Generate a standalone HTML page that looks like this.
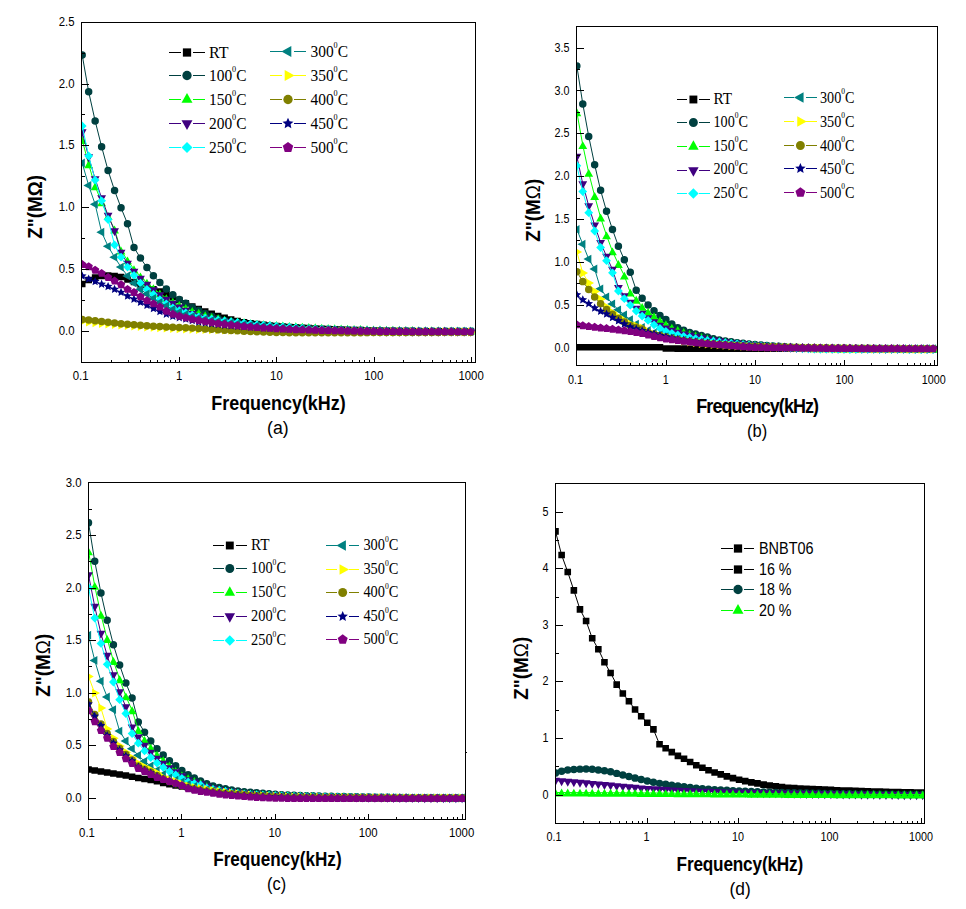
<!DOCTYPE html><html><head><meta charset="utf-8"><style>html,body{margin:0;padding:0;background:#fff;overflow:hidden}svg{display:block}.tk{font-family:"Liberation Sans", sans-serif;font-size:12px;fill:#000}.ti{font-family:"Liberation Sans", sans-serif;font-size:20px;font-weight:bold;fill:#000}.ty{font-family:"Liberation Sans", sans-serif;font-size:20px;font-weight:bold;fill:#000}.sl{font-family:"Liberation Sans", sans-serif;font-size:18px;fill:#000}.lg{font-family:"Liberation Serif", serif;font-size:16px;fill:#000}.lgs{font-family:"Liberation Sans", sans-serif;font-size:16px;fill:#000}</style></head><body>
<svg width="966" height="909" viewBox="0 0 966 909">
<rect width="966" height="909" fill="#fff"/>
<clipPath id="cpa"><rect x="82" y="23" width="393" height="339"/></clipPath>
<g clip-path="url(#cpa)">
<path d="M82.2 284L88.67 280L95.15 277.5L101.62 276L108.09 275.5L114.57 276L121.04 277L127.51 279.5L133.99 282.02L140.46 284.5L146.93 286.89L153.41 289.2L159.88 291.44L166.35 293.97L172.83 296.9L179.3 300L185.77 303.32L192.25 306.5L198.72 309.11L205.19 311.5L211.67 313.86L218.14 316L224.61 317.86L231.09 319.55L237.56 321.02L244.03 322.23L250.51 323.27L256.98 324.15L263.45 324.87L269.93 325.49L276.4 326.03L282.87 326.5L289.35 326.94L295.82 327.35L302.29 327.74L308.77 328.1L315.24 328.44L321.71 328.74L328.19 329L334.66 329.24L341.13 329.48L347.61 329.71L354.08 329.93L360.55 330.14L367.03 330.33L373.5 330.51L379.97 330.67L386.45 330.8L392.92 330.91L399.39 331L405.87 331.07L412.34 331.14L418.81 331.21L425.29 331.27L431.76 331.32L438.23 331.37L444.71 331.42L451.18 331.45L457.65 331.48L464.13 331.49L470.6 331.5" fill="none" stroke="#000000" stroke-width="1"/>
<path d="M78.9 280.7h6.6v6.6h-6.6zM85.37 276.7h6.6v6.6h-6.6zM91.85 274.2h6.6v6.6h-6.6zM98.32 272.7h6.6v6.6h-6.6zM104.79 272.2h6.6v6.6h-6.6zM111.27 272.7h6.6v6.6h-6.6zM117.74 273.7h6.6v6.6h-6.6zM124.21 276.2h6.6v6.6h-6.6zM130.69 278.72h6.6v6.6h-6.6zM137.16 281.2h6.6v6.6h-6.6zM143.63 283.59h6.6v6.6h-6.6zM150.11 285.9h6.6v6.6h-6.6zM156.58 288.14h6.6v6.6h-6.6zM163.05 290.67h6.6v6.6h-6.6zM169.53 293.6h6.6v6.6h-6.6zM176 296.7h6.6v6.6h-6.6zM182.47 300.02h6.6v6.6h-6.6zM188.95 303.2h6.6v6.6h-6.6zM195.42 305.81h6.6v6.6h-6.6zM201.89 308.2h6.6v6.6h-6.6zM208.37 310.56h6.6v6.6h-6.6zM214.84 312.7h6.6v6.6h-6.6zM221.31 314.56h6.6v6.6h-6.6zM227.79 316.25h6.6v6.6h-6.6zM234.26 317.72h6.6v6.6h-6.6zM240.73 318.93h6.6v6.6h-6.6zM247.21 319.97h6.6v6.6h-6.6zM253.68 320.85h6.6v6.6h-6.6zM260.15 321.57h6.6v6.6h-6.6zM266.63 322.19h6.6v6.6h-6.6zM273.1 322.73h6.6v6.6h-6.6zM279.57 323.2h6.6v6.6h-6.6zM286.05 323.64h6.6v6.6h-6.6zM292.52 324.05h6.6v6.6h-6.6zM298.99 324.44h6.6v6.6h-6.6zM305.47 324.8h6.6v6.6h-6.6zM311.94 325.14h6.6v6.6h-6.6zM318.41 325.44h6.6v6.6h-6.6zM324.89 325.7h6.6v6.6h-6.6zM331.36 325.94h6.6v6.6h-6.6zM337.83 326.18h6.6v6.6h-6.6zM344.31 326.41h6.6v6.6h-6.6zM350.78 326.63h6.6v6.6h-6.6zM357.25 326.84h6.6v6.6h-6.6zM363.73 327.03h6.6v6.6h-6.6zM370.2 327.21h6.6v6.6h-6.6zM376.67 327.37h6.6v6.6h-6.6zM383.15 327.5h6.6v6.6h-6.6zM389.62 327.61h6.6v6.6h-6.6zM396.09 327.7h6.6v6.6h-6.6zM402.57 327.77h6.6v6.6h-6.6zM409.04 327.84h6.6v6.6h-6.6zM415.51 327.91h6.6v6.6h-6.6zM421.99 327.97h6.6v6.6h-6.6zM428.46 328.02h6.6v6.6h-6.6zM434.93 328.07h6.6v6.6h-6.6zM441.41 328.12h6.6v6.6h-6.6zM447.88 328.15h6.6v6.6h-6.6zM454.35 328.18h6.6v6.6h-6.6zM460.83 328.19h6.6v6.6h-6.6zM467.3 328.2h6.6v6.6h-6.6z" fill="#000000"/>
<path d="M82.2 55L88.67 91.8L95.15 120.9L101.62 146.7L108.09 170.5L114.57 190.5L121.04 207.8L127.51 223.7L133.99 247.5L140.46 258.1L146.93 267.4L153.41 275.8L159.88 282.5L166.35 289L172.83 294.7L179.3 299.5L185.77 303.3L192.25 307.2L198.72 310.5L205.19 313.5L211.67 316.3L218.14 318.6L224.61 320.5L231.09 322L237.56 323.08L244.03 324.41L250.51 325.45L256.98 326.01L263.45 326.66L269.93 327.45L276.4 327.91L282.87 328.27L289.35 328.57L295.82 328.83L302.29 329.09L308.77 329.35L315.24 329.58L321.71 329.8L328.19 330L334.66 330.17L341.13 330.3L347.61 330.41L354.08 330.51L360.55 330.61L367.03 330.69L373.5 330.77L379.97 330.84L386.45 330.9L392.92 330.95L399.39 331L405.87 331.04L412.34 331.08L418.81 331.12L425.29 331.16L431.76 331.19L438.23 331.22L444.71 331.25L451.18 331.27L457.65 331.29L464.13 331.3L470.6 331.3" fill="none" stroke="#004040" stroke-width="1"/>
<path d="M78.46 55a3.74 3.74 0 1 0 7.48 0a3.74 3.74 0 1 0 -7.48 0zM84.93 91.8a3.74 3.74 0 1 0 7.48 0a3.74 3.74 0 1 0 -7.48 0zM91.41 120.9a3.74 3.74 0 1 0 7.48 0a3.74 3.74 0 1 0 -7.48 0zM97.88 146.7a3.74 3.74 0 1 0 7.48 0a3.74 3.74 0 1 0 -7.48 0zM104.35 170.5a3.74 3.74 0 1 0 7.48 0a3.74 3.74 0 1 0 -7.48 0zM110.83 190.5a3.74 3.74 0 1 0 7.48 0a3.74 3.74 0 1 0 -7.48 0zM117.3 207.8a3.74 3.74 0 1 0 7.48 0a3.74 3.74 0 1 0 -7.48 0zM123.77 223.7a3.74 3.74 0 1 0 7.48 0a3.74 3.74 0 1 0 -7.48 0zM130.25 247.5a3.74 3.74 0 1 0 7.48 0a3.74 3.74 0 1 0 -7.48 0zM136.72 258.1a3.74 3.74 0 1 0 7.48 0a3.74 3.74 0 1 0 -7.48 0zM143.19 267.4a3.74 3.74 0 1 0 7.48 0a3.74 3.74 0 1 0 -7.48 0zM149.67 275.8a3.74 3.74 0 1 0 7.48 0a3.74 3.74 0 1 0 -7.48 0zM156.14 282.5a3.74 3.74 0 1 0 7.48 0a3.74 3.74 0 1 0 -7.48 0zM162.61 289a3.74 3.74 0 1 0 7.48 0a3.74 3.74 0 1 0 -7.48 0zM169.09 294.7a3.74 3.74 0 1 0 7.48 0a3.74 3.74 0 1 0 -7.48 0zM175.56 299.5a3.74 3.74 0 1 0 7.48 0a3.74 3.74 0 1 0 -7.48 0zM182.03 303.3a3.74 3.74 0 1 0 7.48 0a3.74 3.74 0 1 0 -7.48 0zM188.51 307.2a3.74 3.74 0 1 0 7.48 0a3.74 3.74 0 1 0 -7.48 0zM194.98 310.5a3.74 3.74 0 1 0 7.48 0a3.74 3.74 0 1 0 -7.48 0zM201.45 313.5a3.74 3.74 0 1 0 7.48 0a3.74 3.74 0 1 0 -7.48 0zM207.93 316.3a3.74 3.74 0 1 0 7.48 0a3.74 3.74 0 1 0 -7.48 0zM214.4 318.6a3.74 3.74 0 1 0 7.48 0a3.74 3.74 0 1 0 -7.48 0zM220.87 320.5a3.74 3.74 0 1 0 7.48 0a3.74 3.74 0 1 0 -7.48 0zM227.35 322a3.74 3.74 0 1 0 7.48 0a3.74 3.74 0 1 0 -7.48 0zM233.82 323.08a3.74 3.74 0 1 0 7.48 0a3.74 3.74 0 1 0 -7.48 0zM240.29 324.41a3.74 3.74 0 1 0 7.48 0a3.74 3.74 0 1 0 -7.48 0zM246.77 325.45a3.74 3.74 0 1 0 7.48 0a3.74 3.74 0 1 0 -7.48 0zM253.24 326.01a3.74 3.74 0 1 0 7.48 0a3.74 3.74 0 1 0 -7.48 0zM259.71 326.66a3.74 3.74 0 1 0 7.48 0a3.74 3.74 0 1 0 -7.48 0zM266.19 327.45a3.74 3.74 0 1 0 7.48 0a3.74 3.74 0 1 0 -7.48 0zM272.66 327.91a3.74 3.74 0 1 0 7.48 0a3.74 3.74 0 1 0 -7.48 0zM279.13 328.27a3.74 3.74 0 1 0 7.48 0a3.74 3.74 0 1 0 -7.48 0zM285.61 328.57a3.74 3.74 0 1 0 7.48 0a3.74 3.74 0 1 0 -7.48 0zM292.08 328.83a3.74 3.74 0 1 0 7.48 0a3.74 3.74 0 1 0 -7.48 0zM298.55 329.09a3.74 3.74 0 1 0 7.48 0a3.74 3.74 0 1 0 -7.48 0zM305.03 329.35a3.74 3.74 0 1 0 7.48 0a3.74 3.74 0 1 0 -7.48 0zM311.5 329.58a3.74 3.74 0 1 0 7.48 0a3.74 3.74 0 1 0 -7.48 0zM317.97 329.8a3.74 3.74 0 1 0 7.48 0a3.74 3.74 0 1 0 -7.48 0zM324.45 330a3.74 3.74 0 1 0 7.48 0a3.74 3.74 0 1 0 -7.48 0zM330.92 330.17a3.74 3.74 0 1 0 7.48 0a3.74 3.74 0 1 0 -7.48 0zM337.39 330.3a3.74 3.74 0 1 0 7.48 0a3.74 3.74 0 1 0 -7.48 0zM343.87 330.41a3.74 3.74 0 1 0 7.48 0a3.74 3.74 0 1 0 -7.48 0zM350.34 330.51a3.74 3.74 0 1 0 7.48 0a3.74 3.74 0 1 0 -7.48 0zM356.81 330.61a3.74 3.74 0 1 0 7.48 0a3.74 3.74 0 1 0 -7.48 0zM363.29 330.69a3.74 3.74 0 1 0 7.48 0a3.74 3.74 0 1 0 -7.48 0zM369.76 330.77a3.74 3.74 0 1 0 7.48 0a3.74 3.74 0 1 0 -7.48 0zM376.23 330.84a3.74 3.74 0 1 0 7.48 0a3.74 3.74 0 1 0 -7.48 0zM382.71 330.9a3.74 3.74 0 1 0 7.48 0a3.74 3.74 0 1 0 -7.48 0zM389.18 330.95a3.74 3.74 0 1 0 7.48 0a3.74 3.74 0 1 0 -7.48 0zM395.65 331a3.74 3.74 0 1 0 7.48 0a3.74 3.74 0 1 0 -7.48 0zM402.13 331.04a3.74 3.74 0 1 0 7.48 0a3.74 3.74 0 1 0 -7.48 0zM408.6 331.08a3.74 3.74 0 1 0 7.48 0a3.74 3.74 0 1 0 -7.48 0zM415.07 331.12a3.74 3.74 0 1 0 7.48 0a3.74 3.74 0 1 0 -7.48 0zM421.55 331.16a3.74 3.74 0 1 0 7.48 0a3.74 3.74 0 1 0 -7.48 0zM428.02 331.19a3.74 3.74 0 1 0 7.48 0a3.74 3.74 0 1 0 -7.48 0zM434.49 331.22a3.74 3.74 0 1 0 7.48 0a3.74 3.74 0 1 0 -7.48 0zM440.97 331.25a3.74 3.74 0 1 0 7.48 0a3.74 3.74 0 1 0 -7.48 0zM447.44 331.27a3.74 3.74 0 1 0 7.48 0a3.74 3.74 0 1 0 -7.48 0zM453.91 331.29a3.74 3.74 0 1 0 7.48 0a3.74 3.74 0 1 0 -7.48 0zM460.39 331.3a3.74 3.74 0 1 0 7.48 0a3.74 3.74 0 1 0 -7.48 0zM466.86 331.3a3.74 3.74 0 1 0 7.48 0a3.74 3.74 0 1 0 -7.48 0z" fill="#004040"/>
<path d="M82.2 140L88.67 164.3L95.15 186.3L101.62 202.3L108.09 216L114.57 229.5L121.04 250.5L127.51 260.4L133.99 269.2L140.46 276.4L146.93 282.6L153.41 288.3L159.88 293.5L166.35 298.1L172.83 301.8L179.3 304.99L185.77 308L192.25 311L198.72 312.8L205.19 315.3L211.67 317L218.14 318.2L224.61 319.8L231.09 320.7L237.56 321.5L244.03 322.3L250.51 323.2L256.98 323.75L263.45 324.2L269.93 324.65L276.4 325.08L282.87 325.49L289.35 325.89L295.82 326.27L302.29 326.63L308.77 326.98L315.24 327.33L321.71 327.67L328.19 327.98L334.66 328.26L341.13 328.5L347.61 328.71L354.08 328.91L360.55 329.08L367.03 329.24L373.5 329.38L379.97 329.5L386.45 329.61L392.92 329.71L399.39 329.81L405.87 329.91L412.34 330L418.81 330.09L425.29 330.18L431.76 330.25L438.23 330.32L444.71 330.38L451.18 330.43L457.65 330.46L464.13 330.49L470.6 330.5" fill="none" stroke="#00ff00" stroke-width="1"/>
<path d="M82.2 136.04L86.6 143.96L77.8 143.96zM88.67 160.34L93.07 168.26L84.27 168.26zM95.15 182.34L99.55 190.26L90.75 190.26zM101.62 198.34L106.02 206.26L97.22 206.26zM108.09 212.04L112.49 219.96L103.69 219.96zM114.57 225.54L118.97 233.46L110.17 233.46zM121.04 246.54L125.44 254.46L116.64 254.46zM127.51 256.44L131.91 264.36L123.11 264.36zM133.99 265.24L138.39 273.16L129.59 273.16zM140.46 272.44L144.86 280.36L136.06 280.36zM146.93 278.64L151.33 286.56L142.53 286.56zM153.41 284.34L157.81 292.26L149.01 292.26zM159.88 289.54L164.28 297.46L155.48 297.46zM166.35 294.14L170.75 302.06L161.95 302.06zM172.83 297.84L177.23 305.76L168.43 305.76zM179.3 301.03L183.7 308.95L174.9 308.95zM185.77 304.04L190.17 311.96L181.37 311.96zM192.25 307.04L196.65 314.96L187.85 314.96zM198.72 308.84L203.12 316.76L194.32 316.76zM205.19 311.34L209.59 319.26L200.79 319.26zM211.67 313.04L216.07 320.96L207.27 320.96zM218.14 314.24L222.54 322.16L213.74 322.16zM224.61 315.84L229.01 323.76L220.21 323.76zM231.09 316.74L235.49 324.66L226.69 324.66zM237.56 317.54L241.96 325.46L233.16 325.46zM244.03 318.34L248.43 326.26L239.63 326.26zM250.51 319.24L254.91 327.16L246.11 327.16zM256.98 319.79L261.38 327.71L252.58 327.71zM263.45 320.24L267.85 328.16L259.05 328.16zM269.93 320.69L274.33 328.61L265.53 328.61zM276.4 321.12L280.8 329.04L272 329.04zM282.87 321.53L287.27 329.45L278.47 329.45zM289.35 321.93L293.75 329.85L284.95 329.85zM295.82 322.31L300.22 330.23L291.42 330.23zM302.29 322.67L306.69 330.59L297.89 330.59zM308.77 323.02L313.17 330.94L304.37 330.94zM315.24 323.37L319.64 331.29L310.84 331.29zM321.71 323.71L326.11 331.63L317.31 331.63zM328.19 324.02L332.59 331.94L323.79 331.94zM334.66 324.3L339.06 332.22L330.26 332.22zM341.13 324.54L345.53 332.46L336.73 332.46zM347.61 324.75L352.01 332.67L343.21 332.67zM354.08 324.95L358.48 332.87L349.68 332.87zM360.55 325.12L364.95 333.04L356.15 333.04zM367.03 325.28L371.43 333.2L362.63 333.2zM373.5 325.42L377.9 333.34L369.1 333.34zM379.97 325.54L384.37 333.46L375.57 333.46zM386.45 325.65L390.85 333.57L382.05 333.57zM392.92 325.75L397.32 333.67L388.52 333.67zM399.39 325.85L403.79 333.77L394.99 333.77zM405.87 325.95L410.27 333.87L401.47 333.87zM412.34 326.04L416.74 333.96L407.94 333.96zM418.81 326.13L423.21 334.05L414.41 334.05zM425.29 326.22L429.69 334.14L420.89 334.14zM431.76 326.29L436.16 334.21L427.36 334.21zM438.23 326.36L442.63 334.28L433.83 334.28zM444.71 326.42L449.11 334.34L440.31 334.34zM451.18 326.47L455.58 334.39L446.78 334.39zM457.65 326.5L462.05 334.42L453.25 334.42zM464.13 326.53L468.53 334.45L459.73 334.45zM470.6 326.54L475 334.46L466.2 334.46z" fill="#00ff00"/>
<path d="M82.2 132L88.67 157L95.15 179L101.62 198L108.09 215.5L114.57 230.8L121.04 252.4L127.51 263.5L133.99 271.5L140.46 278.5L146.93 284.5L153.41 290L159.88 295L166.35 299.5L172.83 303.5L179.3 307.17L185.77 310.5L192.25 313.55L198.72 316L205.19 317.71L211.67 319.17L218.14 320.41L224.61 321.51L231.09 322.5L237.56 323.43L244.03 324.29L250.51 325.09L256.98 325.81L263.45 326.45L269.93 327L276.4 327.5L282.87 327.97L289.35 328.41L295.82 328.81L302.29 329.18L308.77 329.5L315.24 329.78L321.71 330L328.19 330.19L334.66 330.38L341.13 330.56L347.61 330.73L354.08 330.89L360.55 331.04L367.03 331.17L373.5 331.28L379.97 331.37L386.45 331.44L392.92 331.49L399.39 331.5L405.87 331.5L412.34 331.5L418.81 331.5L425.29 331.5L431.76 331.5L438.23 331.5L444.71 331.5L451.18 331.5L457.65 331.5L464.13 331.5L470.6 331.5" fill="none" stroke="#400080" stroke-width="1"/>
<path d="M82.2 137.28L86.6 129.36L77.8 129.36zM88.67 162.28L93.07 154.36L84.27 154.36zM95.15 184.28L99.55 176.36L90.75 176.36zM101.62 203.28L106.02 195.36L97.22 195.36zM108.09 220.78L112.49 212.86L103.69 212.86zM114.57 236.08L118.97 228.16L110.17 228.16zM121.04 257.68L125.44 249.76L116.64 249.76zM127.51 268.78L131.91 260.86L123.11 260.86zM133.99 276.78L138.39 268.86L129.59 268.86zM140.46 283.78L144.86 275.86L136.06 275.86zM146.93 289.78L151.33 281.86L142.53 281.86zM153.41 295.28L157.81 287.36L149.01 287.36zM159.88 300.28L164.28 292.36L155.48 292.36zM166.35 304.78L170.75 296.86L161.95 296.86zM172.83 308.78L177.23 300.86L168.43 300.86zM179.3 312.45L183.7 304.53L174.9 304.53zM185.77 315.78L190.17 307.86L181.37 307.86zM192.25 318.83L196.65 310.91L187.85 310.91zM198.72 321.28L203.12 313.36L194.32 313.36zM205.19 322.99L209.59 315.07L200.79 315.07zM211.67 324.45L216.07 316.53L207.27 316.53zM218.14 325.69L222.54 317.77L213.74 317.77zM224.61 326.79L229.01 318.87L220.21 318.87zM231.09 327.78L235.49 319.86L226.69 319.86zM237.56 328.71L241.96 320.79L233.16 320.79zM244.03 329.57L248.43 321.65L239.63 321.65zM250.51 330.37L254.91 322.45L246.11 322.45zM256.98 331.09L261.38 323.17L252.58 323.17zM263.45 331.73L267.85 323.81L259.05 323.81zM269.93 332.28L274.33 324.36L265.53 324.36zM276.4 332.78L280.8 324.86L272 324.86zM282.87 333.25L287.27 325.33L278.47 325.33zM289.35 333.69L293.75 325.77L284.95 325.77zM295.82 334.09L300.22 326.17L291.42 326.17zM302.29 334.46L306.69 326.54L297.89 326.54zM308.77 334.78L313.17 326.86L304.37 326.86zM315.24 335.06L319.64 327.14L310.84 327.14zM321.71 335.28L326.11 327.36L317.31 327.36zM328.19 335.47L332.59 327.55L323.79 327.55zM334.66 335.66L339.06 327.74L330.26 327.74zM341.13 335.84L345.53 327.92L336.73 327.92zM347.61 336.01L352.01 328.09L343.21 328.09zM354.08 336.17L358.48 328.25L349.68 328.25zM360.55 336.32L364.95 328.4L356.15 328.4zM367.03 336.45L371.43 328.53L362.63 328.53zM373.5 336.56L377.9 328.64L369.1 328.64zM379.97 336.65L384.37 328.73L375.57 328.73zM386.45 336.72L390.85 328.8L382.05 328.8zM392.92 336.77L397.32 328.85L388.52 328.85zM399.39 336.78L403.79 328.86L394.99 328.86zM405.87 336.78L410.27 328.86L401.47 328.86zM412.34 336.78L416.74 328.86L407.94 328.86zM418.81 336.78L423.21 328.86L414.41 328.86zM425.29 336.78L429.69 328.86L420.89 328.86zM431.76 336.78L436.16 328.86L427.36 328.86zM438.23 336.78L442.63 328.86L433.83 328.86zM444.71 336.78L449.11 328.86L440.31 328.86zM451.18 336.78L455.58 328.86L446.78 328.86zM457.65 336.78L462.05 328.86L453.25 328.86zM464.13 336.78L468.53 328.86L459.73 328.86zM470.6 336.78L475 328.86L466.2 328.86z" fill="#400080"/>
<path d="M82.2 126L88.67 155.9L95.15 180.1L101.62 200.8L108.09 219.5L114.57 244.9L121.04 257.2L127.51 267.1L133.99 275.4L140.46 283.1L146.93 289.3L153.41 294.5L159.88 299.7L166.35 303.8L172.83 308L179.3 310.77L185.77 313L192.25 315.11L198.72 316.8L205.19 318.05L211.67 319.15L218.14 320.11L224.61 320.98L231.09 321.77L237.56 322.52L244.03 323.25L250.51 323.92L256.98 324.56L263.45 325.15L269.93 325.71L276.4 326.23L282.87 326.72L289.35 327.2L295.82 327.68L302.29 328.13L308.77 328.56L315.24 328.93L321.71 329.25L328.19 329.5L334.66 329.7L341.13 329.89L347.61 330.07L354.08 330.23L360.55 330.38L367.03 330.51L373.5 330.63L379.97 330.74L386.45 330.84L392.92 330.93L399.39 331L405.87 331.07L412.34 331.13L418.81 331.2L425.29 331.26L431.76 331.32L438.23 331.37L444.71 331.41L451.18 331.45L457.65 331.48L464.13 331.49L470.6 331.5" fill="none" stroke="#00ffff" stroke-width="1"/>
<path d="M82.2 121.6L86.6 126L82.2 130.4L77.8 126zM88.67 151.5L93.07 155.9L88.67 160.3L84.27 155.9zM95.15 175.7L99.55 180.1L95.15 184.5L90.75 180.1zM101.62 196.4L106.02 200.8L101.62 205.2L97.22 200.8zM108.09 215.1L112.49 219.5L108.09 223.9L103.69 219.5zM114.57 240.5L118.97 244.9L114.57 249.3L110.17 244.9zM121.04 252.8L125.44 257.2L121.04 261.6L116.64 257.2zM127.51 262.7L131.91 267.1L127.51 271.5L123.11 267.1zM133.99 271L138.39 275.4L133.99 279.8L129.59 275.4zM140.46 278.7L144.86 283.1L140.46 287.5L136.06 283.1zM146.93 284.9L151.33 289.3L146.93 293.7L142.53 289.3zM153.41 290.1L157.81 294.5L153.41 298.9L149.01 294.5zM159.88 295.3L164.28 299.7L159.88 304.1L155.48 299.7zM166.35 299.4L170.75 303.8L166.35 308.2L161.95 303.8zM172.83 303.6L177.23 308L172.83 312.4L168.43 308zM179.3 306.37L183.7 310.77L179.3 315.17L174.9 310.77zM185.77 308.6L190.17 313L185.77 317.4L181.37 313zM192.25 310.71L196.65 315.11L192.25 319.51L187.85 315.11zM198.72 312.4L203.12 316.8L198.72 321.2L194.32 316.8zM205.19 313.65L209.59 318.05L205.19 322.45L200.79 318.05zM211.67 314.75L216.07 319.15L211.67 323.55L207.27 319.15zM218.14 315.71L222.54 320.11L218.14 324.51L213.74 320.11zM224.61 316.58L229.01 320.98L224.61 325.38L220.21 320.98zM231.09 317.37L235.49 321.77L231.09 326.17L226.69 321.77zM237.56 318.12L241.96 322.52L237.56 326.92L233.16 322.52zM244.03 318.85L248.43 323.25L244.03 327.65L239.63 323.25zM250.51 319.52L254.91 323.92L250.51 328.32L246.11 323.92zM256.98 320.16L261.38 324.56L256.98 328.96L252.58 324.56zM263.45 320.75L267.85 325.15L263.45 329.55L259.05 325.15zM269.93 321.31L274.33 325.71L269.93 330.11L265.53 325.71zM276.4 321.83L280.8 326.23L276.4 330.63L272 326.23zM282.87 322.32L287.27 326.72L282.87 331.12L278.47 326.72zM289.35 322.8L293.75 327.2L289.35 331.6L284.95 327.2zM295.82 323.28L300.22 327.68L295.82 332.08L291.42 327.68zM302.29 323.73L306.69 328.13L302.29 332.53L297.89 328.13zM308.77 324.16L313.17 328.56L308.77 332.96L304.37 328.56zM315.24 324.53L319.64 328.93L315.24 333.33L310.84 328.93zM321.71 324.85L326.11 329.25L321.71 333.65L317.31 329.25zM328.19 325.1L332.59 329.5L328.19 333.9L323.79 329.5zM334.66 325.3L339.06 329.7L334.66 334.1L330.26 329.7zM341.13 325.49L345.53 329.89L341.13 334.29L336.73 329.89zM347.61 325.67L352.01 330.07L347.61 334.47L343.21 330.07zM354.08 325.83L358.48 330.23L354.08 334.63L349.68 330.23zM360.55 325.98L364.95 330.38L360.55 334.78L356.15 330.38zM367.03 326.11L371.43 330.51L367.03 334.91L362.63 330.51zM373.5 326.23L377.9 330.63L373.5 335.03L369.1 330.63zM379.97 326.34L384.37 330.74L379.97 335.14L375.57 330.74zM386.45 326.44L390.85 330.84L386.45 335.24L382.05 330.84zM392.92 326.53L397.32 330.93L392.92 335.33L388.52 330.93zM399.39 326.6L403.79 331L399.39 335.4L394.99 331zM405.87 326.67L410.27 331.07L405.87 335.47L401.47 331.07zM412.34 326.73L416.74 331.13L412.34 335.53L407.94 331.13zM418.81 326.8L423.21 331.2L418.81 335.6L414.41 331.2zM425.29 326.86L429.69 331.26L425.29 335.66L420.89 331.26zM431.76 326.92L436.16 331.32L431.76 335.72L427.36 331.32zM438.23 326.97L442.63 331.37L438.23 335.77L433.83 331.37zM444.71 327.01L449.11 331.41L444.71 335.81L440.31 331.41zM451.18 327.05L455.58 331.45L451.18 335.85L446.78 331.45zM457.65 327.08L462.05 331.48L457.65 335.88L453.25 331.48zM464.13 327.09L468.53 331.49L464.13 335.89L459.73 331.49zM470.6 327.1L475 331.5L470.6 335.9L466.2 331.5z" fill="#00ffff"/>
<path d="M82.2 163L88.67 185.4L95.15 204.3L101.62 232.2L108.09 246.3L114.57 257.2L121.04 267.1L127.51 275.9L133.99 283.1L140.46 289.3L146.93 294L153.41 298.5L159.88 302.5L166.35 306L172.83 309.5L179.3 312.23L185.77 314.5L192.25 316.44L198.72 318L205.19 319.22L211.67 320.31L218.14 321.29L224.61 322.18L231.09 322.98L237.56 323.73L244.03 324.43L250.51 325.09L256.98 325.7L263.45 326.26L269.93 326.78L276.4 327.26L282.87 327.69L289.35 328.1L295.82 328.49L302.29 328.86L308.77 329.2L315.24 329.51L321.71 329.78L328.19 330L334.66 330.2L341.13 330.4L347.61 330.59L354.08 330.77L360.55 330.94L367.03 331.1L373.5 331.23L379.97 331.34L386.45 331.43L392.92 331.48L399.39 331.5L405.87 331.5L412.34 331.5L418.81 331.5L425.29 331.5L431.76 331.5L438.23 331.5L444.71 331.5L451.18 331.5L457.65 331.5L464.13 331.5L470.6 331.5" fill="none" stroke="#008080" stroke-width="1"/>
<path d="M76.92 163L84.84 167.4L84.84 158.6zM83.39 185.4L91.31 189.8L91.31 181zM89.87 204.3L97.79 208.7L97.79 199.9zM96.34 232.2L104.26 236.6L104.26 227.8zM102.81 246.3L110.73 250.7L110.73 241.9zM109.29 257.2L117.21 261.6L117.21 252.8zM115.76 267.1L123.68 271.5L123.68 262.7zM122.23 275.9L130.15 280.3L130.15 271.5zM128.71 283.1L136.63 287.5L136.63 278.7zM135.18 289.3L143.1 293.7L143.1 284.9zM141.65 294L149.57 298.4L149.57 289.6zM148.13 298.5L156.05 302.9L156.05 294.1zM154.6 302.5L162.52 306.9L162.52 298.1zM161.07 306L168.99 310.4L168.99 301.6zM167.55 309.5L175.47 313.9L175.47 305.1zM174.02 312.23L181.94 316.63L181.94 307.83zM180.49 314.5L188.41 318.9L188.41 310.1zM186.97 316.44L194.89 320.84L194.89 312.04zM193.44 318L201.36 322.4L201.36 313.6zM199.91 319.22L207.83 323.62L207.83 314.82zM206.39 320.31L214.31 324.71L214.31 315.91zM212.86 321.29L220.78 325.69L220.78 316.89zM219.33 322.18L227.25 326.58L227.25 317.78zM225.81 322.98L233.73 327.38L233.73 318.58zM232.28 323.73L240.2 328.13L240.2 319.33zM238.75 324.43L246.67 328.83L246.67 320.03zM245.23 325.09L253.15 329.49L253.15 320.69zM251.7 325.7L259.62 330.1L259.62 321.3zM258.17 326.26L266.09 330.66L266.09 321.86zM264.65 326.78L272.57 331.18L272.57 322.38zM271.12 327.26L279.04 331.66L279.04 322.86zM277.59 327.69L285.51 332.09L285.51 323.29zM284.07 328.1L291.99 332.5L291.99 323.7zM290.54 328.49L298.46 332.89L298.46 324.09zM297.01 328.86L304.93 333.26L304.93 324.46zM303.49 329.2L311.41 333.6L311.41 324.8zM309.96 329.51L317.88 333.91L317.88 325.11zM316.43 329.78L324.35 334.18L324.35 325.38zM322.91 330L330.83 334.4L330.83 325.6zM329.38 330.2L337.3 334.6L337.3 325.8zM335.85 330.4L343.77 334.8L343.77 326zM342.33 330.59L350.25 334.99L350.25 326.19zM348.8 330.77L356.72 335.17L356.72 326.37zM355.27 330.94L363.19 335.34L363.19 326.54zM361.75 331.1L369.67 335.5L369.67 326.7zM368.22 331.23L376.14 335.63L376.14 326.83zM374.69 331.34L382.61 335.74L382.61 326.94zM381.17 331.43L389.09 335.83L389.09 327.03zM387.64 331.48L395.56 335.88L395.56 327.08zM394.11 331.5L402.03 335.9L402.03 327.1zM400.59 331.5L408.51 335.9L408.51 327.1zM407.06 331.5L414.98 335.9L414.98 327.1zM413.53 331.5L421.45 335.9L421.45 327.1zM420.01 331.5L427.93 335.9L427.93 327.1zM426.48 331.5L434.4 335.9L434.4 327.1zM432.95 331.5L440.87 335.9L440.87 327.1zM439.43 331.5L447.35 335.9L447.35 327.1zM445.9 331.5L453.82 335.9L453.82 327.1zM452.37 331.5L460.29 335.9L460.29 327.1zM458.85 331.5L466.77 335.9L466.77 327.1zM465.32 331.5L473.24 335.9L473.24 327.1z" fill="#008080"/>
<path d="M82.2 321.5L88.67 322.21L95.15 322.88L101.62 323.5L108.09 324.07L114.57 324.61L121.04 325.13L127.51 325.62L133.99 326.09L140.46 326.55L146.93 326.99L153.41 327.41L159.88 327.8L166.35 328.17L172.83 328.54L179.3 328.88L185.77 329.16L192.25 329.36L198.72 329.54L205.19 329.71L211.67 329.86L218.14 330L224.61 330.12L231.09 330.24L237.56 330.35L244.03 330.45L250.51 330.55L256.98 330.64L263.45 330.72L269.93 330.8L276.4 330.88L282.87 330.95L289.35 331.02L295.82 331.08L302.29 331.14L308.77 331.2L315.24 331.26L321.71 331.31L328.19 331.36L334.66 331.4L341.13 331.45L347.61 331.49L354.08 331.52L360.55 331.56L367.03 331.6L373.5 331.63L379.97 331.67L386.45 331.7L392.92 331.73L399.39 331.77L405.87 331.8L412.34 331.82L418.81 331.85L425.29 331.88L431.76 331.9L438.23 331.92L444.71 331.94L451.18 331.96L457.65 331.98L464.13 331.99L470.6 332" fill="none" stroke="#ffff00" stroke-width="1"/>
<path d="M87.48 321.5L79.56 325.9L79.56 317.1zM93.95 322.21L86.03 326.61L86.03 317.81zM100.43 322.88L92.51 327.28L92.51 318.48zM106.9 323.5L98.98 327.9L98.98 319.1zM113.37 324.07L105.45 328.47L105.45 319.67zM119.85 324.61L111.93 329.01L111.93 320.21zM126.32 325.13L118.4 329.53L118.4 320.73zM132.79 325.62L124.87 330.02L124.87 321.22zM139.27 326.09L131.35 330.49L131.35 321.69zM145.74 326.55L137.82 330.95L137.82 322.15zM152.21 326.99L144.29 331.39L144.29 322.59zM158.69 327.41L150.77 331.81L150.77 323.01zM165.16 327.8L157.24 332.2L157.24 323.4zM171.63 328.17L163.71 332.57L163.71 323.77zM178.11 328.54L170.19 332.94L170.19 324.14zM184.58 328.88L176.66 333.28L176.66 324.48zM191.05 329.16L183.13 333.56L183.13 324.76zM197.53 329.36L189.61 333.76L189.61 324.96zM204 329.54L196.08 333.94L196.08 325.14zM210.47 329.71L202.55 334.11L202.55 325.31zM216.95 329.86L209.03 334.26L209.03 325.46zM223.42 330L215.5 334.4L215.5 325.6zM229.89 330.12L221.97 334.52L221.97 325.72zM236.37 330.24L228.45 334.64L228.45 325.84zM242.84 330.35L234.92 334.75L234.92 325.95zM249.31 330.45L241.39 334.85L241.39 326.05zM255.79 330.55L247.87 334.95L247.87 326.15zM262.26 330.64L254.34 335.04L254.34 326.24zM268.73 330.72L260.81 335.12L260.81 326.32zM275.21 330.8L267.29 335.2L267.29 326.4zM281.68 330.88L273.76 335.28L273.76 326.48zM288.15 330.95L280.23 335.35L280.23 326.55zM294.63 331.02L286.71 335.42L286.71 326.62zM301.1 331.08L293.18 335.48L293.18 326.68zM307.57 331.14L299.65 335.54L299.65 326.74zM314.05 331.2L306.13 335.6L306.13 326.8zM320.52 331.26L312.6 335.66L312.6 326.86zM326.99 331.31L319.07 335.71L319.07 326.91zM333.47 331.36L325.55 335.76L325.55 326.96zM339.94 331.4L332.02 335.8L332.02 327zM346.41 331.45L338.49 335.85L338.49 327.05zM352.89 331.49L344.97 335.89L344.97 327.09zM359.36 331.52L351.44 335.92L351.44 327.12zM365.83 331.56L357.91 335.96L357.91 327.16zM372.31 331.6L364.39 336L364.39 327.2zM378.78 331.63L370.86 336.03L370.86 327.23zM385.25 331.67L377.33 336.07L377.33 327.27zM391.73 331.7L383.81 336.1L383.81 327.3zM398.2 331.73L390.28 336.13L390.28 327.33zM404.67 331.77L396.75 336.17L396.75 327.37zM411.15 331.8L403.23 336.2L403.23 327.4zM417.62 331.82L409.7 336.22L409.7 327.42zM424.09 331.85L416.17 336.25L416.17 327.45zM430.57 331.88L422.65 336.28L422.65 327.48zM437.04 331.9L429.12 336.3L429.12 327.5zM443.51 331.92L435.59 336.32L435.59 327.52zM449.99 331.94L442.07 336.34L442.07 327.54zM456.46 331.96L448.54 336.36L448.54 327.56zM462.93 331.98L455.01 336.38L455.01 327.58zM469.41 331.99L461.49 336.39L461.49 327.59zM475.88 332L467.96 336.4L467.96 327.6z" fill="#ffff00"/>
<path d="M82.2 319.4L88.67 320.1L95.15 320.8L101.62 321.5L108.09 322.22L114.57 322.95L121.04 323.65L127.51 324.29L133.99 324.85L140.46 325.35L146.93 325.8L153.41 326.21L159.88 326.57L166.35 326.91L172.83 327.23L179.3 327.54L185.77 327.81L192.25 328.12L198.72 328.48L205.19 328.89L211.67 329.31L218.14 329.73L224.61 330.13L231.09 330.5L237.56 330.85L244.03 331.21L250.51 331.56L256.98 331.87L263.45 332.12L269.93 332.3L276.4 332.43L282.87 332.55L289.35 332.65L295.82 332.73L302.29 332.78L308.77 332.8L315.24 332.8L321.71 332.79L328.19 332.77L334.66 332.76L341.13 332.74L347.61 332.71L354.08 332.68L360.55 332.66L367.03 332.63L373.5 332.6L379.97 332.57L386.45 332.55L392.92 332.52L399.39 332.5L405.87 332.48L412.34 332.46L418.81 332.44L425.29 332.42L431.76 332.41L438.23 332.39L444.71 332.37L451.18 332.35L457.65 332.33L464.13 332.32L470.6 332.3" fill="none" stroke="#808000" stroke-width="1"/>
<path d="M78.46 319.4a3.74 3.74 0 1 0 7.48 0a3.74 3.74 0 1 0 -7.48 0zM84.93 320.1a3.74 3.74 0 1 0 7.48 0a3.74 3.74 0 1 0 -7.48 0zM91.41 320.8a3.74 3.74 0 1 0 7.48 0a3.74 3.74 0 1 0 -7.48 0zM97.88 321.5a3.74 3.74 0 1 0 7.48 0a3.74 3.74 0 1 0 -7.48 0zM104.35 322.22a3.74 3.74 0 1 0 7.48 0a3.74 3.74 0 1 0 -7.48 0zM110.83 322.95a3.74 3.74 0 1 0 7.48 0a3.74 3.74 0 1 0 -7.48 0zM117.3 323.65a3.74 3.74 0 1 0 7.48 0a3.74 3.74 0 1 0 -7.48 0zM123.77 324.29a3.74 3.74 0 1 0 7.48 0a3.74 3.74 0 1 0 -7.48 0zM130.25 324.85a3.74 3.74 0 1 0 7.48 0a3.74 3.74 0 1 0 -7.48 0zM136.72 325.35a3.74 3.74 0 1 0 7.48 0a3.74 3.74 0 1 0 -7.48 0zM143.19 325.8a3.74 3.74 0 1 0 7.48 0a3.74 3.74 0 1 0 -7.48 0zM149.67 326.21a3.74 3.74 0 1 0 7.48 0a3.74 3.74 0 1 0 -7.48 0zM156.14 326.57a3.74 3.74 0 1 0 7.48 0a3.74 3.74 0 1 0 -7.48 0zM162.61 326.91a3.74 3.74 0 1 0 7.48 0a3.74 3.74 0 1 0 -7.48 0zM169.09 327.23a3.74 3.74 0 1 0 7.48 0a3.74 3.74 0 1 0 -7.48 0zM175.56 327.54a3.74 3.74 0 1 0 7.48 0a3.74 3.74 0 1 0 -7.48 0zM182.03 327.81a3.74 3.74 0 1 0 7.48 0a3.74 3.74 0 1 0 -7.48 0zM188.51 328.12a3.74 3.74 0 1 0 7.48 0a3.74 3.74 0 1 0 -7.48 0zM194.98 328.48a3.74 3.74 0 1 0 7.48 0a3.74 3.74 0 1 0 -7.48 0zM201.45 328.89a3.74 3.74 0 1 0 7.48 0a3.74 3.74 0 1 0 -7.48 0zM207.93 329.31a3.74 3.74 0 1 0 7.48 0a3.74 3.74 0 1 0 -7.48 0zM214.4 329.73a3.74 3.74 0 1 0 7.48 0a3.74 3.74 0 1 0 -7.48 0zM220.87 330.13a3.74 3.74 0 1 0 7.48 0a3.74 3.74 0 1 0 -7.48 0zM227.35 330.5a3.74 3.74 0 1 0 7.48 0a3.74 3.74 0 1 0 -7.48 0zM233.82 330.85a3.74 3.74 0 1 0 7.48 0a3.74 3.74 0 1 0 -7.48 0zM240.29 331.21a3.74 3.74 0 1 0 7.48 0a3.74 3.74 0 1 0 -7.48 0zM246.77 331.56a3.74 3.74 0 1 0 7.48 0a3.74 3.74 0 1 0 -7.48 0zM253.24 331.87a3.74 3.74 0 1 0 7.48 0a3.74 3.74 0 1 0 -7.48 0zM259.71 332.12a3.74 3.74 0 1 0 7.48 0a3.74 3.74 0 1 0 -7.48 0zM266.19 332.3a3.74 3.74 0 1 0 7.48 0a3.74 3.74 0 1 0 -7.48 0zM272.66 332.43a3.74 3.74 0 1 0 7.48 0a3.74 3.74 0 1 0 -7.48 0zM279.13 332.55a3.74 3.74 0 1 0 7.48 0a3.74 3.74 0 1 0 -7.48 0zM285.61 332.65a3.74 3.74 0 1 0 7.48 0a3.74 3.74 0 1 0 -7.48 0zM292.08 332.73a3.74 3.74 0 1 0 7.48 0a3.74 3.74 0 1 0 -7.48 0zM298.55 332.78a3.74 3.74 0 1 0 7.48 0a3.74 3.74 0 1 0 -7.48 0zM305.03 332.8a3.74 3.74 0 1 0 7.48 0a3.74 3.74 0 1 0 -7.48 0zM311.5 332.8a3.74 3.74 0 1 0 7.48 0a3.74 3.74 0 1 0 -7.48 0zM317.97 332.79a3.74 3.74 0 1 0 7.48 0a3.74 3.74 0 1 0 -7.48 0zM324.45 332.77a3.74 3.74 0 1 0 7.48 0a3.74 3.74 0 1 0 -7.48 0zM330.92 332.76a3.74 3.74 0 1 0 7.48 0a3.74 3.74 0 1 0 -7.48 0zM337.39 332.74a3.74 3.74 0 1 0 7.48 0a3.74 3.74 0 1 0 -7.48 0zM343.87 332.71a3.74 3.74 0 1 0 7.48 0a3.74 3.74 0 1 0 -7.48 0zM350.34 332.68a3.74 3.74 0 1 0 7.48 0a3.74 3.74 0 1 0 -7.48 0zM356.81 332.66a3.74 3.74 0 1 0 7.48 0a3.74 3.74 0 1 0 -7.48 0zM363.29 332.63a3.74 3.74 0 1 0 7.48 0a3.74 3.74 0 1 0 -7.48 0zM369.76 332.6a3.74 3.74 0 1 0 7.48 0a3.74 3.74 0 1 0 -7.48 0zM376.23 332.57a3.74 3.74 0 1 0 7.48 0a3.74 3.74 0 1 0 -7.48 0zM382.71 332.55a3.74 3.74 0 1 0 7.48 0a3.74 3.74 0 1 0 -7.48 0zM389.18 332.52a3.74 3.74 0 1 0 7.48 0a3.74 3.74 0 1 0 -7.48 0zM395.65 332.5a3.74 3.74 0 1 0 7.48 0a3.74 3.74 0 1 0 -7.48 0zM402.13 332.48a3.74 3.74 0 1 0 7.48 0a3.74 3.74 0 1 0 -7.48 0zM408.6 332.46a3.74 3.74 0 1 0 7.48 0a3.74 3.74 0 1 0 -7.48 0zM415.07 332.44a3.74 3.74 0 1 0 7.48 0a3.74 3.74 0 1 0 -7.48 0zM421.55 332.42a3.74 3.74 0 1 0 7.48 0a3.74 3.74 0 1 0 -7.48 0zM428.02 332.41a3.74 3.74 0 1 0 7.48 0a3.74 3.74 0 1 0 -7.48 0zM434.49 332.39a3.74 3.74 0 1 0 7.48 0a3.74 3.74 0 1 0 -7.48 0zM440.97 332.37a3.74 3.74 0 1 0 7.48 0a3.74 3.74 0 1 0 -7.48 0zM447.44 332.35a3.74 3.74 0 1 0 7.48 0a3.74 3.74 0 1 0 -7.48 0zM453.91 332.33a3.74 3.74 0 1 0 7.48 0a3.74 3.74 0 1 0 -7.48 0zM460.39 332.32a3.74 3.74 0 1 0 7.48 0a3.74 3.74 0 1 0 -7.48 0zM466.86 332.3a3.74 3.74 0 1 0 7.48 0a3.74 3.74 0 1 0 -7.48 0z" fill="#808000"/>
<path d="M82.2 276L88.67 279L95.15 281.5L101.62 284.2L108.09 286.5L114.57 289.3L121.04 292.4L127.51 296L133.99 299.2L140.46 302.3L146.93 305.4L153.41 308.5L159.88 311.6L166.35 314.2L172.83 316.3L179.3 317.72L185.77 319L192.25 320.6L198.72 322L205.19 322.97L211.67 323.82L218.14 324.57L224.61 325.23L231.09 325.82L237.56 326.32L244.03 326.78L250.51 327.21L256.98 327.62L263.45 328.01L269.93 328.36L276.4 328.68L282.87 328.97L289.35 329.21L295.82 329.4L302.29 329.55L308.77 329.68L315.24 329.81L321.71 329.94L328.19 330.06L334.66 330.18L341.13 330.29L347.61 330.4L354.08 330.51L360.55 330.61L367.03 330.7L373.5 330.8L379.97 330.88L386.45 330.96L392.92 331.04L399.39 331.11L405.87 331.18L412.34 331.24L418.81 331.29L425.29 331.34L431.76 331.38L438.23 331.42L444.71 331.45L451.18 331.47L457.65 331.49L464.13 331.5L470.6 331.5" fill="none" stroke="#000080" stroke-width="1"/>
<path d="M82.2 271.42L83.46 274.26L86.55 274.59L84.25 276.66L84.89 279.7L82.2 278.15L79.51 279.7L80.15 276.66L77.85 274.59L80.94 274.26zM88.67 274.42L89.94 277.26L93.03 277.59L90.72 279.66L91.36 282.7L88.67 281.15L85.98 282.7L86.63 279.66L84.32 277.59L87.41 277.26zM95.15 276.92L96.41 279.76L99.5 280.09L97.19 282.16L97.84 285.2L95.15 283.65L92.46 285.2L93.1 282.16L90.79 280.09L93.88 279.76zM101.62 279.62L102.88 282.46L105.97 282.79L103.67 284.86L104.31 287.9L101.62 286.35L98.93 287.9L99.57 284.86L97.27 282.79L100.36 282.46zM108.09 281.92L109.36 284.76L112.45 285.09L110.14 287.16L110.78 290.2L108.09 288.65L105.4 290.2L106.05 287.16L103.74 285.09L106.83 284.76zM114.57 284.72L115.83 287.56L118.92 287.89L116.61 289.96L117.26 293L114.57 291.45L111.88 293L112.52 289.96L110.21 287.89L113.3 287.56zM121.04 287.82L122.3 290.66L125.39 290.99L123.09 293.06L123.73 296.1L121.04 294.55L118.35 296.1L118.99 293.06L116.69 290.99L119.78 290.66zM127.51 291.42L128.78 294.26L131.87 294.59L129.56 296.66L130.2 299.7L127.51 298.15L124.82 299.7L125.47 296.66L123.16 294.59L126.25 294.26zM133.99 294.62L135.25 297.46L138.34 297.79L136.03 299.86L136.68 302.9L133.99 301.35L131.3 302.9L131.94 299.86L129.63 297.79L132.72 297.46zM140.46 297.72L141.72 300.56L144.81 300.89L142.51 302.96L143.15 306L140.46 304.45L137.77 306L138.41 302.96L136.11 300.89L139.2 300.56zM146.93 300.82L148.2 303.66L151.29 303.99L148.98 306.06L149.62 309.1L146.93 307.55L144.24 309.1L144.89 306.06L142.58 303.99L145.67 303.66zM153.41 303.92L154.67 306.76L157.76 307.09L155.45 309.16L156.1 312.2L153.41 310.65L150.72 312.2L151.36 309.16L149.05 307.09L152.14 306.76zM159.88 307.02L161.14 309.86L164.23 310.19L161.93 312.26L162.57 315.3L159.88 313.75L157.19 315.3L157.83 312.26L155.53 310.19L158.62 309.86zM166.35 309.62L167.62 312.46L170.71 312.79L168.4 314.86L169.04 317.9L166.35 316.35L163.66 317.9L164.31 314.86L162 312.79L165.09 312.46zM172.83 311.72L174.09 314.56L177.18 314.89L174.87 316.96L175.52 320L172.83 318.45L170.14 320L170.78 316.96L168.47 314.89L171.56 314.56zM179.3 313.14L180.56 315.98L183.65 316.3L181.35 318.38L181.99 321.42L179.3 319.87L176.61 321.42L177.25 318.38L174.95 316.3L178.04 315.98zM185.77 314.42L187.04 317.26L190.13 317.59L187.82 319.66L188.46 322.7L185.77 321.15L183.08 322.7L183.73 319.66L181.42 317.59L184.51 317.26zM192.25 316.02L193.51 318.86L196.6 319.19L194.29 321.26L194.94 324.3L192.25 322.75L189.56 324.3L190.2 321.26L187.89 319.19L190.98 318.86zM198.72 317.42L199.98 320.26L203.07 320.59L200.77 322.66L201.41 325.7L198.72 324.15L196.03 325.7L196.67 322.66L194.37 320.59L197.46 320.26zM205.19 318.39L206.46 321.23L209.55 321.55L207.24 323.63L207.88 326.67L205.19 325.12L202.5 326.67L203.15 323.63L200.84 321.55L203.93 321.23zM211.67 319.24L212.93 322.08L216.02 322.41L213.71 324.48L214.36 327.52L211.67 325.97L208.98 327.52L209.62 324.48L207.31 322.41L210.4 322.08zM218.14 320L219.4 322.83L222.49 323.16L220.19 325.24L220.83 328.27L218.14 326.72L215.45 328.27L216.09 325.24L213.79 323.16L216.88 322.83zM224.61 320.66L225.88 323.49L228.97 323.82L226.66 325.9L227.3 328.94L224.61 327.39L221.92 328.94L222.57 325.9L220.26 323.82L223.35 323.49zM231.09 321.24L232.35 324.08L235.44 324.4L233.13 326.48L233.78 329.52L231.09 327.97L228.4 329.52L229.04 326.48L226.73 324.4L229.82 324.08zM237.56 321.75L238.82 324.58L241.91 324.91L239.61 326.99L240.25 330.03L237.56 328.48L234.87 330.03L235.51 326.99L233.21 324.91L236.3 324.58zM244.03 322.2L245.3 325.04L248.39 325.37L246.08 327.44L246.72 330.48L244.03 328.93L241.34 330.48L241.99 327.44L239.68 325.37L242.77 325.04zM250.51 322.64L251.77 325.47L254.86 325.8L252.55 327.88L253.2 330.92L250.51 329.36L247.82 330.92L248.46 327.88L246.15 325.8L249.24 325.47zM256.98 323.05L258.24 325.88L261.33 326.21L259.03 328.29L259.67 331.33L256.98 329.78L254.29 331.33L254.93 328.29L252.63 326.21L255.72 325.88zM263.45 323.43L264.72 326.27L267.81 326.6L265.5 328.67L266.14 331.71L263.45 330.16L260.76 331.71L261.41 328.67L259.1 326.6L262.19 326.27zM269.93 323.79L271.19 326.62L274.28 326.95L271.97 329.03L272.62 332.07L269.93 330.51L267.24 332.07L267.88 329.03L265.57 326.95L268.66 326.62zM276.4 324.11L277.66 326.94L280.75 327.27L278.45 329.35L279.09 332.39L276.4 330.84L273.71 332.39L274.35 329.35L272.05 327.27L275.14 326.94zM282.87 324.39L284.14 327.23L287.23 327.55L284.92 329.63L285.56 332.67L282.87 331.12L280.18 332.67L280.83 329.63L278.52 327.55L281.61 327.23zM289.35 324.63L290.61 327.47L293.7 327.79L291.39 329.87L292.04 332.91L289.35 331.36L286.66 332.91L287.3 329.87L284.99 327.79L288.08 327.47zM295.82 324.83L297.08 327.66L300.17 327.99L297.87 330.07L298.51 333.1L295.82 331.55L293.13 333.1L293.77 330.07L291.47 327.99L294.56 327.66zM302.29 324.97L303.56 327.81L306.65 328.13L304.34 330.21L304.98 333.25L302.29 331.7L299.6 333.25L300.25 330.21L297.94 328.13L301.03 327.81zM308.77 325.11L310.03 327.94L313.12 328.27L310.81 330.35L311.46 333.38L308.77 331.83L306.08 333.38L306.72 330.35L304.41 328.27L307.5 327.94zM315.24 325.24L316.5 328.07L319.59 328.4L317.29 330.48L317.93 333.51L315.24 331.96L312.55 333.51L313.19 330.48L310.89 328.4L313.98 328.07zM321.71 325.36L322.98 328.2L326.07 328.52L323.76 330.6L324.4 333.64L321.71 332.09L319.02 333.64L319.67 330.6L317.36 328.52L320.45 328.2zM328.19 325.48L329.45 328.32L332.54 328.65L330.23 330.72L330.88 333.76L328.19 332.21L325.5 333.76L326.14 330.72L323.83 328.65L326.92 328.32zM334.66 325.6L335.92 328.44L339.01 328.76L336.71 330.84L337.35 333.88L334.66 332.33L331.97 333.88L332.61 330.84L330.31 328.76L333.4 328.44zM341.13 325.72L342.4 328.55L345.49 328.88L343.18 330.96L343.82 333.99L341.13 332.44L338.44 333.99L339.09 330.96L336.78 328.88L339.87 328.55zM347.61 325.83L348.87 328.66L351.96 328.99L349.65 331.07L350.3 334.1L347.61 332.55L344.92 334.1L345.56 331.07L343.25 328.99L346.34 328.66zM354.08 325.93L355.34 328.77L358.43 329.09L356.13 331.17L356.77 334.21L354.08 332.66L351.39 334.21L352.03 331.17L349.73 329.09L352.82 328.77zM360.55 326.03L361.82 328.87L364.91 329.19L362.6 331.27L363.24 334.31L360.55 332.76L357.86 334.31L358.51 331.27L356.2 329.19L359.29 328.87zM367.03 326.13L368.29 328.96L371.38 329.29L369.07 331.37L369.72 334.41L367.03 332.86L364.34 334.41L364.98 331.37L362.67 329.29L365.76 328.96zM373.5 326.22L374.76 329.06L377.85 329.38L375.55 331.46L376.19 334.5L373.5 332.95L370.81 334.5L371.45 331.46L369.15 329.38L372.24 329.06zM379.97 326.31L381.24 329.14L384.33 329.47L382.02 331.55L382.66 334.58L379.97 333.03L377.28 334.58L377.93 331.55L375.62 329.47L378.71 329.14zM386.45 326.39L387.71 329.22L390.8 329.55L388.49 331.63L389.14 334.67L386.45 333.11L383.76 334.67L384.4 331.63L382.09 329.55L385.18 329.22zM392.92 326.46L394.18 329.3L397.27 329.63L394.97 331.7L395.61 334.74L392.92 333.19L390.23 334.74L390.87 331.7L388.57 329.63L391.66 329.3zM399.39 326.53L400.66 329.37L403.75 329.7L401.44 331.78L402.08 334.81L399.39 333.26L396.7 334.81L397.35 331.78L395.04 329.7L398.13 329.37zM405.87 326.6L407.13 329.44L410.22 329.76L407.91 331.84L408.56 334.88L405.87 333.33L403.18 334.88L403.82 331.84L401.51 329.76L404.6 329.44zM412.34 326.66L413.6 329.5L416.69 329.82L414.39 331.9L415.03 334.94L412.34 333.39L409.65 334.94L410.29 331.9L407.99 329.82L411.08 329.5zM418.81 326.71L420.08 329.55L423.17 329.88L420.86 331.95L421.5 334.99L418.81 333.44L416.12 334.99L416.77 331.95L414.46 329.88L417.55 329.55zM425.29 326.76L426.55 329.6L429.64 329.92L427.33 332L427.98 335.04L425.29 333.49L422.6 335.04L423.24 332L420.93 329.92L424.02 329.6zM431.76 326.8L433.02 329.64L436.11 329.97L433.81 332.04L434.45 335.08L431.76 333.53L429.07 335.08L429.71 332.04L427.41 329.97L430.5 329.64zM438.23 326.84L439.5 329.68L442.59 330L440.28 332.08L440.92 335.12L438.23 333.57L435.54 335.12L436.19 332.08L433.88 330L436.97 329.68zM444.71 326.87L445.97 329.71L449.06 330.03L446.75 332.11L447.4 335.15L444.71 333.6L442.02 335.15L442.66 332.11L440.35 330.03L443.44 329.71zM451.18 326.89L452.44 329.73L455.53 330.06L453.23 332.13L453.87 335.17L451.18 333.62L448.49 335.17L449.13 332.13L446.83 330.06L449.92 329.73zM457.65 326.91L458.92 329.75L462.01 330.07L459.7 332.15L460.34 335.19L457.65 333.64L454.96 335.19L455.61 332.15L453.3 330.07L456.39 329.75zM464.13 326.92L465.39 329.76L468.48 330.08L466.17 332.16L466.82 335.2L464.13 333.65L461.44 335.2L462.08 332.16L459.77 330.08L462.86 329.76zM470.6 326.92L471.86 329.76L474.95 330.09L472.65 332.16L473.29 335.2L470.6 333.65L467.91 335.2L468.55 332.16L466.25 330.09L469.34 329.76z" fill="#000080"/>
<path d="M82.2 264.5L88.67 266.6L95.15 270.2L101.62 273.3L108.09 277.4L114.57 281L121.04 284.7L127.51 289.3L133.99 292.4L140.46 296.6L146.93 300.7L153.41 303.8L159.88 306.9L166.35 311.1L172.83 314.2L179.3 316.16L185.77 317.69L192.25 319.07L198.72 320.34L205.19 321.48L211.67 322.5L218.14 323.41L224.61 324.24L231.09 325L237.56 325.73L244.03 326.41L250.51 327L256.98 327.49L263.45 327.92L269.93 328.3L276.4 328.65L282.87 328.98L289.35 329.29L295.82 329.57L302.29 329.81L308.77 330L315.24 330.16L321.71 330.32L328.19 330.46L334.66 330.6L341.13 330.73L347.61 330.85L354.08 330.97L360.55 331.07L367.03 331.16L373.5 331.25L379.97 331.33L386.45 331.4L392.92 331.45L399.39 331.5L405.87 331.54L412.34 331.58L418.81 331.62L425.29 331.66L431.76 331.69L438.23 331.72L444.71 331.75L451.18 331.77L457.65 331.79L464.13 331.8L470.6 331.8" fill="none" stroke="#800080" stroke-width="1"/>
<path d="M82.2 260.1L86.38 263.14L84.79 268.06L79.61 268.06L78.02 263.14zM88.67 262.2L92.86 265.24L91.26 270.16L86.09 270.16L84.49 265.24zM95.15 265.8L99.33 268.84L97.73 273.76L92.56 273.76L90.96 268.84zM101.62 268.9L105.8 271.94L104.21 276.86L99.03 276.86L97.44 271.94zM108.09 273L112.28 276.04L110.68 280.96L105.51 280.96L103.91 276.04zM114.57 276.6L118.75 279.64L117.15 284.56L111.98 284.56L110.38 279.64zM121.04 280.3L125.22 283.34L123.63 288.26L118.45 288.26L116.86 283.34zM127.51 284.9L131.7 287.94L130.1 292.86L124.93 292.86L123.33 287.94zM133.99 288L138.17 291.04L136.57 295.96L131.4 295.96L129.8 291.04zM140.46 292.2L144.64 295.24L143.05 300.16L137.87 300.16L136.28 295.24zM146.93 296.3L151.12 299.34L149.52 304.26L144.35 304.26L142.75 299.34zM153.41 299.4L157.59 302.44L155.99 307.36L150.82 307.36L149.22 302.44zM159.88 302.5L164.06 305.54L162.47 310.46L157.29 310.46L155.7 305.54zM166.35 306.7L170.54 309.74L168.94 314.66L163.77 314.66L162.17 309.74zM172.83 309.8L177.01 312.84L175.41 317.76L170.24 317.76L168.64 312.84zM179.3 311.76L183.48 314.8L181.89 319.72L176.71 319.72L175.12 314.8zM185.77 313.29L189.96 316.33L188.36 321.25L183.19 321.25L181.59 316.33zM192.25 314.67L196.43 317.71L194.83 322.63L189.66 322.63L188.06 317.71zM198.72 315.94L202.9 318.98L201.31 323.9L196.13 323.9L194.54 318.98zM205.19 317.08L209.38 320.12L207.78 325.04L202.61 325.04L201.01 320.12zM211.67 318.1L215.85 321.14L214.25 326.06L209.08 326.06L207.48 321.14zM218.14 319.01L222.32 322.05L220.73 326.97L215.55 326.97L213.96 322.05zM224.61 319.84L228.8 322.88L227.2 327.8L222.03 327.8L220.43 322.88zM231.09 320.6L235.27 323.64L233.67 328.56L228.5 328.56L226.9 323.64zM237.56 321.33L241.74 324.37L240.15 329.29L234.97 329.29L233.38 324.37zM244.03 322.01L248.22 325.05L246.62 329.97L241.45 329.97L239.85 325.05zM250.51 322.6L254.69 325.64L253.09 330.56L247.92 330.56L246.32 325.64zM256.98 323.09L261.16 326.13L259.57 331.05L254.39 331.05L252.8 326.13zM263.45 323.52L267.64 326.56L266.04 331.48L260.87 331.48L259.27 326.56zM269.93 323.9L274.11 326.94L272.51 331.86L267.34 331.86L265.74 326.94zM276.4 324.25L280.58 327.29L278.99 332.21L273.81 332.21L272.22 327.29zM282.87 324.58L287.06 327.62L285.46 332.54L280.29 332.54L278.69 327.62zM289.35 324.89L293.53 327.93L291.93 332.85L286.76 332.85L285.16 327.93zM295.82 325.17L300 328.21L298.41 333.13L293.23 333.13L291.64 328.21zM302.29 325.41L306.48 328.45L304.88 333.37L299.71 333.37L298.11 328.45zM308.77 325.6L312.95 328.64L311.35 333.56L306.18 333.56L304.58 328.64zM315.24 325.76L319.42 328.8L317.83 333.72L312.65 333.72L311.06 328.8zM321.71 325.92L325.9 328.96L324.3 333.88L319.13 333.88L317.53 328.96zM328.19 326.06L332.37 329.1L330.77 334.02L325.6 334.02L324 329.1zM334.66 326.2L338.84 329.24L337.25 334.16L332.07 334.16L330.48 329.24zM341.13 326.33L345.32 329.37L343.72 334.29L338.55 334.29L336.95 329.37zM347.61 326.45L351.79 329.49L350.19 334.41L345.02 334.41L343.42 329.49zM354.08 326.57L358.26 329.61L356.67 334.52L351.49 334.52L349.9 329.61zM360.55 326.67L364.74 329.71L363.14 334.63L357.97 334.63L356.37 329.71zM367.03 326.76L371.21 329.81L369.61 334.72L364.44 334.72L362.84 329.81zM373.5 326.85L377.68 329.89L376.09 334.81L370.91 334.81L369.32 329.89zM379.97 326.93L384.16 329.97L382.56 334.89L377.39 334.89L375.79 329.97zM386.45 327L390.63 330.04L389.03 334.95L383.86 334.95L382.26 330.04zM392.92 327.05L397.1 330.09L395.51 335.01L390.33 335.01L388.74 330.09zM399.39 327.1L403.58 330.14L401.98 335.06L396.81 335.06L395.21 330.14zM405.87 327.14L410.05 330.18L408.45 335.1L403.28 335.1L401.68 330.18zM412.34 327.18L416.52 330.22L414.93 335.14L409.75 335.14L408.16 330.22zM418.81 327.22L423 330.26L421.4 335.18L416.23 335.18L414.63 330.26zM425.29 327.26L429.47 330.3L427.87 335.22L422.7 335.22L421.1 330.3zM431.76 327.29L435.94 330.33L434.35 335.25L429.17 335.25L427.58 330.33zM438.23 327.32L442.42 330.36L440.82 335.28L435.65 335.28L434.05 330.36zM444.71 327.35L448.89 330.39L447.29 335.31L442.12 335.31L440.52 330.39zM451.18 327.37L455.36 330.41L453.77 335.33L448.59 335.33L447 330.41zM457.65 327.39L461.84 330.43L460.24 335.35L455.07 335.35L453.47 330.43zM464.13 327.4L468.31 330.44L466.71 335.36L461.54 335.36L459.94 330.44zM470.6 327.4L474.78 330.44L473.19 335.36L468.01 335.36L466.42 330.44z" fill="#800080"/>
</g>
<clipPath id="cpb"><rect x="577" y="27" width="360" height="338"/></clipPath>
<g clip-path="url(#cpb)">
<path d="M576.85 347.2L582.79 347.2L588.72 347.2L594.66 347.2L600.6 347.2L606.53 347.2L612.47 347.2L618.41 347.2L624.34 347.2L630.28 347.2L636.22 347.2L642.15 347.2L648.09 347.2L654.03 347.2L659.96 347.3L665.9 348.5L671.84 348.57L677.77 348.62L683.71 348.66L689.65 348.68L695.58 348.69L701.52 348.7L707.46 348.71L713.39 348.71L719.33 348.72L725.27 348.72L731.2 348.73L737.14 348.73L743.08 348.74L749.01 348.74L754.95 348.75L760.89 348.75L766.82 348.75L772.76 348.76L778.7 348.76L784.63 348.76L790.57 348.77L796.51 348.77L802.44 348.77L808.38 348.78L814.32 348.78L820.25 348.78L826.19 348.78L832.13 348.78L838.06 348.79L844 348.79L849.94 348.79L855.87 348.79L861.81 348.79L867.75 348.79L873.68 348.8L879.62 348.8L885.56 348.8L891.49 348.8L897.43 348.8L903.37 348.8L909.3 348.8L915.24 348.8L921.18 348.8L927.11 348.8L933.05 348.8" fill="none" stroke="#000000" stroke-width="1"/>
<path d="M573.55 343.9h6.6v6.6h-6.6zM579.49 343.9h6.6v6.6h-6.6zM585.42 343.9h6.6v6.6h-6.6zM591.36 343.9h6.6v6.6h-6.6zM597.3 343.9h6.6v6.6h-6.6zM603.23 343.9h6.6v6.6h-6.6zM609.17 343.9h6.6v6.6h-6.6zM615.11 343.9h6.6v6.6h-6.6zM621.04 343.9h6.6v6.6h-6.6zM626.98 343.9h6.6v6.6h-6.6zM632.92 343.9h6.6v6.6h-6.6zM638.85 343.9h6.6v6.6h-6.6zM644.79 343.9h6.6v6.6h-6.6zM650.73 343.9h6.6v6.6h-6.6zM656.66 344h6.6v6.6h-6.6zM662.6 345.2h6.6v6.6h-6.6zM668.54 345.27h6.6v6.6h-6.6zM674.47 345.32h6.6v6.6h-6.6zM680.41 345.36h6.6v6.6h-6.6zM686.35 345.38h6.6v6.6h-6.6zM692.28 345.39h6.6v6.6h-6.6zM698.22 345.4h6.6v6.6h-6.6zM704.16 345.41h6.6v6.6h-6.6zM710.09 345.41h6.6v6.6h-6.6zM716.03 345.42h6.6v6.6h-6.6zM721.97 345.42h6.6v6.6h-6.6zM727.9 345.43h6.6v6.6h-6.6zM733.84 345.43h6.6v6.6h-6.6zM739.78 345.44h6.6v6.6h-6.6zM745.71 345.44h6.6v6.6h-6.6zM751.65 345.45h6.6v6.6h-6.6zM757.59 345.45h6.6v6.6h-6.6zM763.52 345.45h6.6v6.6h-6.6zM769.46 345.46h6.6v6.6h-6.6zM775.4 345.46h6.6v6.6h-6.6zM781.33 345.46h6.6v6.6h-6.6zM787.27 345.47h6.6v6.6h-6.6zM793.21 345.47h6.6v6.6h-6.6zM799.14 345.47h6.6v6.6h-6.6zM805.08 345.48h6.6v6.6h-6.6zM811.02 345.48h6.6v6.6h-6.6zM816.95 345.48h6.6v6.6h-6.6zM822.89 345.48h6.6v6.6h-6.6zM828.83 345.48h6.6v6.6h-6.6zM834.76 345.49h6.6v6.6h-6.6zM840.7 345.49h6.6v6.6h-6.6zM846.64 345.49h6.6v6.6h-6.6zM852.57 345.49h6.6v6.6h-6.6zM858.51 345.49h6.6v6.6h-6.6zM864.45 345.49h6.6v6.6h-6.6zM870.38 345.5h6.6v6.6h-6.6zM876.32 345.5h6.6v6.6h-6.6zM882.26 345.5h6.6v6.6h-6.6zM888.19 345.5h6.6v6.6h-6.6zM894.13 345.5h6.6v6.6h-6.6zM900.07 345.5h6.6v6.6h-6.6zM906 345.5h6.6v6.6h-6.6zM911.94 345.5h6.6v6.6h-6.6zM917.88 345.5h6.6v6.6h-6.6zM923.81 345.5h6.6v6.6h-6.6zM929.75 345.5h6.6v6.6h-6.6z" fill="#000000"/>
<path d="M576.85 66L582.79 103.9L588.72 136.4L594.66 164.7L600.6 190.3L606.53 211.2L612.47 229.5L618.41 246.2L624.34 259.8L630.28 272.3L636.22 290.2L642.15 298.3L648.09 304.9L654.03 310.8L659.96 315.5L665.9 319.5L671.84 324.1L677.77 327.7L683.71 330.37L689.65 332.5L695.58 334.09L701.52 335.5L707.46 337.11L713.39 338.72L719.33 340L725.27 340.97L731.2 341.84L737.14 342.62L743.08 343.33L749.01 343.95L754.95 344.51L760.89 345L766.82 345.46L772.76 345.92L778.7 346.36L784.63 346.78L790.57 347.17L796.51 347.52L802.44 347.81L808.38 348.05L814.32 348.21L820.25 348.3L826.19 348.34L832.13 348.38L838.06 348.42L844 348.45L849.94 348.49L855.87 348.52L861.81 348.54L867.75 348.57L873.68 348.59L879.62 348.61L885.56 348.63L891.49 348.65L897.43 348.66L903.37 348.67L909.3 348.68L915.24 348.69L921.18 348.7L927.11 348.7L933.05 348.7" fill="none" stroke="#004040" stroke-width="1"/>
<path d="M573.11 66a3.74 3.74 0 1 0 7.48 0a3.74 3.74 0 1 0 -7.48 0zM579.05 103.9a3.74 3.74 0 1 0 7.48 0a3.74 3.74 0 1 0 -7.48 0zM584.98 136.4a3.74 3.74 0 1 0 7.48 0a3.74 3.74 0 1 0 -7.48 0zM590.92 164.7a3.74 3.74 0 1 0 7.48 0a3.74 3.74 0 1 0 -7.48 0zM596.86 190.3a3.74 3.74 0 1 0 7.48 0a3.74 3.74 0 1 0 -7.48 0zM602.79 211.2a3.74 3.74 0 1 0 7.48 0a3.74 3.74 0 1 0 -7.48 0zM608.73 229.5a3.74 3.74 0 1 0 7.48 0a3.74 3.74 0 1 0 -7.48 0zM614.67 246.2a3.74 3.74 0 1 0 7.48 0a3.74 3.74 0 1 0 -7.48 0zM620.6 259.8a3.74 3.74 0 1 0 7.48 0a3.74 3.74 0 1 0 -7.48 0zM626.54 272.3a3.74 3.74 0 1 0 7.48 0a3.74 3.74 0 1 0 -7.48 0zM632.48 290.2a3.74 3.74 0 1 0 7.48 0a3.74 3.74 0 1 0 -7.48 0zM638.41 298.3a3.74 3.74 0 1 0 7.48 0a3.74 3.74 0 1 0 -7.48 0zM644.35 304.9a3.74 3.74 0 1 0 7.48 0a3.74 3.74 0 1 0 -7.48 0zM650.29 310.8a3.74 3.74 0 1 0 7.48 0a3.74 3.74 0 1 0 -7.48 0zM656.22 315.5a3.74 3.74 0 1 0 7.48 0a3.74 3.74 0 1 0 -7.48 0zM662.16 319.5a3.74 3.74 0 1 0 7.48 0a3.74 3.74 0 1 0 -7.48 0zM668.1 324.1a3.74 3.74 0 1 0 7.48 0a3.74 3.74 0 1 0 -7.48 0zM674.03 327.7a3.74 3.74 0 1 0 7.48 0a3.74 3.74 0 1 0 -7.48 0zM679.97 330.37a3.74 3.74 0 1 0 7.48 0a3.74 3.74 0 1 0 -7.48 0zM685.91 332.5a3.74 3.74 0 1 0 7.48 0a3.74 3.74 0 1 0 -7.48 0zM691.84 334.09a3.74 3.74 0 1 0 7.48 0a3.74 3.74 0 1 0 -7.48 0zM697.78 335.5a3.74 3.74 0 1 0 7.48 0a3.74 3.74 0 1 0 -7.48 0zM703.72 337.11a3.74 3.74 0 1 0 7.48 0a3.74 3.74 0 1 0 -7.48 0zM709.65 338.72a3.74 3.74 0 1 0 7.48 0a3.74 3.74 0 1 0 -7.48 0zM715.59 340a3.74 3.74 0 1 0 7.48 0a3.74 3.74 0 1 0 -7.48 0zM721.53 340.97a3.74 3.74 0 1 0 7.48 0a3.74 3.74 0 1 0 -7.48 0zM727.46 341.84a3.74 3.74 0 1 0 7.48 0a3.74 3.74 0 1 0 -7.48 0zM733.4 342.62a3.74 3.74 0 1 0 7.48 0a3.74 3.74 0 1 0 -7.48 0zM739.34 343.33a3.74 3.74 0 1 0 7.48 0a3.74 3.74 0 1 0 -7.48 0zM745.27 343.95a3.74 3.74 0 1 0 7.48 0a3.74 3.74 0 1 0 -7.48 0zM751.21 344.51a3.74 3.74 0 1 0 7.48 0a3.74 3.74 0 1 0 -7.48 0zM757.15 345a3.74 3.74 0 1 0 7.48 0a3.74 3.74 0 1 0 -7.48 0zM763.08 345.46a3.74 3.74 0 1 0 7.48 0a3.74 3.74 0 1 0 -7.48 0zM769.02 345.92a3.74 3.74 0 1 0 7.48 0a3.74 3.74 0 1 0 -7.48 0zM774.96 346.36a3.74 3.74 0 1 0 7.48 0a3.74 3.74 0 1 0 -7.48 0zM780.89 346.78a3.74 3.74 0 1 0 7.48 0a3.74 3.74 0 1 0 -7.48 0zM786.83 347.17a3.74 3.74 0 1 0 7.48 0a3.74 3.74 0 1 0 -7.48 0zM792.77 347.52a3.74 3.74 0 1 0 7.48 0a3.74 3.74 0 1 0 -7.48 0zM798.7 347.81a3.74 3.74 0 1 0 7.48 0a3.74 3.74 0 1 0 -7.48 0zM804.64 348.05a3.74 3.74 0 1 0 7.48 0a3.74 3.74 0 1 0 -7.48 0zM810.58 348.21a3.74 3.74 0 1 0 7.48 0a3.74 3.74 0 1 0 -7.48 0zM816.51 348.3a3.74 3.74 0 1 0 7.48 0a3.74 3.74 0 1 0 -7.48 0zM822.45 348.34a3.74 3.74 0 1 0 7.48 0a3.74 3.74 0 1 0 -7.48 0zM828.39 348.38a3.74 3.74 0 1 0 7.48 0a3.74 3.74 0 1 0 -7.48 0zM834.32 348.42a3.74 3.74 0 1 0 7.48 0a3.74 3.74 0 1 0 -7.48 0zM840.26 348.45a3.74 3.74 0 1 0 7.48 0a3.74 3.74 0 1 0 -7.48 0zM846.2 348.49a3.74 3.74 0 1 0 7.48 0a3.74 3.74 0 1 0 -7.48 0zM852.13 348.52a3.74 3.74 0 1 0 7.48 0a3.74 3.74 0 1 0 -7.48 0zM858.07 348.54a3.74 3.74 0 1 0 7.48 0a3.74 3.74 0 1 0 -7.48 0zM864.01 348.57a3.74 3.74 0 1 0 7.48 0a3.74 3.74 0 1 0 -7.48 0zM869.94 348.59a3.74 3.74 0 1 0 7.48 0a3.74 3.74 0 1 0 -7.48 0zM875.88 348.61a3.74 3.74 0 1 0 7.48 0a3.74 3.74 0 1 0 -7.48 0zM881.82 348.63a3.74 3.74 0 1 0 7.48 0a3.74 3.74 0 1 0 -7.48 0zM887.75 348.65a3.74 3.74 0 1 0 7.48 0a3.74 3.74 0 1 0 -7.48 0zM893.69 348.66a3.74 3.74 0 1 0 7.48 0a3.74 3.74 0 1 0 -7.48 0zM899.63 348.67a3.74 3.74 0 1 0 7.48 0a3.74 3.74 0 1 0 -7.48 0zM905.56 348.68a3.74 3.74 0 1 0 7.48 0a3.74 3.74 0 1 0 -7.48 0zM911.5 348.69a3.74 3.74 0 1 0 7.48 0a3.74 3.74 0 1 0 -7.48 0zM917.44 348.7a3.74 3.74 0 1 0 7.48 0a3.74 3.74 0 1 0 -7.48 0zM923.37 348.7a3.74 3.74 0 1 0 7.48 0a3.74 3.74 0 1 0 -7.48 0zM929.31 348.7a3.74 3.74 0 1 0 7.48 0a3.74 3.74 0 1 0 -7.48 0z" fill="#004040"/>
<path d="M576.85 112.2L582.79 145.1L588.72 172.9L594.66 196L600.6 217.5L606.53 235.4L612.47 251.4L618.41 264L624.34 275.6L630.28 292.6L636.22 299.8L642.15 306.9L648.09 311.9L654.03 316.3L659.96 320.4L665.9 324.1L671.84 327.7L677.77 329.9L683.71 332.05L689.65 334L695.58 335.58L701.52 337L707.46 338.46L713.39 339.87L719.33 341L725.27 341.87L731.2 342.66L737.14 343.37L743.08 344.01L749.01 344.57L754.95 345.07L760.89 345.5L766.82 345.9L772.76 346.29L778.7 346.66L784.63 347.02L790.57 347.35L796.51 347.64L802.44 347.88L808.38 348.08L814.32 348.22L820.25 348.3L826.19 348.34L832.13 348.38L838.06 348.42L844 348.45L849.94 348.49L855.87 348.52L861.81 348.54L867.75 348.57L873.68 348.59L879.62 348.61L885.56 348.63L891.49 348.65L897.43 348.66L903.37 348.67L909.3 348.68L915.24 348.69L921.18 348.7L927.11 348.7L933.05 348.7" fill="none" stroke="#00ff00" stroke-width="1"/>
<path d="M576.85 108.24L581.25 116.16L572.45 116.16zM582.79 141.14L587.19 149.06L578.39 149.06zM588.72 168.94L593.12 176.86L584.32 176.86zM594.66 192.04L599.06 199.96L590.26 199.96zM600.6 213.54L605 221.46L596.2 221.46zM606.53 231.44L610.93 239.36L602.13 239.36zM612.47 247.44L616.87 255.36L608.07 255.36zM618.41 260.04L622.81 267.96L614.01 267.96zM624.34 271.64L628.74 279.56L619.94 279.56zM630.28 288.64L634.68 296.56L625.88 296.56zM636.22 295.84L640.62 303.76L631.82 303.76zM642.15 302.94L646.55 310.86L637.75 310.86zM648.09 307.94L652.49 315.86L643.69 315.86zM654.03 312.34L658.43 320.26L649.63 320.26zM659.96 316.44L664.36 324.36L655.56 324.36zM665.9 320.14L670.3 328.06L661.5 328.06zM671.84 323.74L676.24 331.66L667.44 331.66zM677.77 325.94L682.17 333.86L673.37 333.86zM683.71 328.09L688.11 336.01L679.31 336.01zM689.65 330.04L694.05 337.96L685.25 337.96zM695.58 331.62L699.98 339.54L691.18 339.54zM701.52 333.04L705.92 340.96L697.12 340.96zM707.46 334.5L711.86 342.42L703.06 342.42zM713.39 335.91L717.79 343.83L708.99 343.83zM719.33 337.04L723.73 344.96L714.93 344.96zM725.27 337.91L729.67 345.83L720.87 345.83zM731.2 338.7L735.6 346.62L726.8 346.62zM737.14 339.41L741.54 347.33L732.74 347.33zM743.08 340.05L747.48 347.97L738.68 347.97zM749.01 340.61L753.41 348.53L744.61 348.53zM754.95 341.11L759.35 349.03L750.55 349.03zM760.89 341.54L765.29 349.46L756.49 349.46zM766.82 341.94L771.22 349.86L762.42 349.86zM772.76 342.33L777.16 350.25L768.36 350.25zM778.7 342.7L783.1 350.62L774.3 350.62zM784.63 343.06L789.03 350.98L780.23 350.98zM790.57 343.39L794.97 351.31L786.17 351.31zM796.51 343.68L800.91 351.6L792.11 351.6zM802.44 343.92L806.84 351.84L798.04 351.84zM808.38 344.12L812.78 352.04L803.98 352.04zM814.32 344.26L818.72 352.18L809.92 352.18zM820.25 344.34L824.65 352.26L815.85 352.26zM826.19 344.38L830.59 352.3L821.79 352.3zM832.13 344.42L836.53 352.34L827.73 352.34zM838.06 344.46L842.46 352.38L833.66 352.38zM844 344.49L848.4 352.41L839.6 352.41zM849.94 344.53L854.34 352.45L845.54 352.45zM855.87 344.56L860.27 352.48L851.47 352.48zM861.81 344.58L866.21 352.5L857.41 352.5zM867.75 344.61L872.15 352.53L863.35 352.53zM873.68 344.63L878.08 352.55L869.28 352.55zM879.62 344.65L884.02 352.57L875.22 352.57zM885.56 344.67L889.96 352.59L881.16 352.59zM891.49 344.69L895.89 352.61L887.09 352.61zM897.43 344.7L901.83 352.62L893.03 352.62zM903.37 344.71L907.77 352.63L898.97 352.63zM909.3 344.72L913.7 352.64L904.9 352.64zM915.24 344.73L919.64 352.65L910.84 352.65zM921.18 344.74L925.58 352.66L916.78 352.66zM927.11 344.74L931.51 352.66L922.71 352.66zM933.05 344.74L937.45 352.66L928.65 352.66z" fill="#00ff00"/>
<path d="M576.85 156.4L582.79 183.9L588.72 205.9L594.66 225.2L600.6 242.6L606.53 256.3L612.47 269.5L618.41 287.7L624.34 295.9L630.28 302.5L636.22 308.5L642.15 313.5L648.09 318L654.03 322L659.96 325.5L665.9 328.24L671.84 330.5L677.77 332.4L683.71 334.05L689.65 335.5L695.58 336.8L701.52 338.01L707.46 339.12L713.39 340.12L719.33 341L725.27 341.81L731.2 342.57L737.14 343.28L743.08 343.94L749.01 344.54L754.95 345.06L760.89 345.5L766.82 345.9L772.76 346.29L778.7 346.66L784.63 347.02L790.57 347.35L796.51 347.64L802.44 347.88L808.38 348.08L814.32 348.22L820.25 348.3L826.19 348.34L832.13 348.38L838.06 348.42L844 348.45L849.94 348.49L855.87 348.52L861.81 348.54L867.75 348.57L873.68 348.59L879.62 348.61L885.56 348.63L891.49 348.65L897.43 348.66L903.37 348.67L909.3 348.68L915.24 348.69L921.18 348.7L927.11 348.7L933.05 348.7" fill="none" stroke="#400080" stroke-width="1"/>
<path d="M576.85 161.68L581.25 153.76L572.45 153.76zM582.79 189.18L587.19 181.26L578.39 181.26zM588.72 211.18L593.12 203.26L584.32 203.26zM594.66 230.48L599.06 222.56L590.26 222.56zM600.6 247.88L605 239.96L596.2 239.96zM606.53 261.58L610.93 253.66L602.13 253.66zM612.47 274.78L616.87 266.86L608.07 266.86zM618.41 292.98L622.81 285.06L614.01 285.06zM624.34 301.18L628.74 293.26L619.94 293.26zM630.28 307.78L634.68 299.86L625.88 299.86zM636.22 313.78L640.62 305.86L631.82 305.86zM642.15 318.78L646.55 310.86L637.75 310.86zM648.09 323.28L652.49 315.36L643.69 315.36zM654.03 327.28L658.43 319.36L649.63 319.36zM659.96 330.78L664.36 322.86L655.56 322.86zM665.9 333.52L670.3 325.6L661.5 325.6zM671.84 335.78L676.24 327.86L667.44 327.86zM677.77 337.68L682.17 329.76L673.37 329.76zM683.71 339.33L688.11 331.41L679.31 331.41zM689.65 340.78L694.05 332.86L685.25 332.86zM695.58 342.08L699.98 334.16L691.18 334.16zM701.52 343.29L705.92 335.37L697.12 335.37zM707.46 344.4L711.86 336.48L703.06 336.48zM713.39 345.4L717.79 337.48L708.99 337.48zM719.33 346.28L723.73 338.36L714.93 338.36zM725.27 347.09L729.67 339.17L720.87 339.17zM731.2 347.85L735.6 339.93L726.8 339.93zM737.14 348.56L741.54 340.64L732.74 340.64zM743.08 349.22L747.48 341.3L738.68 341.3zM749.01 349.82L753.41 341.9L744.61 341.9zM754.95 350.34L759.35 342.42L750.55 342.42zM760.89 350.78L765.29 342.86L756.49 342.86zM766.82 351.18L771.22 343.26L762.42 343.26zM772.76 351.57L777.16 343.65L768.36 343.65zM778.7 351.94L783.1 344.02L774.3 344.02zM784.63 352.3L789.03 344.38L780.23 344.38zM790.57 352.63L794.97 344.71L786.17 344.71zM796.51 352.92L800.91 345L792.11 345zM802.44 353.16L806.84 345.24L798.04 345.24zM808.38 353.36L812.78 345.44L803.98 345.44zM814.32 353.5L818.72 345.58L809.92 345.58zM820.25 353.58L824.65 345.66L815.85 345.66zM826.19 353.62L830.59 345.7L821.79 345.7zM832.13 353.66L836.53 345.74L827.73 345.74zM838.06 353.7L842.46 345.78L833.66 345.78zM844 353.73L848.4 345.81L839.6 345.81zM849.94 353.77L854.34 345.85L845.54 345.85zM855.87 353.8L860.27 345.88L851.47 345.88zM861.81 353.82L866.21 345.9L857.41 345.9zM867.75 353.85L872.15 345.93L863.35 345.93zM873.68 353.87L878.08 345.95L869.28 345.95zM879.62 353.89L884.02 345.97L875.22 345.97zM885.56 353.91L889.96 345.99L881.16 345.99zM891.49 353.93L895.89 346.01L887.09 346.01zM897.43 353.94L901.83 346.02L893.03 346.02zM903.37 353.95L907.77 346.03L898.97 346.03zM909.3 353.96L913.7 346.04L904.9 346.04zM915.24 353.97L919.64 346.05L910.84 346.05zM921.18 353.98L925.58 346.06L916.78 346.06zM927.11 353.98L931.51 346.06L922.71 346.06zM933.05 353.98L937.45 346.06L928.65 346.06z" fill="#400080"/>
<path d="M576.85 165.8L582.79 191.6L588.72 212.7L594.66 231L600.6 247.5L606.53 260.7L612.47 272.8L618.41 291L624.34 298.7L630.28 305.2L636.22 311L642.15 316.1L648.09 320.4L654.03 324.8L659.96 328.4L665.9 331.3L671.84 333.33L677.77 334.96L683.71 336.32L689.65 337.49L695.58 338.53L701.52 339.5L707.46 340.41L713.39 341.25L719.33 342L725.27 342.68L731.2 343.34L737.14 343.96L743.08 344.54L749.01 345.08L754.95 345.57L760.89 346L766.82 346.4L772.76 346.81L778.7 347.2L784.63 347.58L790.57 347.93L796.51 348.25L802.44 348.53L808.38 348.75L814.32 348.91L820.25 349L826.19 349.05L832.13 349.1L838.06 349.15L844 349.19L849.94 349.23L855.87 349.27L861.81 349.3L867.75 349.33L873.68 349.36L879.62 349.39L885.56 349.41L891.49 349.43L897.43 349.45L903.37 349.47L909.3 349.48L915.24 349.49L921.18 349.49L927.11 349.5L933.05 349.5" fill="none" stroke="#00ffff" stroke-width="1"/>
<path d="M576.85 161.4L581.25 165.8L576.85 170.2L572.45 165.8zM582.79 187.2L587.19 191.6L582.79 196L578.39 191.6zM588.72 208.3L593.12 212.7L588.72 217.1L584.32 212.7zM594.66 226.6L599.06 231L594.66 235.4L590.26 231zM600.6 243.1L605 247.5L600.6 251.9L596.2 247.5zM606.53 256.3L610.93 260.7L606.53 265.1L602.13 260.7zM612.47 268.4L616.87 272.8L612.47 277.2L608.07 272.8zM618.41 286.6L622.81 291L618.41 295.4L614.01 291zM624.34 294.3L628.74 298.7L624.34 303.1L619.94 298.7zM630.28 300.8L634.68 305.2L630.28 309.6L625.88 305.2zM636.22 306.6L640.62 311L636.22 315.4L631.82 311zM642.15 311.7L646.55 316.1L642.15 320.5L637.75 316.1zM648.09 316L652.49 320.4L648.09 324.8L643.69 320.4zM654.03 320.4L658.43 324.8L654.03 329.2L649.63 324.8zM659.96 324L664.36 328.4L659.96 332.8L655.56 328.4zM665.9 326.9L670.3 331.3L665.9 335.7L661.5 331.3zM671.84 328.93L676.24 333.33L671.84 337.73L667.44 333.33zM677.77 330.56L682.17 334.96L677.77 339.36L673.37 334.96zM683.71 331.92L688.11 336.32L683.71 340.72L679.31 336.32zM689.65 333.09L694.05 337.49L689.65 341.89L685.25 337.49zM695.58 334.13L699.98 338.53L695.58 342.93L691.18 338.53zM701.52 335.1L705.92 339.5L701.52 343.9L697.12 339.5zM707.46 336.01L711.86 340.41L707.46 344.81L703.06 340.41zM713.39 336.85L717.79 341.25L713.39 345.65L708.99 341.25zM719.33 337.6L723.73 342L719.33 346.4L714.93 342zM725.27 338.28L729.67 342.68L725.27 347.08L720.87 342.68zM731.2 338.94L735.6 343.34L731.2 347.74L726.8 343.34zM737.14 339.56L741.54 343.96L737.14 348.36L732.74 343.96zM743.08 340.14L747.48 344.54L743.08 348.94L738.68 344.54zM749.01 340.68L753.41 345.08L749.01 349.48L744.61 345.08zM754.95 341.17L759.35 345.57L754.95 349.97L750.55 345.57zM760.89 341.6L765.29 346L760.89 350.4L756.49 346zM766.82 342L771.22 346.4L766.82 350.8L762.42 346.4zM772.76 342.41L777.16 346.81L772.76 351.21L768.36 346.81zM778.7 342.8L783.1 347.2L778.7 351.6L774.3 347.2zM784.63 343.18L789.03 347.58L784.63 351.98L780.23 347.58zM790.57 343.53L794.97 347.93L790.57 352.33L786.17 347.93zM796.51 343.85L800.91 348.25L796.51 352.65L792.11 348.25zM802.44 344.13L806.84 348.53L802.44 352.93L798.04 348.53zM808.38 344.35L812.78 348.75L808.38 353.15L803.98 348.75zM814.32 344.51L818.72 348.91L814.32 353.31L809.92 348.91zM820.25 344.6L824.65 349L820.25 353.4L815.85 349zM826.19 344.65L830.59 349.05L826.19 353.45L821.79 349.05zM832.13 344.7L836.53 349.1L832.13 353.5L827.73 349.1zM838.06 344.75L842.46 349.15L838.06 353.55L833.66 349.15zM844 344.79L848.4 349.19L844 353.59L839.6 349.19zM849.94 344.83L854.34 349.23L849.94 353.63L845.54 349.23zM855.87 344.87L860.27 349.27L855.87 353.67L851.47 349.27zM861.81 344.9L866.21 349.3L861.81 353.7L857.41 349.3zM867.75 344.93L872.15 349.33L867.75 353.73L863.35 349.33zM873.68 344.96L878.08 349.36L873.68 353.76L869.28 349.36zM879.62 344.99L884.02 349.39L879.62 353.79L875.22 349.39zM885.56 345.01L889.96 349.41L885.56 353.81L881.16 349.41zM891.49 345.03L895.89 349.43L891.49 353.83L887.09 349.43zM897.43 345.05L901.83 349.45L897.43 353.85L893.03 349.45zM903.37 345.07L907.77 349.47L903.37 353.87L898.97 349.47zM909.3 345.08L913.7 349.48L909.3 353.88L904.9 349.48zM915.24 345.09L919.64 349.49L915.24 353.89L910.84 349.49zM921.18 345.09L925.58 349.49L921.18 353.89L916.78 349.49zM927.11 345.1L931.51 349.5L927.11 353.9L922.71 349.5zM933.05 345.1L937.45 349.5L933.05 353.9L928.65 349.5z" fill="#00ffff"/>
<path d="M576.85 229.4L582.79 244.2L588.72 259.1L594.66 269L600.6 288.8L606.53 296.8L612.47 303.9L618.41 309.8L624.34 314.8L630.28 319.7L636.22 324.1L642.15 327.5L648.09 330.5L654.03 332.98L659.96 335L665.9 336.61L671.84 338L677.77 339.14L683.71 340.03L689.65 340.74L695.58 341.36L701.52 342L707.46 342.71L713.39 343.42L719.33 344L725.27 344.46L731.2 344.89L737.14 345.27L743.08 345.62L749.01 345.94L754.95 346.24L760.89 346.5L766.82 346.75L772.76 347.01L778.7 347.26L784.63 347.5L790.57 347.73L796.51 347.93L802.44 348.1L808.38 348.24L814.32 348.34L820.25 348.4L826.19 348.43L832.13 348.46L838.06 348.49L844 348.51L849.94 348.54L855.87 348.56L861.81 348.58L867.75 348.6L873.68 348.62L879.62 348.63L885.56 348.65L891.49 348.66L897.43 348.67L903.37 348.68L909.3 348.69L915.24 348.69L921.18 348.7L927.11 348.7L933.05 348.7" fill="none" stroke="#008080" stroke-width="1"/>
<path d="M571.57 229.4L579.49 233.8L579.49 225zM577.51 244.2L585.43 248.6L585.43 239.8zM583.44 259.1L591.36 263.5L591.36 254.7zM589.38 269L597.3 273.4L597.3 264.6zM595.32 288.8L603.24 293.2L603.24 284.4zM601.25 296.8L609.17 301.2L609.17 292.4zM607.19 303.9L615.11 308.3L615.11 299.5zM613.13 309.8L621.05 314.2L621.05 305.4zM619.06 314.8L626.98 319.2L626.98 310.4zM625 319.7L632.92 324.1L632.92 315.3zM630.94 324.1L638.86 328.5L638.86 319.7zM636.87 327.5L644.79 331.9L644.79 323.1zM642.81 330.5L650.73 334.9L650.73 326.1zM648.75 332.98L656.67 337.38L656.67 328.58zM654.68 335L662.6 339.4L662.6 330.6zM660.62 336.61L668.54 341.01L668.54 332.21zM666.56 338L674.48 342.4L674.48 333.6zM672.49 339.14L680.41 343.54L680.41 334.74zM678.43 340.03L686.35 344.43L686.35 335.63zM684.37 340.74L692.29 345.14L692.29 336.34zM690.3 341.36L698.22 345.76L698.22 336.96zM696.24 342L704.16 346.4L704.16 337.6zM702.18 342.71L710.1 347.11L710.1 338.31zM708.11 343.42L716.03 347.82L716.03 339.02zM714.05 344L721.97 348.4L721.97 339.6zM719.99 344.46L727.91 348.86L727.91 340.06zM725.92 344.89L733.84 349.29L733.84 340.49zM731.86 345.27L739.78 349.67L739.78 340.87zM737.8 345.62L745.72 350.02L745.72 341.22zM743.73 345.94L751.65 350.34L751.65 341.54zM749.67 346.24L757.59 350.64L757.59 341.84zM755.61 346.5L763.53 350.9L763.53 342.1zM761.54 346.75L769.46 351.15L769.46 342.35zM767.48 347.01L775.4 351.41L775.4 342.61zM773.42 347.26L781.34 351.66L781.34 342.86zM779.35 347.5L787.27 351.9L787.27 343.1zM785.29 347.73L793.21 352.13L793.21 343.33zM791.23 347.93L799.15 352.33L799.15 343.53zM797.16 348.1L805.08 352.5L805.08 343.7zM803.1 348.24L811.02 352.64L811.02 343.84zM809.04 348.34L816.96 352.74L816.96 343.94zM814.97 348.4L822.89 352.8L822.89 344zM820.91 348.43L828.83 352.83L828.83 344.03zM826.85 348.46L834.77 352.86L834.77 344.06zM832.78 348.49L840.7 352.89L840.7 344.09zM838.72 348.51L846.64 352.91L846.64 344.11zM844.66 348.54L852.58 352.94L852.58 344.14zM850.59 348.56L858.51 352.96L858.51 344.16zM856.53 348.58L864.45 352.98L864.45 344.18zM862.47 348.6L870.39 353L870.39 344.2zM868.4 348.62L876.32 353.02L876.32 344.22zM874.34 348.63L882.26 353.03L882.26 344.23zM880.28 348.65L888.2 353.05L888.2 344.25zM886.21 348.66L894.13 353.06L894.13 344.26zM892.15 348.67L900.07 353.07L900.07 344.27zM898.09 348.68L906.01 353.08L906.01 344.28zM904.02 348.69L911.94 353.09L911.94 344.29zM909.96 348.69L917.88 353.09L917.88 344.29zM915.9 348.7L923.82 353.1L923.82 344.3zM921.83 348.7L929.75 353.1L929.75 344.3zM927.77 348.7L935.69 353.1L935.69 344.3z" fill="#008080"/>
<path d="M576.85 251.9L582.79 273L588.72 283L594.66 291.5L600.6 299.2L606.53 306.9L612.47 312.4L618.41 316.8L624.34 320.5L630.28 324L636.22 325.96L642.15 328L648.09 332L654.03 334.29L659.96 336L665.9 337.54L671.84 338.91L677.77 340.1L683.71 341.13L689.65 342.06L695.58 342.87L701.52 343.5L707.46 344.01L713.39 344.49L719.33 344.94L725.27 345.35L731.2 345.73L737.14 346.06L743.08 346.36L749.01 346.62L754.95 346.83L760.89 347L766.82 347.14L772.76 347.28L778.7 347.42L784.63 347.55L790.57 347.67L796.51 347.8L802.44 347.92L808.38 348.03L814.32 348.14L820.25 348.25L826.19 348.35L832.13 348.45L838.06 348.54L844 348.63L849.94 348.71L855.87 348.79L861.81 348.86L867.75 348.93L873.68 348.99L879.62 349.05L885.56 349.1L891.49 349.15L897.43 349.19L903.37 349.22L909.3 349.25L915.24 349.27L921.18 349.29L927.11 349.3L933.05 349.3" fill="none" stroke="#ffff00" stroke-width="1"/>
<path d="M582.13 251.9L574.21 256.3L574.21 247.5zM588.07 273L580.15 277.4L580.15 268.6zM594 283L586.08 287.4L586.08 278.6zM599.94 291.5L592.02 295.9L592.02 287.1zM605.88 299.2L597.96 303.6L597.96 294.8zM611.81 306.9L603.89 311.3L603.89 302.5zM617.75 312.4L609.83 316.8L609.83 308zM623.69 316.8L615.77 321.2L615.77 312.4zM629.62 320.5L621.7 324.9L621.7 316.1zM635.56 324L627.64 328.4L627.64 319.6zM641.5 325.96L633.58 330.36L633.58 321.56zM647.43 328L639.51 332.4L639.51 323.6zM653.37 332L645.45 336.4L645.45 327.6zM659.31 334.29L651.39 338.69L651.39 329.89zM665.24 336L657.32 340.4L657.32 331.6zM671.18 337.54L663.26 341.94L663.26 333.14zM677.12 338.91L669.2 343.31L669.2 334.51zM683.05 340.1L675.13 344.5L675.13 335.7zM688.99 341.13L681.07 345.53L681.07 336.73zM694.93 342.06L687.01 346.46L687.01 337.66zM700.86 342.87L692.94 347.27L692.94 338.47zM706.8 343.5L698.88 347.9L698.88 339.1zM712.74 344.01L704.82 348.41L704.82 339.61zM718.67 344.49L710.75 348.89L710.75 340.09zM724.61 344.94L716.69 349.34L716.69 340.54zM730.55 345.35L722.63 349.75L722.63 340.95zM736.48 345.73L728.56 350.13L728.56 341.33zM742.42 346.06L734.5 350.46L734.5 341.66zM748.36 346.36L740.44 350.76L740.44 341.96zM754.29 346.62L746.37 351.02L746.37 342.22zM760.23 346.83L752.31 351.23L752.31 342.43zM766.17 347L758.25 351.4L758.25 342.6zM772.1 347.14L764.18 351.54L764.18 342.74zM778.04 347.28L770.12 351.68L770.12 342.88zM783.98 347.42L776.06 351.82L776.06 343.02zM789.91 347.55L781.99 351.95L781.99 343.15zM795.85 347.67L787.93 352.07L787.93 343.27zM801.79 347.8L793.87 352.2L793.87 343.4zM807.72 347.92L799.8 352.32L799.8 343.52zM813.66 348.03L805.74 352.43L805.74 343.63zM819.6 348.14L811.68 352.54L811.68 343.74zM825.53 348.25L817.61 352.65L817.61 343.85zM831.47 348.35L823.55 352.75L823.55 343.95zM837.41 348.45L829.49 352.85L829.49 344.05zM843.34 348.54L835.42 352.94L835.42 344.14zM849.28 348.63L841.36 353.03L841.36 344.23zM855.22 348.71L847.3 353.11L847.3 344.31zM861.15 348.79L853.23 353.19L853.23 344.39zM867.09 348.86L859.17 353.26L859.17 344.46zM873.03 348.93L865.11 353.33L865.11 344.53zM878.96 348.99L871.04 353.39L871.04 344.59zM884.9 349.05L876.98 353.45L876.98 344.65zM890.84 349.1L882.92 353.5L882.92 344.7zM896.77 349.15L888.85 353.55L888.85 344.75zM902.71 349.19L894.79 353.59L894.79 344.79zM908.65 349.22L900.73 353.62L900.73 344.82zM914.58 349.25L906.66 353.65L906.66 344.85zM920.52 349.27L912.6 353.67L912.6 344.87zM926.46 349.29L918.54 353.69L918.54 344.89zM932.39 349.3L924.47 353.7L924.47 344.9zM938.33 349.3L930.41 353.7L930.41 344.9z" fill="#ffff00"/>
<path d="M576.85 271.7L582.79 281.6L588.72 289.5L594.66 297L600.6 303.7L606.53 309.6L612.47 314.3L618.41 318.5L624.34 322L630.28 325.5L636.22 327.25L642.15 329L648.09 332.5L654.03 334.19L659.96 335.5L665.9 336.94L671.84 338.34L677.77 339.59L683.71 340.63L689.65 341.56L695.58 342.37L701.52 343L707.46 343.51L713.39 343.99L719.33 344.44L725.27 344.85L731.2 345.23L737.14 345.57L743.08 345.87L749.01 346.13L754.95 346.34L760.89 346.5L766.82 346.64L772.76 346.77L778.7 346.9L784.63 347.03L790.57 347.15L796.51 347.27L802.44 347.38L808.38 347.49L814.32 347.6L820.25 347.7L826.19 347.8L832.13 347.89L838.06 347.98L844 348.06L849.94 348.14L855.87 348.22L861.81 348.29L867.75 348.35L873.68 348.41L879.62 348.46L885.56 348.51L891.49 348.56L897.43 348.59L903.37 348.63L909.3 348.65L915.24 348.67L921.18 348.69L927.11 348.7L933.05 348.7" fill="none" stroke="#808000" stroke-width="1"/>
<path d="M573.11 271.7a3.74 3.74 0 1 0 7.48 0a3.74 3.74 0 1 0 -7.48 0zM579.05 281.6a3.74 3.74 0 1 0 7.48 0a3.74 3.74 0 1 0 -7.48 0zM584.98 289.5a3.74 3.74 0 1 0 7.48 0a3.74 3.74 0 1 0 -7.48 0zM590.92 297a3.74 3.74 0 1 0 7.48 0a3.74 3.74 0 1 0 -7.48 0zM596.86 303.7a3.74 3.74 0 1 0 7.48 0a3.74 3.74 0 1 0 -7.48 0zM602.79 309.6a3.74 3.74 0 1 0 7.48 0a3.74 3.74 0 1 0 -7.48 0zM608.73 314.3a3.74 3.74 0 1 0 7.48 0a3.74 3.74 0 1 0 -7.48 0zM614.67 318.5a3.74 3.74 0 1 0 7.48 0a3.74 3.74 0 1 0 -7.48 0zM620.6 322a3.74 3.74 0 1 0 7.48 0a3.74 3.74 0 1 0 -7.48 0zM626.54 325.5a3.74 3.74 0 1 0 7.48 0a3.74 3.74 0 1 0 -7.48 0zM632.48 327.25a3.74 3.74 0 1 0 7.48 0a3.74 3.74 0 1 0 -7.48 0zM638.41 329a3.74 3.74 0 1 0 7.48 0a3.74 3.74 0 1 0 -7.48 0zM644.35 332.5a3.74 3.74 0 1 0 7.48 0a3.74 3.74 0 1 0 -7.48 0zM650.29 334.19a3.74 3.74 0 1 0 7.48 0a3.74 3.74 0 1 0 -7.48 0zM656.22 335.5a3.74 3.74 0 1 0 7.48 0a3.74 3.74 0 1 0 -7.48 0zM662.16 336.94a3.74 3.74 0 1 0 7.48 0a3.74 3.74 0 1 0 -7.48 0zM668.1 338.34a3.74 3.74 0 1 0 7.48 0a3.74 3.74 0 1 0 -7.48 0zM674.03 339.59a3.74 3.74 0 1 0 7.48 0a3.74 3.74 0 1 0 -7.48 0zM679.97 340.63a3.74 3.74 0 1 0 7.48 0a3.74 3.74 0 1 0 -7.48 0zM685.91 341.56a3.74 3.74 0 1 0 7.48 0a3.74 3.74 0 1 0 -7.48 0zM691.84 342.37a3.74 3.74 0 1 0 7.48 0a3.74 3.74 0 1 0 -7.48 0zM697.78 343a3.74 3.74 0 1 0 7.48 0a3.74 3.74 0 1 0 -7.48 0zM703.72 343.51a3.74 3.74 0 1 0 7.48 0a3.74 3.74 0 1 0 -7.48 0zM709.65 343.99a3.74 3.74 0 1 0 7.48 0a3.74 3.74 0 1 0 -7.48 0zM715.59 344.44a3.74 3.74 0 1 0 7.48 0a3.74 3.74 0 1 0 -7.48 0zM721.53 344.85a3.74 3.74 0 1 0 7.48 0a3.74 3.74 0 1 0 -7.48 0zM727.46 345.23a3.74 3.74 0 1 0 7.48 0a3.74 3.74 0 1 0 -7.48 0zM733.4 345.57a3.74 3.74 0 1 0 7.48 0a3.74 3.74 0 1 0 -7.48 0zM739.34 345.87a3.74 3.74 0 1 0 7.48 0a3.74 3.74 0 1 0 -7.48 0zM745.27 346.13a3.74 3.74 0 1 0 7.48 0a3.74 3.74 0 1 0 -7.48 0zM751.21 346.34a3.74 3.74 0 1 0 7.48 0a3.74 3.74 0 1 0 -7.48 0zM757.15 346.5a3.74 3.74 0 1 0 7.48 0a3.74 3.74 0 1 0 -7.48 0zM763.08 346.64a3.74 3.74 0 1 0 7.48 0a3.74 3.74 0 1 0 -7.48 0zM769.02 346.77a3.74 3.74 0 1 0 7.48 0a3.74 3.74 0 1 0 -7.48 0zM774.96 346.9a3.74 3.74 0 1 0 7.48 0a3.74 3.74 0 1 0 -7.48 0zM780.89 347.03a3.74 3.74 0 1 0 7.48 0a3.74 3.74 0 1 0 -7.48 0zM786.83 347.15a3.74 3.74 0 1 0 7.48 0a3.74 3.74 0 1 0 -7.48 0zM792.77 347.27a3.74 3.74 0 1 0 7.48 0a3.74 3.74 0 1 0 -7.48 0zM798.7 347.38a3.74 3.74 0 1 0 7.48 0a3.74 3.74 0 1 0 -7.48 0zM804.64 347.49a3.74 3.74 0 1 0 7.48 0a3.74 3.74 0 1 0 -7.48 0zM810.58 347.6a3.74 3.74 0 1 0 7.48 0a3.74 3.74 0 1 0 -7.48 0zM816.51 347.7a3.74 3.74 0 1 0 7.48 0a3.74 3.74 0 1 0 -7.48 0zM822.45 347.8a3.74 3.74 0 1 0 7.48 0a3.74 3.74 0 1 0 -7.48 0zM828.39 347.89a3.74 3.74 0 1 0 7.48 0a3.74 3.74 0 1 0 -7.48 0zM834.32 347.98a3.74 3.74 0 1 0 7.48 0a3.74 3.74 0 1 0 -7.48 0zM840.26 348.06a3.74 3.74 0 1 0 7.48 0a3.74 3.74 0 1 0 -7.48 0zM846.2 348.14a3.74 3.74 0 1 0 7.48 0a3.74 3.74 0 1 0 -7.48 0zM852.13 348.22a3.74 3.74 0 1 0 7.48 0a3.74 3.74 0 1 0 -7.48 0zM858.07 348.29a3.74 3.74 0 1 0 7.48 0a3.74 3.74 0 1 0 -7.48 0zM864.01 348.35a3.74 3.74 0 1 0 7.48 0a3.74 3.74 0 1 0 -7.48 0zM869.94 348.41a3.74 3.74 0 1 0 7.48 0a3.74 3.74 0 1 0 -7.48 0zM875.88 348.46a3.74 3.74 0 1 0 7.48 0a3.74 3.74 0 1 0 -7.48 0zM881.82 348.51a3.74 3.74 0 1 0 7.48 0a3.74 3.74 0 1 0 -7.48 0zM887.75 348.56a3.74 3.74 0 1 0 7.48 0a3.74 3.74 0 1 0 -7.48 0zM893.69 348.59a3.74 3.74 0 1 0 7.48 0a3.74 3.74 0 1 0 -7.48 0zM899.63 348.63a3.74 3.74 0 1 0 7.48 0a3.74 3.74 0 1 0 -7.48 0zM905.56 348.65a3.74 3.74 0 1 0 7.48 0a3.74 3.74 0 1 0 -7.48 0zM911.5 348.67a3.74 3.74 0 1 0 7.48 0a3.74 3.74 0 1 0 -7.48 0zM917.44 348.69a3.74 3.74 0 1 0 7.48 0a3.74 3.74 0 1 0 -7.48 0zM923.37 348.7a3.74 3.74 0 1 0 7.48 0a3.74 3.74 0 1 0 -7.48 0zM929.31 348.7a3.74 3.74 0 1 0 7.48 0a3.74 3.74 0 1 0 -7.48 0z" fill="#808000"/>
<path d="M576.85 294.8L582.79 299.8L588.72 303.7L594.66 308L600.6 311.3L606.53 314.1L612.47 317.5L618.41 320.78L624.34 324L630.28 327L636.22 329.03L642.15 330.71L648.09 332.38L654.03 334.02L659.96 335.5L665.9 336.82L671.84 338.03L677.77 339.12L683.71 340.1L689.65 341.02L695.58 341.84L701.52 342.5L707.46 343.06L713.39 343.6L719.33 344.11L725.27 344.59L731.2 345.03L737.14 345.43L743.08 345.78L749.01 346.08L754.95 346.32L760.89 346.5L766.82 346.64L772.76 346.78L778.7 346.91L784.63 347.04L790.57 347.16L796.51 347.28L802.44 347.4L808.38 347.51L814.32 347.62L820.25 347.72L826.19 347.82L832.13 347.91L838.06 348L844 348.08L849.94 348.16L855.87 348.23L861.81 348.3L867.75 348.36L873.68 348.42L879.62 348.47L885.56 348.52L891.49 348.56L897.43 348.6L903.37 348.63L909.3 348.65L915.24 348.67L921.18 348.69L927.11 348.7L933.05 348.7" fill="none" stroke="#000080" stroke-width="1"/>
<path d="M576.85 290.22L578.11 293.06L581.2 293.39L578.9 295.46L579.54 298.5L576.85 296.95L574.16 298.5L574.8 295.46L572.5 293.39L575.59 293.06zM582.79 295.22L584.05 298.06L587.14 298.39L584.83 300.46L585.48 303.5L582.79 301.95L580.1 303.5L580.74 300.46L578.43 298.39L581.52 298.06zM588.72 299.12L589.99 301.96L593.08 302.29L590.77 304.36L591.41 307.4L588.72 305.85L586.03 307.4L586.68 304.36L584.37 302.29L587.46 301.96zM594.66 303.42L595.92 306.26L599.01 306.59L596.71 308.66L597.35 311.7L594.66 310.15L591.97 311.7L592.61 308.66L590.31 306.59L593.4 306.26zM600.6 306.72L601.86 309.56L604.95 309.89L602.64 311.96L603.29 315L600.6 313.45L597.91 315L598.55 311.96L596.24 309.89L599.33 309.56zM606.53 309.52L607.8 312.36L610.89 312.69L608.58 314.76L609.22 317.8L606.53 316.25L603.84 317.8L604.49 314.76L602.18 312.69L605.27 312.36zM612.47 312.92L613.73 315.76L616.82 316.09L614.52 318.16L615.16 321.2L612.47 319.65L609.78 321.2L610.42 318.16L608.12 316.09L611.21 315.76zM618.41 316.2L619.67 319.04L622.76 319.36L620.45 321.44L621.1 324.48L618.41 322.93L615.72 324.48L616.36 321.44L614.05 319.36L617.14 319.04zM624.34 319.43L625.61 322.26L628.7 322.59L626.39 324.67L627.03 327.71L624.34 326.15L621.65 327.71L622.3 324.67L619.99 322.59L623.08 322.26zM630.28 322.42L631.54 325.26L634.63 325.59L632.33 327.66L632.97 330.7L630.28 329.15L627.59 330.7L628.23 327.66L625.93 325.59L629.02 325.26zM636.22 324.45L637.48 327.29L640.57 327.62L638.26 329.7L638.91 332.73L636.22 331.18L633.53 332.73L634.17 329.7L631.86 327.62L634.95 327.29zM642.15 326.13L643.42 328.97L646.51 329.29L644.2 331.37L644.84 334.41L642.15 332.86L639.46 334.41L640.11 331.37L637.8 329.29L640.89 328.97zM648.09 327.8L649.35 330.64L652.44 330.97L650.14 333.04L650.78 336.08L648.09 334.53L645.4 336.08L646.04 333.04L643.74 330.97L646.83 330.64zM654.03 329.44L655.29 332.28L658.38 332.6L656.07 334.68L656.72 337.72L654.03 336.17L651.34 337.72L651.98 334.68L649.67 332.6L652.76 332.28zM659.96 330.92L661.23 333.76L664.32 334.09L662.01 336.16L662.65 339.2L659.96 337.65L657.27 339.2L657.92 336.16L655.61 334.09L658.7 333.76zM665.9 332.24L667.16 335.08L670.25 335.4L667.95 337.48L668.59 340.52L665.9 338.97L663.21 340.52L663.85 337.48L661.55 335.4L664.64 335.08zM671.84 333.46L673.1 336.29L676.19 336.62L673.88 338.7L674.53 341.73L671.84 340.18L669.15 341.73L669.79 338.7L667.48 336.62L670.57 336.29zM677.77 334.55L679.04 337.38L682.13 337.71L679.82 339.79L680.46 342.83L677.77 341.27L675.08 342.83L675.73 339.79L673.42 337.71L676.51 337.38zM683.71 335.53L684.97 338.36L688.06 338.69L685.76 340.77L686.4 343.81L683.71 342.25L681.02 343.81L681.66 340.77L679.36 338.69L682.45 338.36zM689.65 336.45L690.91 339.28L694 339.61L691.69 341.69L692.34 344.72L689.65 343.17L686.96 344.72L687.6 341.69L685.29 339.61L688.38 339.28zM695.58 337.26L696.85 340.1L699.94 340.42L697.63 342.5L698.27 345.54L695.58 343.99L692.89 345.54L693.54 342.5L691.23 340.42L694.32 340.1zM701.52 337.92L702.78 340.76L705.87 341.09L703.57 343.16L704.21 346.2L701.52 344.65L698.83 346.2L699.47 343.16L697.17 341.09L700.26 340.76zM707.46 338.49L708.72 341.32L711.81 341.65L709.5 343.73L710.15 346.76L707.46 345.21L704.77 346.76L705.41 343.73L703.1 341.65L706.19 341.32zM713.39 339.02L714.66 341.86L717.75 342.19L715.44 344.26L716.08 347.3L713.39 345.75L710.7 347.3L711.35 344.26L709.04 342.19L712.13 341.86zM719.33 339.54L720.59 342.37L723.68 342.7L721.38 344.78L722.02 347.81L719.33 346.26L716.64 347.81L717.28 344.78L714.98 342.7L718.07 342.37zM725.27 340.02L726.53 342.85L729.62 343.18L727.31 345.26L727.96 348.29L725.27 346.74L722.58 348.29L723.22 345.26L720.91 343.18L724 342.85zM731.2 340.46L732.47 343.29L735.56 343.62L733.25 345.7L733.89 348.74L731.2 347.18L728.51 348.74L729.16 345.7L726.85 343.62L729.94 343.29zM737.14 340.86L738.4 343.69L741.49 344.02L739.19 346.1L739.83 349.14L737.14 347.58L734.45 349.14L735.09 346.1L732.79 344.02L735.88 343.69zM743.08 341.21L744.34 344.04L747.43 344.37L745.12 346.45L745.77 349.49L743.08 347.94L740.39 349.49L741.03 346.45L738.72 344.37L741.81 344.04zM749.01 341.51L750.28 344.34L753.37 344.67L751.06 346.75L751.7 349.78L749.01 348.23L746.32 349.78L746.97 346.75L744.66 344.67L747.75 344.34zM754.95 341.75L756.21 344.58L759.3 344.91L757 346.99L757.64 350.03L754.95 348.47L752.26 350.03L752.9 346.99L750.6 344.91L753.69 344.58zM760.89 341.92L762.15 344.76L765.24 345.09L762.93 347.16L763.58 350.2L760.89 348.65L758.2 350.2L758.84 347.16L756.53 345.09L759.62 344.76zM766.82 342.07L768.09 344.9L771.18 345.23L768.87 347.31L769.51 350.34L766.82 348.79L764.13 350.34L764.78 347.31L762.47 345.23L765.56 344.9zM772.76 342.2L774.02 345.04L777.11 345.36L774.81 347.44L775.45 350.48L772.76 348.93L770.07 350.48L770.71 347.44L768.41 345.36L771.5 345.04zM778.7 342.34L779.96 345.17L783.05 345.5L780.74 347.58L781.39 350.61L778.7 349.06L776.01 350.61L776.65 347.58L774.34 345.5L777.43 345.17zM784.63 342.46L785.9 345.3L788.99 345.63L786.68 347.7L787.32 350.74L784.63 349.19L781.94 350.74L782.59 347.7L780.28 345.63L783.37 345.3zM790.57 342.59L791.83 345.42L794.92 345.75L792.62 347.83L793.26 350.87L790.57 349.32L787.88 350.87L788.52 347.83L786.22 345.75L789.31 345.42zM796.51 342.71L797.77 345.54L800.86 345.87L798.55 347.95L799.2 350.99L796.51 349.44L793.82 350.99L794.46 347.95L792.15 345.87L795.24 345.54zM802.44 342.82L803.71 345.66L806.8 345.99L804.49 348.06L805.13 351.1L802.44 349.55L799.75 351.1L800.4 348.06L798.09 345.99L801.18 345.66zM808.38 342.94L809.64 345.77L812.73 346.1L810.43 348.18L811.07 351.21L808.38 349.66L805.69 351.21L806.33 348.18L804.03 346.1L807.12 345.77zM814.32 343.04L815.58 345.88L818.67 346.2L816.36 348.28L817.01 351.32L814.32 349.77L811.63 351.32L812.27 348.28L809.96 346.2L813.05 345.88zM820.25 343.14L821.52 345.98L824.61 346.31L822.3 348.38L822.94 351.42L820.25 349.87L817.56 351.42L818.21 348.38L815.9 346.31L818.99 345.98zM826.19 343.24L827.45 346.08L830.54 346.4L828.24 348.48L828.88 351.52L826.19 349.97L823.5 351.52L824.14 348.48L821.84 346.4L824.93 346.08zM832.13 343.33L833.39 346.17L836.48 346.5L834.17 348.57L834.82 351.61L832.13 350.06L829.44 351.61L830.08 348.57L827.77 346.5L830.86 346.17zM838.06 343.42L839.33 346.26L842.42 346.58L840.11 348.66L840.75 351.7L838.06 350.15L835.37 351.7L836.02 348.66L833.71 346.58L836.8 346.26zM844 343.5L845.26 346.34L848.35 346.67L846.05 348.74L846.69 351.78L844 350.23L841.31 351.78L841.95 348.74L839.65 346.67L842.74 346.34zM849.94 343.58L851.2 346.42L854.29 346.74L851.98 348.82L852.63 351.86L849.94 350.31L847.25 351.86L847.89 348.82L845.58 346.74L848.67 346.42zM855.87 343.66L857.14 346.49L860.23 346.82L857.92 348.9L858.56 351.93L855.87 350.38L853.18 351.93L853.83 348.9L851.52 346.82L854.61 346.49zM861.81 343.72L863.07 346.56L866.16 346.89L863.86 348.96L864.5 352L861.81 350.45L859.12 352L859.76 348.96L857.46 346.89L860.55 346.56zM867.75 343.79L869.01 346.62L872.1 346.95L869.79 349.03L870.44 352.06L867.75 350.51L865.06 352.06L865.7 349.03L863.39 346.95L866.48 346.62zM873.68 343.84L874.95 346.68L878.04 347.01L875.73 349.08L876.37 352.12L873.68 350.57L870.99 352.12L871.64 349.08L869.33 347.01L872.42 346.68zM879.62 343.9L880.88 346.73L883.97 347.06L881.67 349.14L882.31 352.17L879.62 350.62L876.93 352.17L877.57 349.14L875.27 347.06L878.36 346.73zM885.56 343.94L886.82 346.78L889.91 347.11L887.6 349.18L888.25 352.22L885.56 350.67L882.87 352.22L883.51 349.18L881.2 347.11L884.29 346.78zM891.49 343.99L892.76 346.82L895.85 347.15L893.54 349.23L894.18 352.26L891.49 350.71L888.8 352.26L889.45 349.23L887.14 347.15L890.23 346.82zM897.43 344.02L898.69 346.86L901.78 347.18L899.48 349.26L900.12 352.3L897.43 350.75L894.74 352.3L895.38 349.26L893.08 347.18L896.17 346.86zM903.37 344.05L904.63 346.89L907.72 347.21L905.41 349.29L906.06 352.33L903.37 350.78L900.68 352.33L901.32 349.29L899.01 347.21L902.1 346.89zM909.3 344.08L910.57 346.91L913.66 347.24L911.35 349.32L911.99 352.36L909.3 350.8L906.61 352.36L907.26 349.32L904.95 347.24L908.04 346.91zM915.24 344.1L916.5 346.93L919.59 347.26L917.29 349.34L917.93 352.38L915.24 350.82L912.55 352.38L913.19 349.34L910.89 347.26L913.98 346.93zM921.18 344.11L922.44 346.95L925.53 347.27L923.22 349.35L923.87 352.39L921.18 350.84L918.49 352.39L919.13 349.35L916.82 347.27L919.91 346.95zM927.11 344.12L928.38 346.96L931.47 347.28L929.16 349.36L929.8 352.4L927.11 350.85L924.42 352.4L925.07 349.36L922.76 347.28L925.85 346.96zM933.05 344.12L934.31 346.96L937.4 347.29L935.1 349.36L935.74 352.4L933.05 350.85L930.36 352.4L931 349.36L928.7 347.29L931.79 346.96z" fill="#000080"/>
<path d="M576.85 324.8L582.79 325.69L588.72 326.5L594.66 327.2L600.6 327.84L606.53 328.5L612.47 329.18L618.41 329.9L624.34 330.69L630.28 331.53L636.22 332.45L642.15 333.5L648.09 334.87L654.03 336.45L659.96 337.8L665.9 338.82L671.84 339.73L677.77 340.55L683.71 341.3L689.65 342L695.58 342.65L701.52 343.25L707.46 343.8L713.39 344.3L719.33 344.8L725.27 345.31L731.2 345.81L737.14 346.29L743.08 346.71L749.01 347.07L754.95 347.34L760.89 347.5L766.82 347.59L772.76 347.68L778.7 347.77L784.63 347.85L790.57 347.93L796.51 348L802.44 348.07L808.38 348.14L814.32 348.2L820.25 348.26L826.19 348.32L832.13 348.38L838.06 348.43L844 348.47L849.94 348.52L855.87 348.56L861.81 348.59L867.75 348.63L873.68 348.66L879.62 348.69L885.56 348.71L891.49 348.73L897.43 348.75L903.37 348.77L909.3 348.78L915.24 348.79L921.18 348.79L927.11 348.8L933.05 348.8" fill="none" stroke="#800080" stroke-width="1"/>
<path d="M576.85 320.4L581.03 323.44L579.44 328.36L574.26 328.36L572.67 323.44zM582.79 321.29L586.97 324.33L585.37 329.25L580.2 329.25L578.6 324.33zM588.72 322.1L592.91 325.14L591.31 330.06L586.14 330.06L584.54 325.14zM594.66 322.8L598.84 325.84L597.25 330.76L592.07 330.76L590.48 325.84zM600.6 323.44L604.78 326.49L603.18 331.4L598.01 331.4L596.41 326.49zM606.53 324.1L610.72 327.14L609.12 332.06L603.95 332.06L602.35 327.14zM612.47 324.78L616.65 327.82L615.06 332.74L609.88 332.74L608.29 327.82zM618.41 325.5L622.59 328.54L620.99 333.46L615.82 333.46L614.22 328.54zM624.34 326.29L628.53 329.33L626.93 334.25L621.76 334.25L620.16 329.33zM630.28 327.13L634.46 330.17L632.87 335.09L627.69 335.09L626.1 330.17zM636.22 328.05L640.4 331.09L638.8 336.01L633.63 336.01L632.03 331.09zM642.15 329.1L646.34 332.14L644.74 337.06L639.57 337.06L637.97 332.14zM648.09 330.47L652.27 333.51L650.68 338.43L645.5 338.43L643.91 333.51zM654.03 332.05L658.21 335.09L656.61 340.01L651.44 340.01L649.84 335.09zM659.96 333.4L664.15 336.44L662.55 341.36L657.38 341.36L655.78 336.44zM665.9 334.42L670.08 337.46L668.49 342.38L663.31 342.38L661.72 337.46zM671.84 335.33L676.02 338.37L674.42 343.29L669.25 343.29L667.65 338.37zM677.77 336.15L681.96 339.19L680.36 344.11L675.19 344.11L673.59 339.19zM683.71 336.9L687.89 339.94L686.3 344.86L681.12 344.86L679.53 339.94zM689.65 337.6L693.83 340.64L692.23 345.56L687.06 345.56L685.46 340.64zM695.58 338.25L699.77 341.29L698.17 346.21L693 346.21L691.4 341.29zM701.52 338.85L705.7 341.89L704.11 346.81L698.93 346.81L697.34 341.89zM707.46 339.4L711.64 342.44L710.04 347.36L704.87 347.36L703.27 342.44zM713.39 339.9L717.58 342.94L715.98 347.86L710.81 347.86L709.21 342.94zM719.33 340.4L723.51 343.44L721.92 348.36L716.74 348.36L715.15 343.44zM725.27 340.91L729.45 343.95L727.85 348.87L722.68 348.87L721.08 343.95zM731.2 341.41L735.39 344.45L733.79 349.37L728.62 349.37L727.02 344.45zM737.14 341.89L741.32 344.93L739.73 349.85L734.55 349.85L732.96 344.93zM743.08 342.31L747.26 345.36L745.66 350.27L740.49 350.27L738.89 345.36zM749.01 342.67L753.2 345.71L751.6 350.63L746.43 350.63L744.83 345.71zM754.95 342.94L759.13 345.98L757.54 350.9L752.36 350.9L750.77 345.98zM760.89 343.1L765.07 346.14L763.47 351.06L758.3 351.06L756.7 346.14zM766.82 343.19L771.01 346.23L769.41 351.15L764.24 351.15L762.64 346.23zM772.76 343.28L776.94 346.32L775.35 351.24L770.17 351.24L768.58 346.32zM778.7 343.37L782.88 346.41L781.28 351.33L776.11 351.33L774.51 346.41zM784.63 343.45L788.82 346.49L787.22 351.41L782.05 351.41L780.45 346.49zM790.57 343.53L794.75 346.57L793.16 351.49L787.98 351.49L786.39 346.57zM796.51 343.6L800.69 346.64L799.09 351.56L793.92 351.56L792.32 346.64zM802.44 343.67L806.63 346.71L805.03 351.63L799.86 351.63L798.26 346.71zM808.38 343.74L812.56 346.78L810.97 351.7L805.79 351.7L804.2 346.78zM814.32 343.8L818.5 346.84L816.9 351.76L811.73 351.76L810.13 346.84zM820.25 343.86L824.44 346.91L822.84 351.82L817.67 351.82L816.07 346.91zM826.19 343.92L830.37 346.96L828.78 351.88L823.6 351.88L822.01 346.96zM832.13 343.98L836.31 347.02L834.71 351.93L829.54 351.93L827.94 347.02zM838.06 344.03L842.25 347.07L840.65 351.98L835.48 351.98L833.88 347.07zM844 344.07L848.18 347.11L846.59 352.03L841.41 352.03L839.82 347.11zM849.94 344.12L854.12 347.16L852.52 352.08L847.35 352.08L845.75 347.16zM855.87 344.16L860.06 347.2L858.46 352.12L853.29 352.12L851.69 347.2zM861.81 344.19L865.99 347.23L864.4 352.15L859.22 352.15L857.63 347.23zM867.75 344.23L871.93 347.27L870.33 352.19L865.16 352.19L863.56 347.27zM873.68 344.26L877.87 347.3L876.27 352.22L871.1 352.22L869.5 347.3zM879.62 344.29L883.8 347.33L882.21 352.24L877.03 352.24L875.44 347.33zM885.56 344.31L889.74 347.35L888.14 352.27L882.97 352.27L881.37 347.35zM891.49 344.33L895.68 347.37L894.08 352.29L888.91 352.29L887.31 347.37zM897.43 344.35L901.61 347.39L900.02 352.31L894.84 352.31L893.25 347.39zM903.37 344.37L907.55 347.41L905.95 352.32L900.78 352.32L899.18 347.41zM909.3 344.38L913.49 347.42L911.89 352.34L906.72 352.34L905.12 347.42zM915.24 344.39L919.42 347.43L917.83 352.35L912.65 352.35L911.06 347.43zM921.18 344.39L925.36 347.43L923.76 352.35L918.59 352.35L916.99 347.43zM927.11 344.4L931.3 347.44L929.7 352.36L924.53 352.36L922.93 347.44zM933.05 344.4L937.23 347.44L935.64 352.36L930.46 352.36L928.87 347.44z" fill="#800080"/>
</g>
<clipPath id="cpc"><rect x="89" y="483" width="376" height="336"/></clipPath>
<g clip-path="url(#cpc)">
<path d="M88.5 769.5L94.73 770.49L100.95 771.5L107.18 772.54L113.41 773.53L119.63 774.48L125.86 775.5L132.09 776.75L138.31 778L144.54 778.95L150.77 779.85L156.99 781.19L163.22 783L169.45 784.28L175.67 785.39L181.9 786.5L188.13 787.71L194.35 788.92L200.58 790L206.81 790.95L213.03 791.85L219.26 792.68L225.49 793.4L231.71 794L237.94 794.51L244.17 795L250.39 795.46L256.62 795.87L262.85 796.24L269.07 796.56L275.3 796.81L281.53 797L287.75 797.15L293.98 797.29L300.21 797.42L306.43 797.55L312.66 797.66L318.89 797.76L325.11 797.84L331.34 797.91L337.57 797.96L343.79 797.99L350.02 798L356.25 798L362.47 798L368.7 798L374.93 798L381.15 798L387.38 798L393.61 798L399.83 798L406.06 798L412.29 798L418.51 798L424.74 798L430.97 798L437.19 798L443.42 798L449.65 798L455.87 798L462.1 798" fill="none" stroke="#000000" stroke-width="1"/>
<path d="M85.2 766.2h6.6v6.6h-6.6zM91.43 767.19h6.6v6.6h-6.6zM97.65 768.2h6.6v6.6h-6.6zM103.88 769.24h6.6v6.6h-6.6zM110.11 770.23h6.6v6.6h-6.6zM116.33 771.18h6.6v6.6h-6.6zM122.56 772.2h6.6v6.6h-6.6zM128.79 773.45h6.6v6.6h-6.6zM135.01 774.7h6.6v6.6h-6.6zM141.24 775.65h6.6v6.6h-6.6zM147.47 776.55h6.6v6.6h-6.6zM153.69 777.89h6.6v6.6h-6.6zM159.92 779.7h6.6v6.6h-6.6zM166.15 780.98h6.6v6.6h-6.6zM172.37 782.09h6.6v6.6h-6.6zM178.6 783.2h6.6v6.6h-6.6zM184.83 784.41h6.6v6.6h-6.6zM191.05 785.62h6.6v6.6h-6.6zM197.28 786.7h6.6v6.6h-6.6zM203.51 787.65h6.6v6.6h-6.6zM209.73 788.55h6.6v6.6h-6.6zM215.96 789.38h6.6v6.6h-6.6zM222.19 790.1h6.6v6.6h-6.6zM228.41 790.7h6.6v6.6h-6.6zM234.64 791.21h6.6v6.6h-6.6zM240.87 791.7h6.6v6.6h-6.6zM247.09 792.16h6.6v6.6h-6.6zM253.32 792.57h6.6v6.6h-6.6zM259.55 792.94h6.6v6.6h-6.6zM265.77 793.26h6.6v6.6h-6.6zM272 793.51h6.6v6.6h-6.6zM278.23 793.7h6.6v6.6h-6.6zM284.45 793.85h6.6v6.6h-6.6zM290.68 793.99h6.6v6.6h-6.6zM296.91 794.12h6.6v6.6h-6.6zM303.13 794.25h6.6v6.6h-6.6zM309.36 794.36h6.6v6.6h-6.6zM315.59 794.46h6.6v6.6h-6.6zM321.81 794.54h6.6v6.6h-6.6zM328.04 794.61h6.6v6.6h-6.6zM334.27 794.66h6.6v6.6h-6.6zM340.49 794.69h6.6v6.6h-6.6zM346.72 794.7h6.6v6.6h-6.6zM352.95 794.7h6.6v6.6h-6.6zM359.17 794.7h6.6v6.6h-6.6zM365.4 794.7h6.6v6.6h-6.6zM371.63 794.7h6.6v6.6h-6.6zM377.85 794.7h6.6v6.6h-6.6zM384.08 794.7h6.6v6.6h-6.6zM390.31 794.7h6.6v6.6h-6.6zM396.53 794.7h6.6v6.6h-6.6zM402.76 794.7h6.6v6.6h-6.6zM408.99 794.7h6.6v6.6h-6.6zM415.21 794.7h6.6v6.6h-6.6zM421.44 794.7h6.6v6.6h-6.6zM427.67 794.7h6.6v6.6h-6.6zM433.89 794.7h6.6v6.6h-6.6zM440.12 794.7h6.6v6.6h-6.6zM446.35 794.7h6.6v6.6h-6.6zM452.57 794.7h6.6v6.6h-6.6zM458.8 794.7h6.6v6.6h-6.6z" fill="#000000"/>
<path d="M88.5 522.7L94.73 561.2L100.95 593L107.18 620.3L113.41 644.8L119.63 665L125.86 683.1L132.09 698.1L138.31 721.9L144.54 732.2L150.77 741L156.99 748.7L163.22 754.9L169.45 760.8L175.67 765.7L181.9 770.5L188.13 774.7L194.35 777.9L200.58 781L206.81 783.8L213.03 785.9L219.26 787.4L225.49 788.7L231.71 789.96L237.94 791L244.17 791.69L250.39 792.24L256.62 792.73L262.85 793.23L269.07 793.74L275.3 794.21L281.53 794.62L287.75 794.92L293.98 795.19L300.21 795.42L306.43 795.63L312.66 795.82L318.89 795.99L325.11 796.15L331.34 796.3L337.57 796.44L343.79 796.58L350.02 796.71L356.25 796.83L362.47 796.95L368.7 797.06L374.93 797.16L381.15 797.26L387.38 797.35L393.61 797.43L399.83 797.5L406.06 797.57L412.29 797.63L418.51 797.69L424.74 797.75L430.97 797.81L437.19 797.86L443.42 797.9L449.65 797.94L455.87 797.97L462.1 798" fill="none" stroke="#004040" stroke-width="1"/>
<path d="M84.76 522.7a3.74 3.74 0 1 0 7.48 0a3.74 3.74 0 1 0 -7.48 0zM90.99 561.2a3.74 3.74 0 1 0 7.48 0a3.74 3.74 0 1 0 -7.48 0zM97.21 593a3.74 3.74 0 1 0 7.48 0a3.74 3.74 0 1 0 -7.48 0zM103.44 620.3a3.74 3.74 0 1 0 7.48 0a3.74 3.74 0 1 0 -7.48 0zM109.67 644.8a3.74 3.74 0 1 0 7.48 0a3.74 3.74 0 1 0 -7.48 0zM115.89 665a3.74 3.74 0 1 0 7.48 0a3.74 3.74 0 1 0 -7.48 0zM122.12 683.1a3.74 3.74 0 1 0 7.48 0a3.74 3.74 0 1 0 -7.48 0zM128.35 698.1a3.74 3.74 0 1 0 7.48 0a3.74 3.74 0 1 0 -7.48 0zM134.57 721.9a3.74 3.74 0 1 0 7.48 0a3.74 3.74 0 1 0 -7.48 0zM140.8 732.2a3.74 3.74 0 1 0 7.48 0a3.74 3.74 0 1 0 -7.48 0zM147.03 741a3.74 3.74 0 1 0 7.48 0a3.74 3.74 0 1 0 -7.48 0zM153.25 748.7a3.74 3.74 0 1 0 7.48 0a3.74 3.74 0 1 0 -7.48 0zM159.48 754.9a3.74 3.74 0 1 0 7.48 0a3.74 3.74 0 1 0 -7.48 0zM165.71 760.8a3.74 3.74 0 1 0 7.48 0a3.74 3.74 0 1 0 -7.48 0zM171.93 765.7a3.74 3.74 0 1 0 7.48 0a3.74 3.74 0 1 0 -7.48 0zM178.16 770.5a3.74 3.74 0 1 0 7.48 0a3.74 3.74 0 1 0 -7.48 0zM184.39 774.7a3.74 3.74 0 1 0 7.48 0a3.74 3.74 0 1 0 -7.48 0zM190.61 777.9a3.74 3.74 0 1 0 7.48 0a3.74 3.74 0 1 0 -7.48 0zM196.84 781a3.74 3.74 0 1 0 7.48 0a3.74 3.74 0 1 0 -7.48 0zM203.07 783.8a3.74 3.74 0 1 0 7.48 0a3.74 3.74 0 1 0 -7.48 0zM209.29 785.9a3.74 3.74 0 1 0 7.48 0a3.74 3.74 0 1 0 -7.48 0zM215.52 787.4a3.74 3.74 0 1 0 7.48 0a3.74 3.74 0 1 0 -7.48 0zM221.75 788.7a3.74 3.74 0 1 0 7.48 0a3.74 3.74 0 1 0 -7.48 0zM227.97 789.96a3.74 3.74 0 1 0 7.48 0a3.74 3.74 0 1 0 -7.48 0zM234.2 791a3.74 3.74 0 1 0 7.48 0a3.74 3.74 0 1 0 -7.48 0zM240.43 791.69a3.74 3.74 0 1 0 7.48 0a3.74 3.74 0 1 0 -7.48 0zM246.65 792.24a3.74 3.74 0 1 0 7.48 0a3.74 3.74 0 1 0 -7.48 0zM252.88 792.73a3.74 3.74 0 1 0 7.48 0a3.74 3.74 0 1 0 -7.48 0zM259.11 793.23a3.74 3.74 0 1 0 7.48 0a3.74 3.74 0 1 0 -7.48 0zM265.33 793.74a3.74 3.74 0 1 0 7.48 0a3.74 3.74 0 1 0 -7.48 0zM271.56 794.21a3.74 3.74 0 1 0 7.48 0a3.74 3.74 0 1 0 -7.48 0zM277.79 794.62a3.74 3.74 0 1 0 7.48 0a3.74 3.74 0 1 0 -7.48 0zM284.01 794.92a3.74 3.74 0 1 0 7.48 0a3.74 3.74 0 1 0 -7.48 0zM290.24 795.19a3.74 3.74 0 1 0 7.48 0a3.74 3.74 0 1 0 -7.48 0zM296.47 795.42a3.74 3.74 0 1 0 7.48 0a3.74 3.74 0 1 0 -7.48 0zM302.69 795.63a3.74 3.74 0 1 0 7.48 0a3.74 3.74 0 1 0 -7.48 0zM308.92 795.82a3.74 3.74 0 1 0 7.48 0a3.74 3.74 0 1 0 -7.48 0zM315.15 795.99a3.74 3.74 0 1 0 7.48 0a3.74 3.74 0 1 0 -7.48 0zM321.37 796.15a3.74 3.74 0 1 0 7.48 0a3.74 3.74 0 1 0 -7.48 0zM327.6 796.3a3.74 3.74 0 1 0 7.48 0a3.74 3.74 0 1 0 -7.48 0zM333.83 796.44a3.74 3.74 0 1 0 7.48 0a3.74 3.74 0 1 0 -7.48 0zM340.05 796.58a3.74 3.74 0 1 0 7.48 0a3.74 3.74 0 1 0 -7.48 0zM346.28 796.71a3.74 3.74 0 1 0 7.48 0a3.74 3.74 0 1 0 -7.48 0zM352.51 796.83a3.74 3.74 0 1 0 7.48 0a3.74 3.74 0 1 0 -7.48 0zM358.73 796.95a3.74 3.74 0 1 0 7.48 0a3.74 3.74 0 1 0 -7.48 0zM364.96 797.06a3.74 3.74 0 1 0 7.48 0a3.74 3.74 0 1 0 -7.48 0zM371.19 797.16a3.74 3.74 0 1 0 7.48 0a3.74 3.74 0 1 0 -7.48 0zM377.41 797.26a3.74 3.74 0 1 0 7.48 0a3.74 3.74 0 1 0 -7.48 0zM383.64 797.35a3.74 3.74 0 1 0 7.48 0a3.74 3.74 0 1 0 -7.48 0zM389.87 797.43a3.74 3.74 0 1 0 7.48 0a3.74 3.74 0 1 0 -7.48 0zM396.09 797.5a3.74 3.74 0 1 0 7.48 0a3.74 3.74 0 1 0 -7.48 0zM402.32 797.57a3.74 3.74 0 1 0 7.48 0a3.74 3.74 0 1 0 -7.48 0zM408.55 797.63a3.74 3.74 0 1 0 7.48 0a3.74 3.74 0 1 0 -7.48 0zM414.77 797.69a3.74 3.74 0 1 0 7.48 0a3.74 3.74 0 1 0 -7.48 0zM421 797.75a3.74 3.74 0 1 0 7.48 0a3.74 3.74 0 1 0 -7.48 0zM427.23 797.81a3.74 3.74 0 1 0 7.48 0a3.74 3.74 0 1 0 -7.48 0zM433.45 797.86a3.74 3.74 0 1 0 7.48 0a3.74 3.74 0 1 0 -7.48 0zM439.68 797.9a3.74 3.74 0 1 0 7.48 0a3.74 3.74 0 1 0 -7.48 0zM445.91 797.94a3.74 3.74 0 1 0 7.48 0a3.74 3.74 0 1 0 -7.48 0zM452.13 797.97a3.74 3.74 0 1 0 7.48 0a3.74 3.74 0 1 0 -7.48 0zM458.36 798a3.74 3.74 0 1 0 7.48 0a3.74 3.74 0 1 0 -7.48 0z" fill="#004040"/>
<path d="M88.5 551.3L94.73 585.9L100.95 614.8L107.18 639L113.41 661L119.63 679.2L125.86 696.4L132.09 710.2L138.31 730L144.54 739.9L150.77 747.6L156.99 754.7L163.22 760.2L169.45 765.5L175.67 771L181.9 775.3L188.13 778.2L194.35 781L200.58 783.3L206.81 786.2L213.03 788.3L219.26 789.4L225.49 790.6L231.71 791.65L237.94 792.5L244.17 793.1L250.39 793.59L256.62 794L262.85 794.36L269.07 794.71L275.3 795.03L281.53 795.32L287.75 795.58L293.98 795.81L300.21 796L306.43 796.17L312.66 796.33L318.89 796.48L325.11 796.62L331.34 796.75L337.57 796.88L343.79 796.99L350.02 797.1L356.25 797.2L362.47 797.29L368.7 797.37L374.93 797.44L381.15 797.5L387.38 797.56L393.61 797.61L399.83 797.67L406.06 797.72L412.29 797.77L418.51 797.82L424.74 797.86L430.97 797.9L437.19 797.94L443.42 797.96L449.65 797.98L455.87 798L462.1 798" fill="none" stroke="#00ff00" stroke-width="1"/>
<path d="M88.5 547.34L92.9 555.26L84.1 555.26zM94.73 581.94L99.13 589.86L90.33 589.86zM100.95 610.84L105.35 618.76L96.55 618.76zM107.18 635.04L111.58 642.96L102.78 642.96zM113.41 657.04L117.81 664.96L109.01 664.96zM119.63 675.24L124.03 683.16L115.23 683.16zM125.86 692.44L130.26 700.36L121.46 700.36zM132.09 706.24L136.49 714.16L127.69 714.16zM138.31 726.04L142.71 733.96L133.91 733.96zM144.54 735.94L148.94 743.86L140.14 743.86zM150.77 743.64L155.17 751.56L146.37 751.56zM156.99 750.74L161.39 758.66L152.59 758.66zM163.22 756.24L167.62 764.16L158.82 764.16zM169.45 761.54L173.85 769.46L165.05 769.46zM175.67 767.04L180.07 774.96L171.27 774.96zM181.9 771.34L186.3 779.26L177.5 779.26zM188.13 774.24L192.53 782.16L183.73 782.16zM194.35 777.04L198.75 784.96L189.95 784.96zM200.58 779.34L204.98 787.26L196.18 787.26zM206.81 782.24L211.21 790.16L202.41 790.16zM213.03 784.34L217.43 792.26L208.63 792.26zM219.26 785.44L223.66 793.36L214.86 793.36zM225.49 786.64L229.89 794.56L221.09 794.56zM231.71 787.69L236.11 795.61L227.31 795.61zM237.94 788.54L242.34 796.46L233.54 796.46zM244.17 789.14L248.57 797.06L239.77 797.06zM250.39 789.63L254.79 797.55L245.99 797.55zM256.62 790.04L261.02 797.96L252.22 797.96zM262.85 790.4L267.25 798.32L258.45 798.32zM269.07 790.75L273.47 798.67L264.67 798.67zM275.3 791.07L279.7 798.99L270.9 798.99zM281.53 791.36L285.93 799.28L277.13 799.28zM287.75 791.62L292.15 799.54L283.35 799.54zM293.98 791.85L298.38 799.77L289.58 799.77zM300.21 792.04L304.61 799.96L295.81 799.96zM306.43 792.21L310.83 800.13L302.03 800.13zM312.66 792.37L317.06 800.29L308.26 800.29zM318.89 792.52L323.29 800.44L314.49 800.44zM325.11 792.66L329.51 800.58L320.71 800.58zM331.34 792.79L335.74 800.71L326.94 800.71zM337.57 792.92L341.97 800.84L333.17 800.84zM343.79 793.03L348.19 800.95L339.39 800.95zM350.02 793.14L354.42 801.06L345.62 801.06zM356.25 793.24L360.65 801.16L351.85 801.16zM362.47 793.33L366.87 801.25L358.07 801.25zM368.7 793.41L373.1 801.33L364.3 801.33zM374.93 793.48L379.33 801.4L370.53 801.4zM381.15 793.54L385.55 801.46L376.75 801.46zM387.38 793.6L391.78 801.52L382.98 801.52zM393.61 793.65L398.01 801.57L389.21 801.57zM399.83 793.71L404.23 801.63L395.43 801.63zM406.06 793.76L410.46 801.68L401.66 801.68zM412.29 793.81L416.69 801.73L407.89 801.73zM418.51 793.86L422.91 801.78L414.11 801.78zM424.74 793.9L429.14 801.82L420.34 801.82zM430.97 793.94L435.37 801.86L426.57 801.86zM437.19 793.98L441.59 801.9L432.79 801.9zM443.42 794L447.82 801.92L439.02 801.92zM449.65 794.02L454.05 801.94L445.25 801.94zM455.87 794.04L460.27 801.96L451.47 801.96zM462.1 794.04L466.5 801.96L457.7 801.96z" fill="#00ff00"/>
<path d="M88.5 574.9L94.73 606.4L100.95 633.5L107.18 655.5L113.41 674.8L119.63 692L125.86 706.9L132.09 727.2L138.31 737.1L144.54 745.5L150.77 752.5L156.99 758.5L163.22 763.5L169.45 768L175.67 772L181.9 776L188.13 780L194.35 782.15L200.58 784L206.81 786.45L213.03 788.24L219.26 789.54L225.49 790.6L231.71 791.5L237.94 792.33L244.17 793.09L250.39 793.75L256.62 794.28L262.85 794.66L269.07 794.96L275.3 795.23L281.53 795.46L287.75 795.66L293.98 795.84L300.21 796L306.43 796.16L312.66 796.31L318.89 796.46L325.11 796.6L331.34 796.73L337.57 796.86L343.79 796.97L350.02 797.09L356.25 797.19L362.47 797.28L368.7 797.36L374.93 797.44L381.15 797.5L387.38 797.56L393.61 797.61L399.83 797.67L406.06 797.72L412.29 797.77L418.51 797.82L424.74 797.86L430.97 797.9L437.19 797.94L443.42 797.96L449.65 797.98L455.87 798L462.1 798" fill="none" stroke="#400080" stroke-width="1"/>
<path d="M88.5 580.18L92.9 572.26L84.1 572.26zM94.73 611.68L99.13 603.76L90.33 603.76zM100.95 638.78L105.35 630.86L96.55 630.86zM107.18 660.78L111.58 652.86L102.78 652.86zM113.41 680.08L117.81 672.16L109.01 672.16zM119.63 697.28L124.03 689.36L115.23 689.36zM125.86 712.18L130.26 704.26L121.46 704.26zM132.09 732.48L136.49 724.56L127.69 724.56zM138.31 742.38L142.71 734.46L133.91 734.46zM144.54 750.78L148.94 742.86L140.14 742.86zM150.77 757.78L155.17 749.86L146.37 749.86zM156.99 763.78L161.39 755.86L152.59 755.86zM163.22 768.78L167.62 760.86L158.82 760.86zM169.45 773.28L173.85 765.36L165.05 765.36zM175.67 777.28L180.07 769.36L171.27 769.36zM181.9 781.28L186.3 773.36L177.5 773.36zM188.13 785.28L192.53 777.36L183.73 777.36zM194.35 787.43L198.75 779.51L189.95 779.51zM200.58 789.28L204.98 781.36L196.18 781.36zM206.81 791.73L211.21 783.81L202.41 783.81zM213.03 793.52L217.43 785.6L208.63 785.6zM219.26 794.82L223.66 786.9L214.86 786.9zM225.49 795.88L229.89 787.96L221.09 787.96zM231.71 796.78L236.11 788.86L227.31 788.86zM237.94 797.61L242.34 789.69L233.54 789.69zM244.17 798.37L248.57 790.45L239.77 790.45zM250.39 799.03L254.79 791.11L245.99 791.11zM256.62 799.56L261.02 791.64L252.22 791.64zM262.85 799.94L267.25 792.02L258.45 792.02zM269.07 800.24L273.47 792.32L264.67 792.32zM275.3 800.51L279.7 792.59L270.9 792.59zM281.53 800.74L285.93 792.82L277.13 792.82zM287.75 800.94L292.15 793.02L283.35 793.02zM293.98 801.12L298.38 793.2L289.58 793.2zM300.21 801.28L304.61 793.36L295.81 793.36zM306.43 801.44L310.83 793.52L302.03 793.52zM312.66 801.59L317.06 793.67L308.26 793.67zM318.89 801.74L323.29 793.82L314.49 793.82zM325.11 801.88L329.51 793.96L320.71 793.96zM331.34 802.01L335.74 794.09L326.94 794.09zM337.57 802.14L341.97 794.22L333.17 794.22zM343.79 802.25L348.19 794.33L339.39 794.33zM350.02 802.37L354.42 794.45L345.62 794.45zM356.25 802.47L360.65 794.55L351.85 794.55zM362.47 802.56L366.87 794.64L358.07 794.64zM368.7 802.64L373.1 794.72L364.3 794.72zM374.93 802.72L379.33 794.8L370.53 794.8zM381.15 802.78L385.55 794.86L376.75 794.86zM387.38 802.84L391.78 794.92L382.98 794.92zM393.61 802.89L398.01 794.97L389.21 794.97zM399.83 802.95L404.23 795.03L395.43 795.03zM406.06 803L410.46 795.08L401.66 795.08zM412.29 803.05L416.69 795.13L407.89 795.13zM418.51 803.1L422.91 795.18L414.11 795.18zM424.74 803.14L429.14 795.22L420.34 795.22zM430.97 803.18L435.37 795.26L426.57 795.26zM437.19 803.22L441.59 795.3L432.79 795.3zM443.42 803.24L447.82 795.32L439.02 795.32zM449.65 803.26L454.05 795.34L445.25 795.34zM455.87 803.28L460.27 795.36L451.47 795.36zM462.1 803.28L466.5 795.36L457.7 795.36z" fill="#400080"/>
<path d="M88.5 587.6L94.73 618.1L100.95 643.4L107.18 664.3L113.41 682L119.63 699.7L125.86 713.5L132.09 733.6L138.31 743.2L144.54 750.9L150.77 757.5L156.99 763L163.22 767.4L169.45 771.5L175.67 775L181.9 778.3L188.13 782L194.35 783.54L200.58 785L206.81 788L213.03 789.47L219.26 790.52L225.49 791.5L231.71 792.61L237.94 793.5L244.17 794.05L250.39 794.48L256.62 794.83L262.85 795.14L269.07 795.43L275.3 795.7L281.53 795.94L287.75 796.16L293.98 796.34L300.21 796.5L306.43 796.64L312.66 796.77L318.89 796.89L325.11 797.01L331.34 797.12L337.57 797.22L343.79 797.31L350.02 797.4L356.25 797.48L362.47 797.55L368.7 797.61L374.93 797.66L381.15 797.7L387.38 797.74L393.61 797.77L399.83 797.81L406.06 797.84L412.29 797.87L418.51 797.9L424.74 797.92L430.97 797.94L437.19 797.96L443.42 797.98L449.65 797.99L455.87 798L462.1 798" fill="none" stroke="#00ffff" stroke-width="1"/>
<path d="M88.5 583.2L92.9 587.6L88.5 592L84.1 587.6zM94.73 613.7L99.13 618.1L94.73 622.5L90.33 618.1zM100.95 639L105.35 643.4L100.95 647.8L96.55 643.4zM107.18 659.9L111.58 664.3L107.18 668.7L102.78 664.3zM113.41 677.6L117.81 682L113.41 686.4L109.01 682zM119.63 695.3L124.03 699.7L119.63 704.1L115.23 699.7zM125.86 709.1L130.26 713.5L125.86 717.9L121.46 713.5zM132.09 729.2L136.49 733.6L132.09 738L127.69 733.6zM138.31 738.8L142.71 743.2L138.31 747.6L133.91 743.2zM144.54 746.5L148.94 750.9L144.54 755.3L140.14 750.9zM150.77 753.1L155.17 757.5L150.77 761.9L146.37 757.5zM156.99 758.6L161.39 763L156.99 767.4L152.59 763zM163.22 763L167.62 767.4L163.22 771.8L158.82 767.4zM169.45 767.1L173.85 771.5L169.45 775.9L165.05 771.5zM175.67 770.6L180.07 775L175.67 779.4L171.27 775zM181.9 773.9L186.3 778.3L181.9 782.7L177.5 778.3zM188.13 777.6L192.53 782L188.13 786.4L183.73 782zM194.35 779.14L198.75 783.54L194.35 787.94L189.95 783.54zM200.58 780.6L204.98 785L200.58 789.4L196.18 785zM206.81 783.6L211.21 788L206.81 792.4L202.41 788zM213.03 785.07L217.43 789.47L213.03 793.87L208.63 789.47zM219.26 786.12L223.66 790.52L219.26 794.92L214.86 790.52zM225.49 787.1L229.89 791.5L225.49 795.9L221.09 791.5zM231.71 788.21L236.11 792.61L231.71 797.01L227.31 792.61zM237.94 789.1L242.34 793.5L237.94 797.9L233.54 793.5zM244.17 789.65L248.57 794.05L244.17 798.45L239.77 794.05zM250.39 790.08L254.79 794.48L250.39 798.88L245.99 794.48zM256.62 790.43L261.02 794.83L256.62 799.23L252.22 794.83zM262.85 790.74L267.25 795.14L262.85 799.54L258.45 795.14zM269.07 791.03L273.47 795.43L269.07 799.83L264.67 795.43zM275.3 791.3L279.7 795.7L275.3 800.1L270.9 795.7zM281.53 791.54L285.93 795.94L281.53 800.34L277.13 795.94zM287.75 791.76L292.15 796.16L287.75 800.56L283.35 796.16zM293.98 791.94L298.38 796.34L293.98 800.74L289.58 796.34zM300.21 792.1L304.61 796.5L300.21 800.9L295.81 796.5zM306.43 792.24L310.83 796.64L306.43 801.04L302.03 796.64zM312.66 792.37L317.06 796.77L312.66 801.17L308.26 796.77zM318.89 792.49L323.29 796.89L318.89 801.29L314.49 796.89zM325.11 792.61L329.51 797.01L325.11 801.41L320.71 797.01zM331.34 792.72L335.74 797.12L331.34 801.52L326.94 797.12zM337.57 792.82L341.97 797.22L337.57 801.62L333.17 797.22zM343.79 792.91L348.19 797.31L343.79 801.71L339.39 797.31zM350.02 793L354.42 797.4L350.02 801.8L345.62 797.4zM356.25 793.08L360.65 797.48L356.25 801.88L351.85 797.48zM362.47 793.15L366.87 797.55L362.47 801.95L358.07 797.55zM368.7 793.21L373.1 797.61L368.7 802.01L364.3 797.61zM374.93 793.26L379.33 797.66L374.93 802.06L370.53 797.66zM381.15 793.3L385.55 797.7L381.15 802.1L376.75 797.7zM387.38 793.34L391.78 797.74L387.38 802.14L382.98 797.74zM393.61 793.37L398.01 797.77L393.61 802.17L389.21 797.77zM399.83 793.41L404.23 797.81L399.83 802.21L395.43 797.81zM406.06 793.44L410.46 797.84L406.06 802.24L401.66 797.84zM412.29 793.47L416.69 797.87L412.29 802.27L407.89 797.87zM418.51 793.5L422.91 797.9L418.51 802.3L414.11 797.9zM424.74 793.52L429.14 797.92L424.74 802.32L420.34 797.92zM430.97 793.54L435.37 797.94L430.97 802.34L426.57 797.94zM437.19 793.56L441.59 797.96L437.19 802.36L432.79 797.96zM443.42 793.58L447.82 797.98L443.42 802.38L439.02 797.98zM449.65 793.59L454.05 797.99L449.65 802.39L445.25 797.99zM455.87 793.6L460.27 798L455.87 802.4L451.47 798zM462.1 793.6L466.5 798L462.1 802.4L457.7 798z" fill="#00ffff"/>
<path d="M88.5 635.1L94.73 660.4L100.95 681.2L107.18 697L113.41 709.6L119.63 731.1L125.86 741L132.09 748.7L138.31 755.3L144.54 761.3L150.77 766L156.99 770.5L163.22 774.5L169.45 778L175.67 780.13L181.9 782L188.13 784.35L194.35 786.5L200.58 788.09L206.81 789.42L213.03 790.51L219.26 791.46L225.49 792.29L231.71 793L237.94 793.62L244.17 794.19L250.39 794.69L256.62 795.11L262.85 795.45L269.07 795.75L275.3 796.03L281.53 796.27L287.75 796.49L293.98 796.66L300.21 796.8L306.43 796.91L312.66 797.01L318.89 797.1L325.11 797.19L331.34 797.27L337.57 797.34L343.79 797.41L350.02 797.47L356.25 797.53L362.47 797.58L368.7 797.62L374.93 797.66L381.15 797.7L387.38 797.73L393.61 797.77L399.83 797.8L406.06 797.83L412.29 797.86L418.51 797.89L424.74 797.92L430.97 797.94L437.19 797.96L443.42 797.98L449.65 797.99L455.87 798L462.1 798" fill="none" stroke="#008080" stroke-width="1"/>
<path d="M83.22 635.1L91.14 639.5L91.14 630.7zM89.45 660.4L97.37 664.8L97.37 656zM95.67 681.2L103.59 685.6L103.59 676.8zM101.9 697L109.82 701.4L109.82 692.6zM108.13 709.6L116.05 714L116.05 705.2zM114.35 731.1L122.27 735.5L122.27 726.7zM120.58 741L128.5 745.4L128.5 736.6zM126.81 748.7L134.73 753.1L134.73 744.3zM133.03 755.3L140.95 759.7L140.95 750.9zM139.26 761.3L147.18 765.7L147.18 756.9zM145.49 766L153.41 770.4L153.41 761.6zM151.71 770.5L159.63 774.9L159.63 766.1zM157.94 774.5L165.86 778.9L165.86 770.1zM164.17 778L172.09 782.4L172.09 773.6zM170.39 780.13L178.31 784.53L178.31 775.73zM176.62 782L184.54 786.4L184.54 777.6zM182.85 784.35L190.77 788.75L190.77 779.95zM189.07 786.5L196.99 790.9L196.99 782.1zM195.3 788.09L203.22 792.49L203.22 783.69zM201.53 789.42L209.45 793.82L209.45 785.02zM207.75 790.51L215.67 794.91L215.67 786.11zM213.98 791.46L221.9 795.86L221.9 787.06zM220.21 792.29L228.13 796.69L228.13 787.89zM226.43 793L234.35 797.4L234.35 788.6zM232.66 793.62L240.58 798.02L240.58 789.22zM238.89 794.19L246.81 798.59L246.81 789.79zM245.11 794.69L253.03 799.09L253.03 790.29zM251.34 795.11L259.26 799.51L259.26 790.71zM257.57 795.45L265.49 799.85L265.49 791.05zM263.79 795.75L271.71 800.15L271.71 791.35zM270.02 796.03L277.94 800.43L277.94 791.63zM276.25 796.27L284.17 800.67L284.17 791.87zM282.47 796.49L290.39 800.89L290.39 792.09zM288.7 796.66L296.62 801.06L296.62 792.26zM294.93 796.8L302.85 801.2L302.85 792.4zM301.15 796.91L309.07 801.31L309.07 792.51zM307.38 797.01L315.3 801.41L315.3 792.61zM313.61 797.1L321.53 801.5L321.53 792.7zM319.83 797.19L327.75 801.59L327.75 792.79zM326.06 797.27L333.98 801.67L333.98 792.87zM332.29 797.34L340.21 801.74L340.21 792.94zM338.51 797.41L346.43 801.81L346.43 793.01zM344.74 797.47L352.66 801.87L352.66 793.07zM350.97 797.53L358.89 801.93L358.89 793.13zM357.19 797.58L365.11 801.98L365.11 793.18zM363.42 797.62L371.34 802.02L371.34 793.22zM369.65 797.66L377.57 802.06L377.57 793.26zM375.87 797.7L383.79 802.1L383.79 793.3zM382.1 797.73L390.02 802.13L390.02 793.33zM388.33 797.77L396.25 802.17L396.25 793.37zM394.55 797.8L402.47 802.2L402.47 793.4zM400.78 797.83L408.7 802.23L408.7 793.43zM407.01 797.86L414.93 802.26L414.93 793.46zM413.23 797.89L421.15 802.29L421.15 793.49zM419.46 797.92L427.38 802.32L427.38 793.52zM425.69 797.94L433.61 802.34L433.61 793.54zM431.91 797.96L439.83 802.36L439.83 793.56zM438.14 797.98L446.06 802.38L446.06 793.58zM444.37 797.99L452.29 802.39L452.29 793.59zM450.59 798L458.51 802.4L458.51 793.6zM456.82 798L464.74 802.4L464.74 793.6z" fill="#008080"/>
<path d="M88.5 676.5L94.73 693.1L100.95 708L107.18 728.9L113.41 738.2L119.63 745.9L125.86 752.3L132.09 758L138.31 763.5L144.54 766.84L150.77 769.84L156.99 773L163.22 777.5L169.45 779.69L175.67 781.5L181.9 783.89L188.13 786L194.35 787.39L200.58 788.51L206.81 789.5L213.03 790.47L219.26 791.4L225.49 792.26L231.71 793L237.94 793.66L244.17 794.29L250.39 794.84L256.62 795.3L262.85 795.65L269.07 795.97L275.3 796.26L281.53 796.51L287.75 796.73L293.98 796.89L300.21 797L306.43 797.08L312.66 797.15L318.89 797.22L325.11 797.28L331.34 797.35L337.57 797.41L343.79 797.47L350.02 797.52L356.25 797.57L362.47 797.62L368.7 797.67L374.93 797.71L381.15 797.75L387.38 797.79L393.61 797.82L399.83 797.85L406.06 797.88L412.29 797.91L418.51 797.93L424.74 797.95L430.97 797.96L437.19 797.98L443.42 797.99L449.65 797.99L455.87 798L462.1 798" fill="none" stroke="#ffff00" stroke-width="1"/>
<path d="M93.78 676.5L85.86 680.9L85.86 672.1zM100.01 693.1L92.09 697.5L92.09 688.7zM106.23 708L98.31 712.4L98.31 703.6zM112.46 728.9L104.54 733.3L104.54 724.5zM118.69 738.2L110.77 742.6L110.77 733.8zM124.91 745.9L116.99 750.3L116.99 741.5zM131.14 752.3L123.22 756.7L123.22 747.9zM137.37 758L129.45 762.4L129.45 753.6zM143.59 763.5L135.67 767.9L135.67 759.1zM149.82 766.84L141.9 771.24L141.9 762.44zM156.05 769.84L148.13 774.24L148.13 765.44zM162.27 773L154.35 777.4L154.35 768.6zM168.5 777.5L160.58 781.9L160.58 773.1zM174.73 779.69L166.81 784.09L166.81 775.29zM180.95 781.5L173.03 785.9L173.03 777.1zM187.18 783.89L179.26 788.29L179.26 779.49zM193.41 786L185.49 790.4L185.49 781.6zM199.63 787.39L191.71 791.79L191.71 782.99zM205.86 788.51L197.94 792.91L197.94 784.11zM212.09 789.5L204.17 793.9L204.17 785.1zM218.31 790.47L210.39 794.87L210.39 786.07zM224.54 791.4L216.62 795.8L216.62 787zM230.77 792.26L222.85 796.66L222.85 787.86zM236.99 793L229.07 797.4L229.07 788.6zM243.22 793.66L235.3 798.06L235.3 789.26zM249.45 794.29L241.53 798.69L241.53 789.89zM255.67 794.84L247.75 799.24L247.75 790.44zM261.9 795.3L253.98 799.7L253.98 790.9zM268.13 795.65L260.21 800.05L260.21 791.25zM274.35 795.97L266.43 800.37L266.43 791.57zM280.58 796.26L272.66 800.66L272.66 791.86zM286.81 796.51L278.89 800.91L278.89 792.11zM293.03 796.73L285.11 801.13L285.11 792.33zM299.26 796.89L291.34 801.29L291.34 792.49zM305.49 797L297.57 801.4L297.57 792.6zM311.71 797.08L303.79 801.48L303.79 792.68zM317.94 797.15L310.02 801.55L310.02 792.75zM324.17 797.22L316.25 801.62L316.25 792.82zM330.39 797.28L322.47 801.68L322.47 792.88zM336.62 797.35L328.7 801.75L328.7 792.95zM342.85 797.41L334.93 801.81L334.93 793.01zM349.07 797.47L341.15 801.87L341.15 793.07zM355.3 797.52L347.38 801.92L347.38 793.12zM361.53 797.57L353.61 801.97L353.61 793.17zM367.75 797.62L359.83 802.02L359.83 793.22zM373.98 797.67L366.06 802.07L366.06 793.27zM380.21 797.71L372.29 802.11L372.29 793.31zM386.43 797.75L378.51 802.15L378.51 793.35zM392.66 797.79L384.74 802.19L384.74 793.39zM398.89 797.82L390.97 802.22L390.97 793.42zM405.11 797.85L397.19 802.25L397.19 793.45zM411.34 797.88L403.42 802.28L403.42 793.48zM417.57 797.91L409.65 802.31L409.65 793.51zM423.79 797.93L415.87 802.33L415.87 793.53zM430.02 797.95L422.1 802.35L422.1 793.55zM436.25 797.96L428.33 802.36L428.33 793.56zM442.47 797.98L434.55 802.38L434.55 793.58zM448.7 797.99L440.78 802.39L440.78 793.59zM454.93 797.99L447.01 802.39L447.01 793.59zM461.15 798L453.23 802.4L453.23 793.6zM467.38 798L459.46 802.4L459.46 793.6z" fill="#ffff00"/>
<path d="M88.5 702L94.73 714.5L100.95 724L107.18 733.5L113.41 741.5L119.63 748.5L125.86 754.5L132.09 760L138.31 766L144.54 769.24L150.77 772L156.99 775.4L163.22 778.64L169.45 781.5L175.67 783.74L181.9 785.65L188.13 787.31L194.35 788.79L200.58 790L206.81 791L213.03 791.89L219.26 792.69L225.49 793.39L231.71 794L237.94 794.54L244.17 795.02L250.39 795.45L256.62 795.82L262.85 796.14L269.07 796.45L275.3 796.75L281.53 797.02L287.75 797.25L293.98 797.41L300.21 797.5L306.43 797.54L312.66 797.58L318.89 797.62L325.11 797.65L331.34 797.69L337.57 797.72L343.79 797.75L350.02 797.78L356.25 797.8L362.47 797.83L368.7 797.85L374.93 797.87L381.15 797.89L387.38 797.91L393.61 797.92L399.83 797.94L406.06 797.95L412.29 797.96L418.51 797.97L424.74 797.98L430.97 797.98L437.19 797.99L443.42 797.99L449.65 798L455.87 798L462.1 798" fill="none" stroke="#808000" stroke-width="1"/>
<path d="M84.76 702a3.74 3.74 0 1 0 7.48 0a3.74 3.74 0 1 0 -7.48 0zM90.99 714.5a3.74 3.74 0 1 0 7.48 0a3.74 3.74 0 1 0 -7.48 0zM97.21 724a3.74 3.74 0 1 0 7.48 0a3.74 3.74 0 1 0 -7.48 0zM103.44 733.5a3.74 3.74 0 1 0 7.48 0a3.74 3.74 0 1 0 -7.48 0zM109.67 741.5a3.74 3.74 0 1 0 7.48 0a3.74 3.74 0 1 0 -7.48 0zM115.89 748.5a3.74 3.74 0 1 0 7.48 0a3.74 3.74 0 1 0 -7.48 0zM122.12 754.5a3.74 3.74 0 1 0 7.48 0a3.74 3.74 0 1 0 -7.48 0zM128.35 760a3.74 3.74 0 1 0 7.48 0a3.74 3.74 0 1 0 -7.48 0zM134.57 766a3.74 3.74 0 1 0 7.48 0a3.74 3.74 0 1 0 -7.48 0zM140.8 769.24a3.74 3.74 0 1 0 7.48 0a3.74 3.74 0 1 0 -7.48 0zM147.03 772a3.74 3.74 0 1 0 7.48 0a3.74 3.74 0 1 0 -7.48 0zM153.25 775.4a3.74 3.74 0 1 0 7.48 0a3.74 3.74 0 1 0 -7.48 0zM159.48 778.64a3.74 3.74 0 1 0 7.48 0a3.74 3.74 0 1 0 -7.48 0zM165.71 781.5a3.74 3.74 0 1 0 7.48 0a3.74 3.74 0 1 0 -7.48 0zM171.93 783.74a3.74 3.74 0 1 0 7.48 0a3.74 3.74 0 1 0 -7.48 0zM178.16 785.65a3.74 3.74 0 1 0 7.48 0a3.74 3.74 0 1 0 -7.48 0zM184.39 787.31a3.74 3.74 0 1 0 7.48 0a3.74 3.74 0 1 0 -7.48 0zM190.61 788.79a3.74 3.74 0 1 0 7.48 0a3.74 3.74 0 1 0 -7.48 0zM196.84 790a3.74 3.74 0 1 0 7.48 0a3.74 3.74 0 1 0 -7.48 0zM203.07 791a3.74 3.74 0 1 0 7.48 0a3.74 3.74 0 1 0 -7.48 0zM209.29 791.89a3.74 3.74 0 1 0 7.48 0a3.74 3.74 0 1 0 -7.48 0zM215.52 792.69a3.74 3.74 0 1 0 7.48 0a3.74 3.74 0 1 0 -7.48 0zM221.75 793.39a3.74 3.74 0 1 0 7.48 0a3.74 3.74 0 1 0 -7.48 0zM227.97 794a3.74 3.74 0 1 0 7.48 0a3.74 3.74 0 1 0 -7.48 0zM234.2 794.54a3.74 3.74 0 1 0 7.48 0a3.74 3.74 0 1 0 -7.48 0zM240.43 795.02a3.74 3.74 0 1 0 7.48 0a3.74 3.74 0 1 0 -7.48 0zM246.65 795.45a3.74 3.74 0 1 0 7.48 0a3.74 3.74 0 1 0 -7.48 0zM252.88 795.82a3.74 3.74 0 1 0 7.48 0a3.74 3.74 0 1 0 -7.48 0zM259.11 796.14a3.74 3.74 0 1 0 7.48 0a3.74 3.74 0 1 0 -7.48 0zM265.33 796.45a3.74 3.74 0 1 0 7.48 0a3.74 3.74 0 1 0 -7.48 0zM271.56 796.75a3.74 3.74 0 1 0 7.48 0a3.74 3.74 0 1 0 -7.48 0zM277.79 797.02a3.74 3.74 0 1 0 7.48 0a3.74 3.74 0 1 0 -7.48 0zM284.01 797.25a3.74 3.74 0 1 0 7.48 0a3.74 3.74 0 1 0 -7.48 0zM290.24 797.41a3.74 3.74 0 1 0 7.48 0a3.74 3.74 0 1 0 -7.48 0zM296.47 797.5a3.74 3.74 0 1 0 7.48 0a3.74 3.74 0 1 0 -7.48 0zM302.69 797.54a3.74 3.74 0 1 0 7.48 0a3.74 3.74 0 1 0 -7.48 0zM308.92 797.58a3.74 3.74 0 1 0 7.48 0a3.74 3.74 0 1 0 -7.48 0zM315.15 797.62a3.74 3.74 0 1 0 7.48 0a3.74 3.74 0 1 0 -7.48 0zM321.37 797.65a3.74 3.74 0 1 0 7.48 0a3.74 3.74 0 1 0 -7.48 0zM327.6 797.69a3.74 3.74 0 1 0 7.48 0a3.74 3.74 0 1 0 -7.48 0zM333.83 797.72a3.74 3.74 0 1 0 7.48 0a3.74 3.74 0 1 0 -7.48 0zM340.05 797.75a3.74 3.74 0 1 0 7.48 0a3.74 3.74 0 1 0 -7.48 0zM346.28 797.78a3.74 3.74 0 1 0 7.48 0a3.74 3.74 0 1 0 -7.48 0zM352.51 797.8a3.74 3.74 0 1 0 7.48 0a3.74 3.74 0 1 0 -7.48 0zM358.73 797.83a3.74 3.74 0 1 0 7.48 0a3.74 3.74 0 1 0 -7.48 0zM364.96 797.85a3.74 3.74 0 1 0 7.48 0a3.74 3.74 0 1 0 -7.48 0zM371.19 797.87a3.74 3.74 0 1 0 7.48 0a3.74 3.74 0 1 0 -7.48 0zM377.41 797.89a3.74 3.74 0 1 0 7.48 0a3.74 3.74 0 1 0 -7.48 0zM383.64 797.91a3.74 3.74 0 1 0 7.48 0a3.74 3.74 0 1 0 -7.48 0zM389.87 797.92a3.74 3.74 0 1 0 7.48 0a3.74 3.74 0 1 0 -7.48 0zM396.09 797.94a3.74 3.74 0 1 0 7.48 0a3.74 3.74 0 1 0 -7.48 0zM402.32 797.95a3.74 3.74 0 1 0 7.48 0a3.74 3.74 0 1 0 -7.48 0zM408.55 797.96a3.74 3.74 0 1 0 7.48 0a3.74 3.74 0 1 0 -7.48 0zM414.77 797.97a3.74 3.74 0 1 0 7.48 0a3.74 3.74 0 1 0 -7.48 0zM421 797.98a3.74 3.74 0 1 0 7.48 0a3.74 3.74 0 1 0 -7.48 0zM427.23 797.98a3.74 3.74 0 1 0 7.48 0a3.74 3.74 0 1 0 -7.48 0zM433.45 797.99a3.74 3.74 0 1 0 7.48 0a3.74 3.74 0 1 0 -7.48 0zM439.68 797.99a3.74 3.74 0 1 0 7.48 0a3.74 3.74 0 1 0 -7.48 0zM445.91 798a3.74 3.74 0 1 0 7.48 0a3.74 3.74 0 1 0 -7.48 0zM452.13 798a3.74 3.74 0 1 0 7.48 0a3.74 3.74 0 1 0 -7.48 0zM458.36 798a3.74 3.74 0 1 0 7.48 0a3.74 3.74 0 1 0 -7.48 0z" fill="#808000"/>
<path d="M88.5 704L94.73 716.2L100.95 725.6L107.18 735.5L113.41 743.2L119.63 750L125.86 756L132.09 761L138.31 767L144.54 770.24L150.77 773L156.99 776.44L163.22 779.48L169.45 782L175.67 784.19L181.9 786.14L188.13 787.81L194.35 789.29L200.58 790.5L206.81 791.5L213.03 792.39L219.26 793.19L225.49 793.89L231.71 794.5L237.94 795.05L244.17 795.56L250.39 796L256.62 796.35L262.85 796.61L269.07 796.83L275.3 797.02L281.53 797.19L287.75 797.33L293.98 797.44L300.21 797.5L306.43 797.54L312.66 797.58L318.89 797.61L325.11 797.65L331.34 797.68L337.57 797.71L343.79 797.74L350.02 797.77L356.25 797.79L362.47 797.82L368.7 797.84L374.93 797.86L381.15 797.88L387.38 797.9L393.61 797.92L399.83 797.93L406.06 797.94L412.29 797.96L418.51 797.97L424.74 797.98L430.97 797.98L437.19 797.99L443.42 797.99L449.65 798L455.87 798L462.1 798" fill="none" stroke="#000080" stroke-width="1"/>
<path d="M88.5 699.42L89.76 702.26L92.85 702.59L90.55 704.66L91.19 707.7L88.5 706.15L85.81 707.7L86.45 704.66L84.15 702.59L87.24 702.26zM94.73 711.62L95.99 714.46L99.08 714.79L96.77 716.86L97.42 719.9L94.73 718.35L92.04 719.9L92.68 716.86L90.37 714.79L93.46 714.46zM100.95 721.02L102.22 723.86L105.31 724.19L103 726.27L103.64 729.3L100.95 727.75L98.26 729.3L98.91 726.27L96.6 724.19L99.69 723.86zM107.18 730.92L108.44 733.76L111.53 734.09L109.23 736.16L109.87 739.2L107.18 737.65L104.49 739.2L105.13 736.16L102.83 734.09L105.92 733.76zM113.41 738.62L114.67 741.46L117.76 741.79L115.45 743.86L116.1 746.9L113.41 745.35L110.72 746.9L111.36 743.86L109.05 741.79L112.14 741.46zM119.63 745.42L120.9 748.26L123.99 748.59L121.68 750.66L122.32 753.7L119.63 752.15L116.94 753.7L117.59 750.66L115.28 748.59L118.37 748.26zM125.86 751.42L127.12 754.26L130.21 754.59L127.91 756.66L128.55 759.7L125.86 758.15L123.17 759.7L123.81 756.66L121.51 754.59L124.6 754.26zM132.09 756.42L133.35 759.26L136.44 759.59L134.13 761.66L134.78 764.7L132.09 763.15L129.4 764.7L130.04 761.66L127.73 759.59L130.82 759.26zM138.31 762.42L139.58 765.26L142.67 765.59L140.36 767.66L141 770.7L138.31 769.15L135.62 770.7L136.27 767.66L133.96 765.59L137.05 765.26zM144.54 765.67L145.8 768.5L148.89 768.83L146.59 770.91L147.23 773.94L144.54 772.39L141.85 773.94L142.49 770.91L140.19 768.83L143.28 768.5zM150.77 768.42L152.03 771.26L155.12 771.59L152.81 773.66L153.46 776.7L150.77 775.15L148.08 776.7L148.72 773.66L146.41 771.59L149.5 771.26zM156.99 771.87L158.26 774.7L161.35 775.03L159.04 777.11L159.68 780.14L156.99 778.59L154.3 780.14L154.95 777.11L152.64 775.03L155.73 774.7zM163.22 774.9L164.48 777.74L167.57 778.06L165.27 780.14L165.91 783.18L163.22 781.63L160.53 783.18L161.17 780.14L158.87 778.06L161.96 777.74zM169.45 777.42L170.71 780.26L173.8 780.59L171.49 782.66L172.14 785.7L169.45 784.15L166.76 785.7L167.4 782.66L165.09 780.59L168.18 780.26zM175.67 779.62L176.94 782.45L180.03 782.78L177.72 784.86L178.36 787.9L175.67 786.35L172.98 787.9L173.63 784.86L171.32 782.78L174.41 782.45zM181.9 781.56L183.16 784.4L186.25 784.73L183.95 786.81L184.59 789.84L181.9 788.29L179.21 789.84L179.85 786.81L177.55 784.73L180.64 784.4zM188.13 783.23L189.39 786.07L192.48 786.4L190.17 788.47L190.82 791.51L188.13 789.96L185.44 791.51L186.08 788.47L183.77 786.4L186.86 786.07zM194.35 784.71L195.62 787.55L198.71 787.87L196.4 789.95L197.04 792.99L194.35 791.44L191.66 792.99L192.31 789.95L190 787.87L193.09 787.55zM200.58 785.92L201.84 788.76L204.93 789.09L202.63 791.16L203.27 794.2L200.58 792.65L197.89 794.2L198.53 791.16L196.23 789.09L199.32 788.76zM206.81 786.92L208.07 789.76L211.16 790.08L208.85 792.16L209.5 795.2L206.81 793.65L204.12 795.2L204.76 792.16L202.45 790.08L205.54 789.76zM213.03 787.82L214.3 790.65L217.39 790.98L215.08 793.06L215.72 796.09L213.03 794.54L210.34 796.09L210.99 793.06L208.68 790.98L211.77 790.65zM219.26 788.61L220.52 791.45L223.61 791.77L221.31 793.85L221.95 796.89L219.26 795.34L216.57 796.89L217.21 793.85L214.91 791.77L218 791.45zM225.49 789.31L226.75 792.15L229.84 792.48L227.53 794.55L228.18 797.59L225.49 796.04L222.8 797.59L223.44 794.55L221.13 792.48L224.22 792.15zM231.71 789.92L232.98 792.76L236.07 793.09L233.76 795.16L234.4 798.2L231.71 796.65L229.02 798.2L229.67 795.16L227.36 793.09L230.45 792.76zM237.94 790.48L239.2 793.31L242.29 793.64L239.99 795.72L240.63 798.75L237.94 797.2L235.25 798.75L235.89 795.72L233.59 793.64L236.68 793.31zM244.17 790.98L245.43 793.82L248.52 794.15L246.21 796.22L246.86 799.26L244.17 797.71L241.48 799.26L242.12 796.22L239.81 794.15L242.9 793.82zM250.39 791.43L251.66 794.26L254.75 794.59L252.44 796.67L253.08 799.7L250.39 798.15L247.7 799.7L248.35 796.67L246.04 794.59L249.13 794.26zM256.62 791.78L257.88 794.61L260.97 794.94L258.67 797.02L259.31 800.06L256.62 798.5L253.93 800.06L254.57 797.02L252.27 794.94L255.36 794.61zM262.85 792.03L264.11 794.87L267.2 795.19L264.89 797.27L265.54 800.31L262.85 798.76L260.16 800.31L260.8 797.27L258.49 795.19L261.58 794.87zM269.07 792.25L270.34 795.09L273.43 795.41L271.12 797.49L271.76 800.53L269.07 798.98L266.38 800.53L267.03 797.49L264.72 795.41L267.81 795.09zM275.3 792.45L276.56 795.28L279.65 795.61L277.35 797.69L277.99 800.73L275.3 799.17L272.61 800.73L273.25 797.69L270.95 795.61L274.04 795.28zM281.53 792.62L282.79 795.45L285.88 795.78L283.57 797.86L284.22 800.9L281.53 799.34L278.84 800.9L279.48 797.86L277.17 795.78L280.26 795.45zM287.75 792.76L289.02 795.59L292.11 795.92L289.8 798L290.44 801.04L287.75 799.48L285.06 801.04L285.71 798L283.4 795.92L286.49 795.59zM293.98 792.86L295.24 795.7L298.33 796.02L296.03 798.1L296.67 801.14L293.98 799.59L291.29 801.14L291.93 798.1L289.63 796.02L292.72 795.7zM300.21 792.92L301.47 795.76L304.56 796.09L302.25 798.16L302.9 801.2L300.21 799.65L297.52 801.2L298.16 798.16L295.85 796.09L298.94 795.76zM306.43 792.96L307.7 795.8L310.79 796.13L308.48 798.2L309.12 801.24L306.43 799.69L303.74 801.24L304.39 798.2L302.08 796.13L305.17 795.8zM312.66 793L313.92 795.84L317.01 796.16L314.71 798.24L315.35 801.28L312.66 799.73L309.97 801.28L310.61 798.24L308.31 796.16L311.4 795.84zM318.89 793.04L320.15 795.87L323.24 796.2L320.93 798.28L321.58 801.32L318.89 799.76L316.2 801.32L316.84 798.28L314.53 796.2L317.62 795.87zM325.11 793.07L326.38 795.91L329.47 796.23L327.16 798.31L327.8 801.35L325.11 799.8L322.42 801.35L323.07 798.31L320.76 796.23L323.85 795.91zM331.34 793.1L332.6 795.94L335.69 796.27L333.39 798.35L334.03 801.38L331.34 799.83L328.65 801.38L329.29 798.35L326.99 796.27L330.08 795.94zM337.57 793.14L338.83 795.97L341.92 796.3L339.61 798.38L340.26 801.41L337.57 799.86L334.88 801.41L335.52 798.38L333.21 796.3L336.3 795.97zM343.79 793.16L345.06 796L348.15 796.33L345.84 798.41L346.48 801.44L343.79 799.89L341.1 801.44L341.75 798.41L339.44 796.33L342.53 796zM350.02 793.19L351.28 796.03L354.37 796.35L352.07 798.43L352.71 801.47L350.02 799.92L347.33 801.47L347.97 798.43L345.67 796.35L348.76 796.03zM356.25 793.22L357.51 796.05L360.6 796.38L358.29 798.46L358.94 801.5L356.25 799.95L353.56 801.5L354.2 798.46L351.89 796.38L354.98 796.05zM362.47 793.24L363.74 796.08L366.83 796.4L364.52 798.48L365.16 801.52L362.47 799.97L359.78 801.52L360.43 798.48L358.12 796.4L361.21 796.08zM368.7 793.27L369.96 796.1L373.05 796.43L370.75 798.51L371.39 801.54L368.7 799.99L366.01 801.54L366.65 798.51L364.35 796.43L367.44 796.1zM374.93 793.29L376.19 796.12L379.28 796.45L376.97 798.53L377.62 801.56L374.93 800.01L372.24 801.56L372.88 798.53L370.57 796.45L373.66 796.12zM381.15 793.31L382.42 796.14L385.51 796.47L383.2 798.55L383.84 801.58L381.15 800.03L378.46 801.58L379.11 798.55L376.8 796.47L379.89 796.14zM387.38 793.32L388.64 796.16L391.73 796.49L389.43 798.56L390.07 801.6L387.38 800.05L384.69 801.6L385.33 798.56L383.03 796.49L386.12 796.16zM393.61 793.34L394.87 796.18L397.96 796.5L395.65 798.58L396.3 801.62L393.61 800.07L390.92 801.62L391.56 798.58L389.25 796.5L392.34 796.18zM399.83 793.35L401.1 796.19L404.19 796.52L401.88 798.6L402.52 801.63L399.83 800.08L397.14 801.63L397.79 798.6L395.48 796.52L398.57 796.19zM406.06 793.37L407.32 796.2L410.41 796.53L408.11 798.61L408.75 801.65L406.06 800.1L403.37 801.65L404.01 798.61L401.71 796.53L404.8 796.2zM412.29 793.38L413.55 796.22L416.64 796.54L414.33 798.62L414.98 801.66L412.29 800.11L409.6 801.66L410.24 798.62L407.93 796.54L411.02 796.22zM418.51 793.39L419.78 796.23L422.87 796.55L420.56 798.63L421.2 801.67L418.51 800.12L415.82 801.67L416.47 798.63L414.16 796.55L417.25 796.23zM424.74 793.4L426 796.24L429.09 796.56L426.79 798.64L427.43 801.68L424.74 800.13L422.05 801.68L422.69 798.64L420.39 796.56L423.48 796.24zM430.97 793.41L432.23 796.24L435.32 796.57L433.01 798.65L433.66 801.69L430.97 800.13L428.28 801.69L428.92 798.65L426.61 796.57L429.7 796.24zM437.19 793.41L438.46 796.25L441.55 796.58L439.24 798.65L439.88 801.69L437.19 800.14L434.5 801.69L435.15 798.65L432.84 796.58L435.93 796.25zM443.42 793.42L444.68 796.25L447.77 796.58L445.47 798.66L446.11 801.7L443.42 800.14L440.73 801.7L441.37 798.66L439.07 796.58L442.16 796.25zM449.65 793.42L450.91 796.26L454 796.58L451.69 798.66L452.34 801.7L449.65 800.15L446.96 801.7L447.6 798.66L445.29 796.58L448.38 796.26zM455.87 793.42L457.14 796.26L460.23 796.59L457.92 798.66L458.56 801.7L455.87 800.15L453.18 801.7L453.83 798.66L451.52 796.59L454.61 796.26zM462.1 793.42L463.36 796.26L466.45 796.59L464.15 798.66L464.79 801.7L462.1 800.15L459.41 801.7L460.05 798.66L457.75 796.59L460.84 796.26z" fill="#000080"/>
<path d="M88.5 710.7L94.73 721.7L100.95 730.5L107.18 738.2L113.41 746.5L119.63 752.5L125.86 758.6L132.09 763.5L138.31 768.5L144.54 771.52L150.77 774.46L156.99 777.5L163.22 779.55L169.45 781.4L175.67 783.31L181.9 785.5L188.13 788.7L194.35 790.27L200.58 791.39L206.81 792.31L213.03 793.22L219.26 794.09L225.49 794.86L231.71 795.5L237.94 796.05L244.17 796.54L250.39 796.98L256.62 797.34L262.85 797.63L269.07 797.89L275.3 798.11L281.53 798.26L287.75 798.32L293.98 798.35L300.21 798.39L306.43 798.41L312.66 798.44L318.89 798.46L325.11 798.47L331.34 798.48L337.57 798.49L343.79 798.5L350.02 798.5L356.25 798.5L362.47 798.5L368.7 798.5L374.93 798.5L381.15 798.5L387.38 798.5L393.61 798.5L399.83 798.5L406.06 798.5L412.29 798.5L418.51 798.5L424.74 798.5L430.97 798.5L437.19 798.5L443.42 798.5L449.65 798.5L455.87 798.5L462.1 798.5" fill="none" stroke="#800080" stroke-width="1"/>
<path d="M88.5 706.3L92.68 709.34L91.09 714.26L85.91 714.26L84.32 709.34zM94.73 717.3L98.91 720.34L97.31 725.26L92.14 725.26L90.54 720.34zM100.95 726.1L105.14 729.14L103.54 734.06L98.37 734.06L96.77 729.14zM107.18 733.8L111.36 736.84L109.77 741.76L104.59 741.76L103 736.84zM113.41 742.1L117.59 745.14L115.99 750.06L110.82 750.06L109.22 745.14zM119.63 748.1L123.82 751.14L122.22 756.06L117.05 756.06L115.45 751.14zM125.86 754.2L130.04 757.24L128.45 762.16L123.27 762.16L121.68 757.24zM132.09 759.1L136.27 762.14L134.67 767.06L129.5 767.06L127.9 762.14zM138.31 764.1L142.5 767.14L140.9 772.06L135.73 772.06L134.13 767.14zM144.54 767.12L148.72 770.16L147.13 775.08L141.95 775.08L140.36 770.16zM150.77 770.06L154.95 773.1L153.35 778.02L148.18 778.02L146.58 773.1zM156.99 773.1L161.18 776.14L159.58 781.06L154.41 781.06L152.81 776.14zM163.22 775.15L167.4 778.2L165.81 783.11L160.63 783.11L159.04 778.2zM169.45 777L173.63 780.04L172.03 784.96L166.86 784.96L165.26 780.04zM175.67 778.91L179.86 781.95L178.26 786.87L173.09 786.87L171.49 781.95zM181.9 781.1L186.08 784.14L184.49 789.06L179.31 789.06L177.72 784.14zM188.13 784.3L192.31 787.34L190.71 792.26L185.54 792.26L183.94 787.34zM194.35 785.87L198.54 788.91L196.94 793.83L191.77 793.83L190.17 788.91zM200.58 786.99L204.76 790.03L203.17 794.95L197.99 794.95L196.4 790.03zM206.81 787.91L210.99 790.95L209.39 795.87L204.22 795.87L202.62 790.95zM213.03 788.82L217.22 791.86L215.62 796.78L210.45 796.78L208.85 791.86zM219.26 789.69L223.44 792.73L221.85 797.64L216.67 797.64L215.08 792.73zM225.49 790.46L229.67 793.5L228.07 798.42L222.9 798.42L221.3 793.5zM231.71 791.1L235.9 794.14L234.3 799.06L229.13 799.06L227.53 794.14zM237.94 791.65L242.12 794.69L240.53 799.61L235.35 799.61L233.76 794.69zM244.17 792.14L248.35 795.18L246.75 800.1L241.58 800.1L239.98 795.18zM250.39 792.58L254.58 795.62L252.98 800.54L247.81 800.54L246.21 795.62zM256.62 792.94L260.8 795.98L259.21 800.9L254.03 800.9L252.44 795.98zM262.85 793.23L267.03 796.27L265.43 801.19L260.26 801.19L258.66 796.27zM269.07 793.49L273.26 796.53L271.66 801.45L266.49 801.45L264.89 796.53zM275.3 793.71L279.48 796.75L277.89 801.67L272.71 801.67L271.12 796.75zM281.53 793.86L285.71 796.9L284.11 801.82L278.94 801.82L277.34 796.9zM287.75 793.92L291.94 796.96L290.34 801.88L285.17 801.88L283.57 796.96zM293.98 793.95L298.16 796.99L296.57 801.91L291.39 801.91L289.8 796.99zM300.21 793.99L304.39 797.03L302.79 801.95L297.62 801.95L296.02 797.03zM306.43 794.01L310.62 797.05L309.02 801.97L303.85 801.97L302.25 797.05zM312.66 794.04L316.84 797.08L315.25 802L310.07 802L308.48 797.08zM318.89 794.06L323.07 797.1L321.47 802.02L316.3 802.02L314.7 797.1zM325.11 794.07L329.3 797.11L327.7 802.03L322.53 802.03L320.93 797.11zM331.34 794.08L335.52 797.12L333.93 802.04L328.75 802.04L327.16 797.12zM337.57 794.09L341.75 797.13L340.15 802.05L334.98 802.05L333.38 797.13zM343.79 794.1L347.98 797.14L346.38 802.06L341.21 802.06L339.61 797.14zM350.02 794.1L354.2 797.14L352.61 802.06L347.43 802.06L345.84 797.14zM356.25 794.1L360.43 797.14L358.83 802.06L353.66 802.06L352.06 797.14zM362.47 794.1L366.66 797.14L365.06 802.06L359.89 802.06L358.29 797.14zM368.7 794.1L372.88 797.14L371.29 802.06L366.11 802.06L364.52 797.14zM374.93 794.1L379.11 797.14L377.51 802.06L372.34 802.06L370.74 797.14zM381.15 794.1L385.34 797.14L383.74 802.06L378.57 802.06L376.97 797.14zM387.38 794.1L391.56 797.14L389.97 802.06L384.79 802.06L383.2 797.14zM393.61 794.1L397.79 797.14L396.19 802.06L391.02 802.06L389.42 797.14zM399.83 794.1L404.02 797.14L402.42 802.06L397.25 802.06L395.65 797.14zM406.06 794.1L410.24 797.14L408.65 802.06L403.47 802.06L401.88 797.14zM412.29 794.1L416.47 797.14L414.87 802.06L409.7 802.06L408.1 797.14zM418.51 794.1L422.7 797.14L421.1 802.06L415.93 802.06L414.33 797.14zM424.74 794.1L428.92 797.14L427.33 802.06L422.15 802.06L420.56 797.14zM430.97 794.1L435.15 797.14L433.55 802.06L428.38 802.06L426.78 797.14zM437.19 794.1L441.38 797.14L439.78 802.06L434.61 802.06L433.01 797.14zM443.42 794.1L447.6 797.14L446.01 802.06L440.83 802.06L439.24 797.14zM449.65 794.1L453.83 797.14L452.23 802.06L447.06 802.06L445.46 797.14zM455.87 794.1L460.06 797.14L458.46 802.06L453.29 802.06L451.69 797.14zM462.1 794.1L466.28 797.14L464.69 802.06L459.51 802.06L457.92 797.14z" fill="#800080"/>
</g>
<clipPath id="cpd"><rect x="556" y="484" width="368" height="339"/></clipPath>
<g clip-path="url(#cpd)">
<path d="M555.5 531.4L561.62 555L567.74 572L573.86 590.4L579.98 609.4L586.1 621L592.22 638.3L598.34 649.3L604.46 662.2L610.58 673L616.7 684.6L622.82 693.5L628.94 701.3L635.06 709.5L641.18 716.2L647.3 722.8L653.42 729.4L659.54 744.3L665.66 748.3L671.78 752.1L677.9 755.9L684.02 758.7L690.14 762L696.26 765.3L702.38 767.8L708.5 770.3L714.62 772.5L720.74 774.4L726.86 776.4L732.98 778.1L739.1 779.7L745.22 781.1L751.34 782.4L757.46 783.4L763.58 784.6L769.7 785.5L775.82 786.3L781.94 787.1L788.06 787.7L794.18 788.1L800.3 788.44L806.42 788.73L812.54 789.01L818.66 789.3L824.78 789.6L830.9 789.9L837.02 790.18L843.14 790.43L849.26 790.67L855.38 790.9L861.5 791.12L867.62 791.32L873.74 791.5L879.86 791.67L885.98 791.83L892.1 791.98L898.22 792.13L904.34 792.27L910.46 792.39L916.58 792.5L922.7 792.6" fill="none" stroke="#000000" stroke-width="1"/>
<path d="M552.2 528.1h6.6v6.6h-6.6zM558.32 551.7h6.6v6.6h-6.6zM564.44 568.7h6.6v6.6h-6.6zM570.56 587.1h6.6v6.6h-6.6zM576.68 606.1h6.6v6.6h-6.6zM582.8 617.7h6.6v6.6h-6.6zM588.92 635h6.6v6.6h-6.6zM595.04 646h6.6v6.6h-6.6zM601.16 658.9h6.6v6.6h-6.6zM607.28 669.7h6.6v6.6h-6.6zM613.4 681.3h6.6v6.6h-6.6zM619.52 690.2h6.6v6.6h-6.6zM625.64 698h6.6v6.6h-6.6zM631.76 706.2h6.6v6.6h-6.6zM637.88 712.9h6.6v6.6h-6.6zM644 719.5h6.6v6.6h-6.6zM650.12 726.1h6.6v6.6h-6.6zM656.24 741h6.6v6.6h-6.6zM662.36 745h6.6v6.6h-6.6zM668.48 748.8h6.6v6.6h-6.6zM674.6 752.6h6.6v6.6h-6.6zM680.72 755.4h6.6v6.6h-6.6zM686.84 758.7h6.6v6.6h-6.6zM692.96 762h6.6v6.6h-6.6zM699.08 764.5h6.6v6.6h-6.6zM705.2 767h6.6v6.6h-6.6zM711.32 769.2h6.6v6.6h-6.6zM717.44 771.1h6.6v6.6h-6.6zM723.56 773.1h6.6v6.6h-6.6zM729.68 774.8h6.6v6.6h-6.6zM735.8 776.4h6.6v6.6h-6.6zM741.92 777.8h6.6v6.6h-6.6zM748.04 779.1h6.6v6.6h-6.6zM754.16 780.1h6.6v6.6h-6.6zM760.28 781.3h6.6v6.6h-6.6zM766.4 782.2h6.6v6.6h-6.6zM772.52 783h6.6v6.6h-6.6zM778.64 783.8h6.6v6.6h-6.6zM784.76 784.4h6.6v6.6h-6.6zM790.88 784.8h6.6v6.6h-6.6zM797 785.14h6.6v6.6h-6.6zM803.12 785.43h6.6v6.6h-6.6zM809.24 785.71h6.6v6.6h-6.6zM815.36 786h6.6v6.6h-6.6zM821.48 786.3h6.6v6.6h-6.6zM827.6 786.6h6.6v6.6h-6.6zM833.72 786.88h6.6v6.6h-6.6zM839.84 787.13h6.6v6.6h-6.6zM845.96 787.37h6.6v6.6h-6.6zM852.08 787.6h6.6v6.6h-6.6zM858.2 787.82h6.6v6.6h-6.6zM864.32 788.02h6.6v6.6h-6.6zM870.44 788.2h6.6v6.6h-6.6zM876.56 788.37h6.6v6.6h-6.6zM882.68 788.53h6.6v6.6h-6.6zM888.8 788.68h6.6v6.6h-6.6zM894.92 788.83h6.6v6.6h-6.6zM901.04 788.97h6.6v6.6h-6.6zM907.16 789.09h6.6v6.6h-6.6zM913.28 789.2h6.6v6.6h-6.6zM919.4 789.3h6.6v6.6h-6.6z" fill="#000000"/>
<path d="M555.5 773L561.62 771.15L567.74 770L573.86 769.49L579.98 769.13L586.1 769L592.22 769.26L598.34 769.9L604.46 770.7L610.58 771.86L616.7 773.38L622.82 774.91L628.94 776.53L635.06 778.1L641.18 779.59L647.3 781.03L653.42 782.3L659.54 783.37L665.66 784.32L671.78 785.21L677.9 786.05L684.02 786.8L690.14 787.49L696.26 788.13L702.38 788.71L708.5 789.2L714.62 789.62L720.74 790L726.86 790.36L732.98 790.68L739.1 790.98L745.22 791.25L751.34 791.5L757.46 791.74L763.58 791.96L769.7 792.18L775.82 792.38L781.94 792.56L788.06 792.73L794.18 792.87L800.3 793L806.42 793.11L812.54 793.23L818.66 793.34L824.78 793.45L830.9 793.56L837.02 793.66L843.14 793.76L849.26 793.86L855.38 793.95L861.5 794.04L867.62 794.12L873.74 794.19L879.86 794.26L885.98 794.32L892.1 794.37L898.22 794.42L904.34 794.45L910.46 794.48L916.58 794.49L922.7 794.5" fill="none" stroke="#004040" stroke-width="1"/>
<path d="M551.76 773a3.74 3.74 0 1 0 7.48 0a3.74 3.74 0 1 0 -7.48 0zM557.88 771.15a3.74 3.74 0 1 0 7.48 0a3.74 3.74 0 1 0 -7.48 0zM564 770a3.74 3.74 0 1 0 7.48 0a3.74 3.74 0 1 0 -7.48 0zM570.12 769.49a3.74 3.74 0 1 0 7.48 0a3.74 3.74 0 1 0 -7.48 0zM576.24 769.13a3.74 3.74 0 1 0 7.48 0a3.74 3.74 0 1 0 -7.48 0zM582.36 769a3.74 3.74 0 1 0 7.48 0a3.74 3.74 0 1 0 -7.48 0zM588.48 769.26a3.74 3.74 0 1 0 7.48 0a3.74 3.74 0 1 0 -7.48 0zM594.6 769.9a3.74 3.74 0 1 0 7.48 0a3.74 3.74 0 1 0 -7.48 0zM600.72 770.7a3.74 3.74 0 1 0 7.48 0a3.74 3.74 0 1 0 -7.48 0zM606.84 771.86a3.74 3.74 0 1 0 7.48 0a3.74 3.74 0 1 0 -7.48 0zM612.96 773.38a3.74 3.74 0 1 0 7.48 0a3.74 3.74 0 1 0 -7.48 0zM619.08 774.91a3.74 3.74 0 1 0 7.48 0a3.74 3.74 0 1 0 -7.48 0zM625.2 776.53a3.74 3.74 0 1 0 7.48 0a3.74 3.74 0 1 0 -7.48 0zM631.32 778.1a3.74 3.74 0 1 0 7.48 0a3.74 3.74 0 1 0 -7.48 0zM637.44 779.59a3.74 3.74 0 1 0 7.48 0a3.74 3.74 0 1 0 -7.48 0zM643.56 781.03a3.74 3.74 0 1 0 7.48 0a3.74 3.74 0 1 0 -7.48 0zM649.68 782.3a3.74 3.74 0 1 0 7.48 0a3.74 3.74 0 1 0 -7.48 0zM655.8 783.37a3.74 3.74 0 1 0 7.48 0a3.74 3.74 0 1 0 -7.48 0zM661.92 784.32a3.74 3.74 0 1 0 7.48 0a3.74 3.74 0 1 0 -7.48 0zM668.04 785.21a3.74 3.74 0 1 0 7.48 0a3.74 3.74 0 1 0 -7.48 0zM674.16 786.05a3.74 3.74 0 1 0 7.48 0a3.74 3.74 0 1 0 -7.48 0zM680.28 786.8a3.74 3.74 0 1 0 7.48 0a3.74 3.74 0 1 0 -7.48 0zM686.4 787.49a3.74 3.74 0 1 0 7.48 0a3.74 3.74 0 1 0 -7.48 0zM692.52 788.13a3.74 3.74 0 1 0 7.48 0a3.74 3.74 0 1 0 -7.48 0zM698.64 788.71a3.74 3.74 0 1 0 7.48 0a3.74 3.74 0 1 0 -7.48 0zM704.76 789.2a3.74 3.74 0 1 0 7.48 0a3.74 3.74 0 1 0 -7.48 0zM710.88 789.62a3.74 3.74 0 1 0 7.48 0a3.74 3.74 0 1 0 -7.48 0zM717 790a3.74 3.74 0 1 0 7.48 0a3.74 3.74 0 1 0 -7.48 0zM723.12 790.36a3.74 3.74 0 1 0 7.48 0a3.74 3.74 0 1 0 -7.48 0zM729.24 790.68a3.74 3.74 0 1 0 7.48 0a3.74 3.74 0 1 0 -7.48 0zM735.36 790.98a3.74 3.74 0 1 0 7.48 0a3.74 3.74 0 1 0 -7.48 0zM741.48 791.25a3.74 3.74 0 1 0 7.48 0a3.74 3.74 0 1 0 -7.48 0zM747.6 791.5a3.74 3.74 0 1 0 7.48 0a3.74 3.74 0 1 0 -7.48 0zM753.72 791.74a3.74 3.74 0 1 0 7.48 0a3.74 3.74 0 1 0 -7.48 0zM759.84 791.96a3.74 3.74 0 1 0 7.48 0a3.74 3.74 0 1 0 -7.48 0zM765.96 792.18a3.74 3.74 0 1 0 7.48 0a3.74 3.74 0 1 0 -7.48 0zM772.08 792.38a3.74 3.74 0 1 0 7.48 0a3.74 3.74 0 1 0 -7.48 0zM778.2 792.56a3.74 3.74 0 1 0 7.48 0a3.74 3.74 0 1 0 -7.48 0zM784.32 792.73a3.74 3.74 0 1 0 7.48 0a3.74 3.74 0 1 0 -7.48 0zM790.44 792.87a3.74 3.74 0 1 0 7.48 0a3.74 3.74 0 1 0 -7.48 0zM796.56 793a3.74 3.74 0 1 0 7.48 0a3.74 3.74 0 1 0 -7.48 0zM802.68 793.11a3.74 3.74 0 1 0 7.48 0a3.74 3.74 0 1 0 -7.48 0zM808.8 793.23a3.74 3.74 0 1 0 7.48 0a3.74 3.74 0 1 0 -7.48 0zM814.92 793.34a3.74 3.74 0 1 0 7.48 0a3.74 3.74 0 1 0 -7.48 0zM821.04 793.45a3.74 3.74 0 1 0 7.48 0a3.74 3.74 0 1 0 -7.48 0zM827.16 793.56a3.74 3.74 0 1 0 7.48 0a3.74 3.74 0 1 0 -7.48 0zM833.28 793.66a3.74 3.74 0 1 0 7.48 0a3.74 3.74 0 1 0 -7.48 0zM839.4 793.76a3.74 3.74 0 1 0 7.48 0a3.74 3.74 0 1 0 -7.48 0zM845.52 793.86a3.74 3.74 0 1 0 7.48 0a3.74 3.74 0 1 0 -7.48 0zM851.64 793.95a3.74 3.74 0 1 0 7.48 0a3.74 3.74 0 1 0 -7.48 0zM857.76 794.04a3.74 3.74 0 1 0 7.48 0a3.74 3.74 0 1 0 -7.48 0zM863.88 794.12a3.74 3.74 0 1 0 7.48 0a3.74 3.74 0 1 0 -7.48 0zM870 794.19a3.74 3.74 0 1 0 7.48 0a3.74 3.74 0 1 0 -7.48 0zM876.12 794.26a3.74 3.74 0 1 0 7.48 0a3.74 3.74 0 1 0 -7.48 0zM882.24 794.32a3.74 3.74 0 1 0 7.48 0a3.74 3.74 0 1 0 -7.48 0zM888.36 794.37a3.74 3.74 0 1 0 7.48 0a3.74 3.74 0 1 0 -7.48 0zM894.48 794.42a3.74 3.74 0 1 0 7.48 0a3.74 3.74 0 1 0 -7.48 0zM900.6 794.45a3.74 3.74 0 1 0 7.48 0a3.74 3.74 0 1 0 -7.48 0zM906.72 794.48a3.74 3.74 0 1 0 7.48 0a3.74 3.74 0 1 0 -7.48 0zM912.84 794.49a3.74 3.74 0 1 0 7.48 0a3.74 3.74 0 1 0 -7.48 0zM918.96 794.5a3.74 3.74 0 1 0 7.48 0a3.74 3.74 0 1 0 -7.48 0z" fill="#004040"/>
<path d="M555.5 780.5L561.62 780.98L567.74 781.47L573.86 781.97L579.98 782.48L586.1 783L592.22 783.54L598.34 784.09L604.46 784.65L610.58 785.22L616.7 785.78L622.82 786.33L628.94 786.91L635.06 787.5L641.18 788.06L647.3 788.57L653.42 789L659.54 789.36L665.66 789.71L671.78 790.02L677.9 790.32L684.02 790.6L690.14 790.85L696.26 791.09L702.38 791.3L708.5 791.5L714.62 791.68L720.74 791.85L726.86 792.02L732.98 792.17L739.1 792.32L745.22 792.46L751.34 792.6L757.46 792.73L763.58 792.85L769.7 792.97L775.82 793.09L781.94 793.19L788.06 793.3L794.18 793.4L800.3 793.5L806.42 793.6L812.54 793.69L818.66 793.79L824.78 793.88L830.9 793.97L837.02 794.06L843.14 794.14L849.26 794.23L855.38 794.31L861.5 794.39L867.62 794.47L873.74 794.54L879.86 794.61L885.98 794.68L892.1 794.74L898.22 794.8L904.34 794.86L910.46 794.91L916.58 794.96L922.7 795" fill="none" stroke="#400080" stroke-width="1"/>
<path d="M555.5 785.78L559.9 777.86L551.1 777.86zM561.62 786.26L566.02 778.34L557.22 778.34zM567.74 786.75L572.14 778.83L563.34 778.83zM573.86 787.25L578.26 779.33L569.46 779.33zM579.98 787.76L584.38 779.84L575.58 779.84zM586.1 788.28L590.5 780.36L581.7 780.36zM592.22 788.82L596.62 780.9L587.82 780.9zM598.34 789.37L602.74 781.45L593.94 781.45zM604.46 789.93L608.86 782.01L600.06 782.01zM610.58 790.5L614.98 782.58L606.18 782.58zM616.7 791.06L621.1 783.14L612.3 783.14zM622.82 791.61L627.22 783.69L618.42 783.69zM628.94 792.19L633.34 784.27L624.54 784.27zM635.06 792.78L639.46 784.86L630.66 784.86zM641.18 793.34L645.58 785.42L636.78 785.42zM647.3 793.85L651.7 785.93L642.9 785.93zM653.42 794.28L657.82 786.36L649.02 786.36zM659.54 794.64L663.94 786.72L655.14 786.72zM665.66 794.99L670.06 787.07L661.26 787.07zM671.78 795.3L676.18 787.38L667.38 787.38zM677.9 795.6L682.3 787.68L673.5 787.68zM684.02 795.88L688.42 787.96L679.62 787.96zM690.14 796.13L694.54 788.21L685.74 788.21zM696.26 796.37L700.66 788.45L691.86 788.45zM702.38 796.58L706.78 788.66L697.98 788.66zM708.5 796.78L712.9 788.86L704.1 788.86zM714.62 796.96L719.02 789.04L710.22 789.04zM720.74 797.13L725.14 789.21L716.34 789.21zM726.86 797.3L731.26 789.38L722.46 789.38zM732.98 797.45L737.38 789.53L728.58 789.53zM739.1 797.6L743.5 789.68L734.7 789.68zM745.22 797.74L749.62 789.82L740.82 789.82zM751.34 797.88L755.74 789.96L746.94 789.96zM757.46 798.01L761.86 790.09L753.06 790.09zM763.58 798.13L767.98 790.21L759.18 790.21zM769.7 798.25L774.1 790.33L765.3 790.33zM775.82 798.37L780.22 790.45L771.42 790.45zM781.94 798.47L786.34 790.55L777.54 790.55zM788.06 798.58L792.46 790.66L783.66 790.66zM794.18 798.68L798.58 790.76L789.78 790.76zM800.3 798.78L804.7 790.86L795.9 790.86zM806.42 798.88L810.82 790.96L802.02 790.96zM812.54 798.97L816.94 791.05L808.14 791.05zM818.66 799.07L823.06 791.15L814.26 791.15zM824.78 799.16L829.18 791.24L820.38 791.24zM830.9 799.25L835.3 791.33L826.5 791.33zM837.02 799.34L841.42 791.42L832.62 791.42zM843.14 799.42L847.54 791.5L838.74 791.5zM849.26 799.51L853.66 791.59L844.86 791.59zM855.38 799.59L859.78 791.67L850.98 791.67zM861.5 799.67L865.9 791.75L857.1 791.75zM867.62 799.75L872.02 791.83L863.22 791.83zM873.74 799.82L878.14 791.9L869.34 791.9zM879.86 799.89L884.26 791.97L875.46 791.97zM885.98 799.96L890.38 792.04L881.58 792.04zM892.1 800.02L896.5 792.1L887.7 792.1zM898.22 800.08L902.62 792.16L893.82 792.16zM904.34 800.14L908.74 792.22L899.94 792.22zM910.46 800.19L914.86 792.27L906.06 792.27zM916.58 800.24L920.98 792.32L912.18 792.32zM922.7 800.28L927.1 792.36L918.3 792.36z" fill="#400080"/>
<path d="M555.5 792.5L561.62 792.53L567.74 792.56L573.86 792.59L579.98 792.62L586.1 792.65L592.22 792.68L598.34 792.71L604.46 792.75L610.58 792.78L616.7 792.81L622.82 792.85L628.94 792.88L635.06 792.91L641.18 792.95L647.3 792.98L653.42 793.02L659.54 793.06L665.66 793.1L671.78 793.14L677.9 793.18L684.02 793.22L690.14 793.26L696.26 793.31L702.38 793.35L708.5 793.39L714.62 793.44L720.74 793.48L726.86 793.53L732.98 793.57L739.1 793.62L745.22 793.66L751.34 793.7L757.46 793.74L763.58 793.78L769.7 793.82L775.82 793.86L781.94 793.9L788.06 793.93L794.18 793.97L800.3 794L806.42 794.03L812.54 794.06L818.66 794.09L824.78 794.12L830.9 794.15L837.02 794.18L843.14 794.2L849.26 794.23L855.38 794.26L861.5 794.28L867.62 794.31L873.74 794.33L879.86 794.35L885.98 794.38L892.1 794.4L898.22 794.42L904.34 794.44L910.46 794.46L916.58 794.48L922.7 794.5" fill="none" stroke="#00ff00" stroke-width="1"/>
<path d="M555.5 788.54L559.9 796.46L551.1 796.46zM561.62 788.57L566.02 796.49L557.22 796.49zM567.74 788.6L572.14 796.52L563.34 796.52zM573.86 788.63L578.26 796.55L569.46 796.55zM579.98 788.66L584.38 796.58L575.58 796.58zM586.1 788.69L590.5 796.61L581.7 796.61zM592.22 788.72L596.62 796.64L587.82 796.64zM598.34 788.75L602.74 796.67L593.94 796.67zM604.46 788.79L608.86 796.71L600.06 796.71zM610.58 788.82L614.98 796.74L606.18 796.74zM616.7 788.85L621.1 796.77L612.3 796.77zM622.82 788.89L627.22 796.81L618.42 796.81zM628.94 788.92L633.34 796.84L624.54 796.84zM635.06 788.95L639.46 796.87L630.66 796.87zM641.18 788.99L645.58 796.91L636.78 796.91zM647.3 789.02L651.7 796.94L642.9 796.94zM653.42 789.06L657.82 796.98L649.02 796.98zM659.54 789.1L663.94 797.02L655.14 797.02zM665.66 789.14L670.06 797.06L661.26 797.06zM671.78 789.18L676.18 797.1L667.38 797.1zM677.9 789.22L682.3 797.14L673.5 797.14zM684.02 789.26L688.42 797.18L679.62 797.18zM690.14 789.3L694.54 797.22L685.74 797.22zM696.26 789.35L700.66 797.27L691.86 797.27zM702.38 789.39L706.78 797.31L697.98 797.31zM708.5 789.43L712.9 797.35L704.1 797.35zM714.62 789.48L719.02 797.4L710.22 797.4zM720.74 789.52L725.14 797.44L716.34 797.44zM726.86 789.57L731.26 797.49L722.46 797.49zM732.98 789.61L737.38 797.53L728.58 797.53zM739.1 789.66L743.5 797.58L734.7 797.58zM745.22 789.7L749.62 797.62L740.82 797.62zM751.34 789.74L755.74 797.66L746.94 797.66zM757.46 789.78L761.86 797.7L753.06 797.7zM763.58 789.82L767.98 797.74L759.18 797.74zM769.7 789.86L774.1 797.78L765.3 797.78zM775.82 789.9L780.22 797.82L771.42 797.82zM781.94 789.94L786.34 797.86L777.54 797.86zM788.06 789.97L792.46 797.89L783.66 797.89zM794.18 790.01L798.58 797.93L789.78 797.93zM800.3 790.04L804.7 797.96L795.9 797.96zM806.42 790.07L810.82 797.99L802.02 797.99zM812.54 790.1L816.94 798.02L808.14 798.02zM818.66 790.13L823.06 798.05L814.26 798.05zM824.78 790.16L829.18 798.08L820.38 798.08zM830.9 790.19L835.3 798.11L826.5 798.11zM837.02 790.22L841.42 798.14L832.62 798.14zM843.14 790.24L847.54 798.16L838.74 798.16zM849.26 790.27L853.66 798.19L844.86 798.19zM855.38 790.3L859.78 798.22L850.98 798.22zM861.5 790.32L865.9 798.24L857.1 798.24zM867.62 790.35L872.02 798.27L863.22 798.27zM873.74 790.37L878.14 798.29L869.34 798.29zM879.86 790.39L884.26 798.31L875.46 798.31zM885.98 790.42L890.38 798.34L881.58 798.34zM892.1 790.44L896.5 798.36L887.7 798.36zM898.22 790.46L902.62 798.38L893.82 798.38zM904.34 790.48L908.74 798.4L899.94 798.4zM910.46 790.5L914.86 798.42L906.06 798.42zM916.58 790.52L920.98 798.44L912.18 798.44zM922.7 790.54L927.1 798.46L918.3 798.46z" fill="#00ff00"/>
</g>
<path d="M81.5 22.5H475.5V362.5H81.5Z" fill="none" stroke="#000" stroke-width="1" shape-rendering="crispEdges"/>
<path d="M111.5 362.5v-3 M128.5 362.5v-3 M140.5 362.5v-3 M150.5 362.5v-3 M157.5 362.5v-3 M164.5 362.5v-3 M170.5 362.5v-3 M175.5 362.5v-3 M179.5 362.5v-6 M208.5 362.5v-3 M225.5 362.5v-3 M238.5 362.5v-3 M247.5 362.5v-3 M255.5 362.5v-3 M261.5 362.5v-3 M267.5 362.5v-3 M272.5 362.5v-3 M276.5 362.5v-6 M306.5 362.5v-3 M323.5 362.5v-3 M335.5 362.5v-3 M344.5 362.5v-3 M352.5 362.5v-3 M359.5 362.5v-3 M364.5 362.5v-3 M369.5 362.5v-3 M374.5 362.5v-6 M403.5 362.5v-3 M420.5 362.5v-3 M432.5 362.5v-3 M442.5 362.5v-3 M450.5 362.5v-3 M456.5 362.5v-3 M462.5 362.5v-3 M467.5 362.5v-3 M471.5 362.5v-6 M81.5 331.5h7 M81.5 269.5h7 M81.5 207.5h7 M81.5 145.5h7 M81.5 84.5h7 M81.5 22.5h7 M81.5 300.5h3.5 M81.5 238.5h3.5 M81.5 176.5h3.5 M81.5 114.5h3.5 M81.5 53.5h3.5" fill="none" stroke="#000" stroke-width="1" shape-rendering="crispEdges"/>
<text x="80.7" y="379.5" text-anchor="middle" class="tk" textLength="15.84" lengthAdjust="spacingAndGlyphs">0.1</text>
<text x="179.05" y="379.5" text-anchor="middle" class="tk" textLength="6.34" lengthAdjust="spacingAndGlyphs">1</text>
<text x="276.4" y="379.5" text-anchor="middle" class="tk" textLength="12.68" lengthAdjust="spacingAndGlyphs">10</text>
<text x="373.75" y="379.5" text-anchor="middle" class="tk" textLength="19.01" lengthAdjust="spacingAndGlyphs">100</text>
<text x="471.1" y="379.5" text-anchor="middle" class="tk" textLength="25.35" lengthAdjust="spacingAndGlyphs">1000</text>
<text x="74.5" y="335.1" text-anchor="end" class="tk" textLength="15.84" lengthAdjust="spacingAndGlyphs">0.0</text>
<text x="74.5" y="273.23" text-anchor="end" class="tk" textLength="15.84" lengthAdjust="spacingAndGlyphs">0.5</text>
<text x="74.5" y="211.35" text-anchor="end" class="tk" textLength="15.84" lengthAdjust="spacingAndGlyphs">1.0</text>
<text x="74.5" y="149.47" text-anchor="end" class="tk" textLength="15.84" lengthAdjust="spacingAndGlyphs">1.5</text>
<text x="74.5" y="87.6" text-anchor="end" class="tk" textLength="15.84" lengthAdjust="spacingAndGlyphs">2.0</text>
<text x="74.5" y="25.73" text-anchor="end" class="tk" textLength="15.84" lengthAdjust="spacingAndGlyphs">2.5</text>
<path d="M576.5 26.5H937.5V365.5H576.5Z" fill="none" stroke="#000" stroke-width="1" shape-rendering="crispEdges"/>
<path d="M603.5 365.5v-3 M619.5 365.5v-3 M630.5 365.5v-3 M639.5 365.5v-3 M646.5 365.5v-3 M652.5 365.5v-3 M657.5 365.5v-3 M662.5 365.5v-3 M666.5 365.5v-6 M693.5 365.5v-3 M708.5 365.5v-3 M720.5 365.5v-3 M728.5 365.5v-3 M735.5 365.5v-3 M741.5 365.5v-3 M746.5 365.5v-3 M751.5 365.5v-3 M755.5 365.5v-6 M782.5 365.5v-3 M798.5 365.5v-3 M809.5 365.5v-3 M818.5 365.5v-3 M825.5 365.5v-3 M831.5 365.5v-3 M836.5 365.5v-3 M840.5 365.5v-3 M844.5 365.5v-6 M871.5 365.5v-3 M887.5 365.5v-3 M898.5 365.5v-3 M907.5 365.5v-3 M914.5 365.5v-3 M920.5 365.5v-3 M925.5 365.5v-3 M930.5 365.5v-3 M934.5 365.5v-6 M576.5 348.5h7 M576.5 305.5h7 M576.5 262.5h7 M576.5 219.5h7 M576.5 176.5h7 M576.5 133.5h7 M576.5 90.5h7 M576.5 48.5h7 M576.5 326.5h3.5 M576.5 283.5h3.5 M576.5 240.5h3.5 M576.5 198.5h3.5 M576.5 155.5h3.5 M576.5 112.5h3.5 M576.5 69.5h3.5" fill="none" stroke="#000" stroke-width="1" shape-rendering="crispEdges"/>
<text x="575.5" y="383.5" text-anchor="middle" class="tk" textLength="15" lengthAdjust="spacingAndGlyphs">0.1</text>
<text x="665.8" y="383.5" text-anchor="middle" class="tk" textLength="6" lengthAdjust="spacingAndGlyphs">1</text>
<text x="755.1" y="383.5" text-anchor="middle" class="tk" textLength="12.01" lengthAdjust="spacingAndGlyphs">10</text>
<text x="844.4" y="383.5" text-anchor="middle" class="tk" textLength="18.01" lengthAdjust="spacingAndGlyphs">100</text>
<text x="933.7" y="383.5" text-anchor="middle" class="tk" textLength="24.02" lengthAdjust="spacingAndGlyphs">1000</text>
<text x="569.5" y="351.6" text-anchor="end" class="tk" textLength="15" lengthAdjust="spacingAndGlyphs">0.0</text>
<text x="569.5" y="308.75" text-anchor="end" class="tk" textLength="15" lengthAdjust="spacingAndGlyphs">0.5</text>
<text x="569.5" y="265.9" text-anchor="end" class="tk" textLength="15" lengthAdjust="spacingAndGlyphs">1.0</text>
<text x="569.5" y="223.05" text-anchor="end" class="tk" textLength="15" lengthAdjust="spacingAndGlyphs">1.5</text>
<text x="569.5" y="180.2" text-anchor="end" class="tk" textLength="15" lengthAdjust="spacingAndGlyphs">2.0</text>
<text x="569.5" y="137.35" text-anchor="end" class="tk" textLength="15" lengthAdjust="spacingAndGlyphs">2.5</text>
<text x="569.5" y="94.5" text-anchor="end" class="tk" textLength="15" lengthAdjust="spacingAndGlyphs">3.0</text>
<text x="569.5" y="51.65" text-anchor="end" class="tk" textLength="15" lengthAdjust="spacingAndGlyphs">3.5</text>
<path d="M88.5 482.5H465.5V819.5H88.5Z" fill="none" stroke="#000" stroke-width="1" shape-rendering="crispEdges"/>
<path d="M116.5 819.5v-3 M133.5 819.5v-3 M144.5 819.5v-3 M153.5 819.5v-3 M161.5 819.5v-3 M167.5 819.5v-3 M172.5 819.5v-3 M177.5 819.5v-3 M181.5 819.5v-6 M210.5 819.5v-3 M226.5 819.5v-3 M238.5 819.5v-3 M247.5 819.5v-3 M254.5 819.5v-3 M260.5 819.5v-3 M266.5 819.5v-3 M271.5 819.5v-3 M275.5 819.5v-6 M303.5 819.5v-3 M319.5 819.5v-3 M331.5 819.5v-3 M340.5 819.5v-3 M347.5 819.5v-3 M354.5 819.5v-3 M359.5 819.5v-3 M364.5 819.5v-3 M368.5 819.5v-6 M396.5 819.5v-3 M413.5 819.5v-3 M424.5 819.5v-3 M433.5 819.5v-3 M441.5 819.5v-3 M447.5 819.5v-3 M453.5 819.5v-3 M457.5 819.5v-3 M462.5 819.5v-6 M88.5 798.5h7 M88.5 745.5h7 M88.5 693.5h7 M88.5 640.5h7 M88.5 588.5h7 M88.5 535.5h7 M88.5 482.5h7 M88.5 771.5h3.5 M88.5 719.5h3.5 M88.5 666.5h3.5 M88.5 614.5h3.5 M88.5 561.5h3.5 M88.5 509.5h3.5" fill="none" stroke="#000" stroke-width="1" shape-rendering="crispEdges"/>
<text x="87" y="837.3" text-anchor="middle" class="tk" textLength="15.84" lengthAdjust="spacingAndGlyphs">0.1</text>
<text x="181.4" y="837.3" text-anchor="middle" class="tk" textLength="6.34" lengthAdjust="spacingAndGlyphs">1</text>
<text x="274.8" y="837.3" text-anchor="middle" class="tk" textLength="12.68" lengthAdjust="spacingAndGlyphs">10</text>
<text x="368.2" y="837.3" text-anchor="middle" class="tk" textLength="19.01" lengthAdjust="spacingAndGlyphs">100</text>
<text x="461.6" y="837.3" text-anchor="middle" class="tk" textLength="25.35" lengthAdjust="spacingAndGlyphs">1000</text>
<text x="81.5" y="801.8" text-anchor="end" class="tk" textLength="15.84" lengthAdjust="spacingAndGlyphs">0.0</text>
<text x="81.5" y="749.25" text-anchor="end" class="tk" textLength="15.84" lengthAdjust="spacingAndGlyphs">0.5</text>
<text x="81.5" y="696.7" text-anchor="end" class="tk" textLength="15.84" lengthAdjust="spacingAndGlyphs">1.0</text>
<text x="81.5" y="644.15" text-anchor="end" class="tk" textLength="15.84" lengthAdjust="spacingAndGlyphs">1.5</text>
<text x="81.5" y="591.6" text-anchor="end" class="tk" textLength="15.84" lengthAdjust="spacingAndGlyphs">2.0</text>
<text x="81.5" y="539.05" text-anchor="end" class="tk" textLength="15.84" lengthAdjust="spacingAndGlyphs">2.5</text>
<text x="81.5" y="486.5" text-anchor="end" class="tk" textLength="15.84" lengthAdjust="spacingAndGlyphs">3.0</text>
<path d="M555.5 483.5H924.5V823.5H555.5Z" fill="none" stroke="#000" stroke-width="1" shape-rendering="crispEdges"/>
<path d="M583.5 823.5v-3 M599.5 823.5v-3 M610.5 823.5v-3 M619.5 823.5v-3 M626.5 823.5v-3 M632.5 823.5v-3 M638.5 823.5v-3 M642.5 823.5v-3 M647.5 823.5v-6 M674.5 823.5v-3 M690.5 823.5v-3 M702.5 823.5v-3 M710.5 823.5v-3 M718.5 823.5v-3 M724.5 823.5v-3 M729.5 823.5v-3 M734.5 823.5v-3 M738.5 823.5v-6 M766.5 823.5v-3 M782.5 823.5v-3 M793.5 823.5v-3 M802.5 823.5v-3 M809.5 823.5v-3 M815.5 823.5v-3 M821.5 823.5v-3 M825.5 823.5v-3 M830.5 823.5v-6 M857.5 823.5v-3 M873.5 823.5v-3 M885.5 823.5v-3 M893.5 823.5v-3 M901.5 823.5v-3 M907.5 823.5v-3 M912.5 823.5v-3 M917.5 823.5v-3 M921.5 823.5v-6 M555.5 795.5h7 M555.5 738.5h7 M555.5 681.5h7 M555.5 625.5h7 M555.5 568.5h7 M555.5 512.5h7 M555.5 766.5h3.5 M555.5 710.5h3.5 M555.5 653.5h3.5 M555.5 597.5h3.5 M555.5 540.5h3.5" fill="none" stroke="#000" stroke-width="1" shape-rendering="crispEdges"/>
<text x="554" y="841" text-anchor="middle" class="tk" textLength="15" lengthAdjust="spacingAndGlyphs">0.1</text>
<text x="646.5" y="841" text-anchor="middle" class="tk" textLength="6" lengthAdjust="spacingAndGlyphs">1</text>
<text x="738" y="841" text-anchor="middle" class="tk" textLength="12.01" lengthAdjust="spacingAndGlyphs">10</text>
<text x="829.5" y="841" text-anchor="middle" class="tk" textLength="18.01" lengthAdjust="spacingAndGlyphs">100</text>
<text x="921" y="841" text-anchor="middle" class="tk" textLength="24.02" lengthAdjust="spacingAndGlyphs">1000</text>
<text x="548.5" y="798.6" text-anchor="end" class="tk" textLength="6" lengthAdjust="spacingAndGlyphs">0</text>
<text x="548.5" y="742.04" text-anchor="end" class="tk" textLength="6" lengthAdjust="spacingAndGlyphs">1</text>
<text x="548.5" y="685.48" text-anchor="end" class="tk" textLength="6" lengthAdjust="spacingAndGlyphs">2</text>
<text x="548.5" y="628.92" text-anchor="end" class="tk" textLength="6" lengthAdjust="spacingAndGlyphs">3</text>
<text x="548.5" y="572.36" text-anchor="end" class="tk" textLength="6" lengthAdjust="spacingAndGlyphs">4</text>
<text x="548.5" y="515.8" text-anchor="end" class="tk" textLength="6" lengthAdjust="spacingAndGlyphs">5</text>
<path d="M169 52.5H181M193 52.5H205" stroke="#000000" stroke-width="1" shape-rendering="crispEdges"/>
<path d="M182.88 48.38h8.25v8.25h-8.25z" fill="#000000"/>
<text x="209" y="57.5" class="lg" textLength="19.5" lengthAdjust="spacingAndGlyphs">RT</text>
<path d="M169 75.5H181M193 75.5H205" stroke="#004040" stroke-width="1" shape-rendering="crispEdges"/>
<path d="M182.32 75.5a4.67 4.67 0 1 0 9.35 0a4.67 4.67 0 1 0 -9.35 0z" fill="#004040"/>
<text x="209" y="80.5" class="lg" textLength="37.5" lengthAdjust="spacingAndGlyphs">100<tspan dy="-8.8" font-size="8.5">0</tspan><tspan dy="8.8">C</tspan></text>
<path d="M169 99.5H181M193 99.5H205" stroke="#00ff00" stroke-width="1" shape-rendering="crispEdges"/>
<path d="M187 92.9L192.5 102.8L181.5 102.8z" fill="#00ff00"/>
<text x="209" y="104.5" class="lg" textLength="37.5" lengthAdjust="spacingAndGlyphs">150<tspan dy="-8.8" font-size="8.5">0</tspan><tspan dy="8.8">C</tspan></text>
<path d="M169 123.5H181M193 123.5H205" stroke="#400080" stroke-width="1" shape-rendering="crispEdges"/>
<path d="M187 130.1L192.5 120.2L181.5 120.2z" fill="#400080"/>
<text x="209" y="128.5" class="lg" textLength="37.5" lengthAdjust="spacingAndGlyphs">200<tspan dy="-8.8" font-size="8.5">0</tspan><tspan dy="8.8">C</tspan></text>
<path d="M169 147.5H181M193 147.5H205" stroke="#00ffff" stroke-width="1" shape-rendering="crispEdges"/>
<path d="M187 142L192.5 147.5L187 153L181.5 147.5z" fill="#00ffff"/>
<text x="209" y="152.5" class="lg" textLength="37.5" lengthAdjust="spacingAndGlyphs">250<tspan dy="-8.8" font-size="8.5">0</tspan><tspan dy="8.8">C</tspan></text>
<path d="M270 51.5H282M294 51.5H306" stroke="#008080" stroke-width="1" shape-rendering="crispEdges"/>
<path d="M281.4 51.5L291.3 57L291.3 46z" fill="#008080"/>
<text x="310.5" y="56.7" class="lg" textLength="37.5" lengthAdjust="spacingAndGlyphs">300<tspan dy="-8.8" font-size="8.5">0</tspan><tspan dy="8.8">C</tspan></text>
<path d="M270 75.5H282M294 75.5H306" stroke="#ffff00" stroke-width="1" shape-rendering="crispEdges"/>
<path d="M294.6 75.5L284.7 81L284.7 70z" fill="#ffff00"/>
<text x="310.5" y="80.7" class="lg" textLength="37.5" lengthAdjust="spacingAndGlyphs">350<tspan dy="-8.8" font-size="8.5">0</tspan><tspan dy="8.8">C</tspan></text>
<path d="M270 99.5H282M294 99.5H306" stroke="#808000" stroke-width="1" shape-rendering="crispEdges"/>
<path d="M283.32 99.5a4.67 4.67 0 1 0 9.35 0a4.67 4.67 0 1 0 -9.35 0z" fill="#808000"/>
<text x="310.5" y="104.7" class="lg" textLength="37.5" lengthAdjust="spacingAndGlyphs">400<tspan dy="-8.8" font-size="8.5">0</tspan><tspan dy="8.8">C</tspan></text>
<path d="M270 123.5H282M294 123.5H306" stroke="#000080" stroke-width="1" shape-rendering="crispEdges"/>
<path d="M288 117.78L289.58 121.33L293.44 121.73L290.56 124.33L291.36 128.13L288 126.19L284.64 128.13L285.44 124.33L282.56 121.73L286.42 121.33z" fill="#000080"/>
<text x="310.5" y="128.7" class="lg" textLength="37.5" lengthAdjust="spacingAndGlyphs">450<tspan dy="-8.8" font-size="8.5">0</tspan><tspan dy="8.8">C</tspan></text>
<path d="M270 147.5H282M294 147.5H306" stroke="#800080" stroke-width="1" shape-rendering="crispEdges"/>
<path d="M288 142L293.23 145.8L291.23 151.95L284.77 151.95L282.77 145.8z" fill="#800080"/>
<text x="310.5" y="152.7" class="lg" textLength="37.5" lengthAdjust="spacingAndGlyphs">500<tspan dy="-8.8" font-size="8.5">0</tspan><tspan dy="8.8">C</tspan></text>
<path d="M677 99.5H687.4M699.4 99.5H709.5" stroke="#000000" stroke-width="1" shape-rendering="crispEdges"/>
<path d="M689.46 95.56h7.88v7.88h-7.88z" fill="#000000"/>
<text x="713.5" y="104" class="lg" textLength="18.5" lengthAdjust="spacingAndGlyphs">RT</text>
<path d="M677 122.5H687.4M699.4 122.5H709.5" stroke="#004040" stroke-width="1" shape-rendering="crispEdges"/>
<path d="M688.94 122.5a4.46 4.46 0 1 0 8.92 0a4.46 4.46 0 1 0 -8.92 0z" fill="#004040"/>
<text x="713.5" y="126.7" class="lg" textLength="34.5" lengthAdjust="spacingAndGlyphs">100<tspan dy="-8.8" font-size="8.5">0</tspan><tspan dy="8.8">C</tspan></text>
<path d="M677 146.5H687.4M699.4 146.5H709.5" stroke="#00ff00" stroke-width="1" shape-rendering="crispEdges"/>
<path d="M693.4 140.2L698.65 149.65L688.15 149.65z" fill="#00ff00"/>
<text x="713.5" y="150.6" class="lg" textLength="34.5" lengthAdjust="spacingAndGlyphs">150<tspan dy="-8.8" font-size="8.5">0</tspan><tspan dy="8.8">C</tspan></text>
<path d="M677 170.5H687.4M699.4 170.5H709.5" stroke="#400080" stroke-width="1" shape-rendering="crispEdges"/>
<path d="M693.4 176.8L698.65 167.35L688.15 167.35z" fill="#400080"/>
<text x="713.5" y="174.3" class="lg" textLength="34.5" lengthAdjust="spacingAndGlyphs">200<tspan dy="-8.8" font-size="8.5">0</tspan><tspan dy="8.8">C</tspan></text>
<path d="M677 193.5H687.4M699.4 193.5H709.5" stroke="#00ffff" stroke-width="1" shape-rendering="crispEdges"/>
<path d="M693.4 188.25L698.65 193.5L693.4 198.75L688.15 193.5z" fill="#00ffff"/>
<text x="713.5" y="197.8" class="lg" textLength="34.5" lengthAdjust="spacingAndGlyphs">250<tspan dy="-8.8" font-size="8.5">0</tspan><tspan dy="8.8">C</tspan></text>
<path d="M784 97.5H794.4M806.4 97.5H817" stroke="#008080" stroke-width="1" shape-rendering="crispEdges"/>
<path d="M794.1 97.5L803.55 102.75L803.55 92.25z" fill="#008080"/>
<text x="820" y="102.9" class="lg" textLength="34.5" lengthAdjust="spacingAndGlyphs">300<tspan dy="-8.8" font-size="8.5">0</tspan><tspan dy="8.8">C</tspan></text>
<path d="M784 121.5H794.4M806.4 121.5H817" stroke="#ffff00" stroke-width="1" shape-rendering="crispEdges"/>
<path d="M806.7 121.5L797.25 126.75L797.25 116.25z" fill="#ffff00"/>
<text x="820" y="126.7" class="lg" textLength="34.5" lengthAdjust="spacingAndGlyphs">350<tspan dy="-8.8" font-size="8.5">0</tspan><tspan dy="8.8">C</tspan></text>
<path d="M784 145.5H794.4M806.4 145.5H817" stroke="#808000" stroke-width="1" shape-rendering="crispEdges"/>
<path d="M795.94 145.5a4.46 4.46 0 1 0 8.92 0a4.46 4.46 0 1 0 -8.92 0z" fill="#808000"/>
<text x="820" y="150.5" class="lg" textLength="34.5" lengthAdjust="spacingAndGlyphs">400<tspan dy="-8.8" font-size="8.5">0</tspan><tspan dy="8.8">C</tspan></text>
<path d="M784 168.5H794.4M806.4 168.5H817" stroke="#000080" stroke-width="1" shape-rendering="crispEdges"/>
<path d="M800.4 163.04L801.91 166.42L805.59 166.81L802.84 169.29L803.61 172.92L800.4 171.07L797.19 172.92L797.96 169.29L795.21 166.81L798.89 166.42z" fill="#000080"/>
<text x="820" y="173.9" class="lg" textLength="34.5" lengthAdjust="spacingAndGlyphs">450<tspan dy="-8.8" font-size="8.5">0</tspan><tspan dy="8.8">C</tspan></text>
<path d="M784 192.5H794.4M806.4 192.5H817" stroke="#800080" stroke-width="1" shape-rendering="crispEdges"/>
<path d="M800.4 187.25L805.39 190.88L803.49 196.75L797.31 196.75L795.41 190.88z" fill="#800080"/>
<text x="820" y="197.8" class="lg" textLength="34.5" lengthAdjust="spacingAndGlyphs">500<tspan dy="-8.8" font-size="8.5">0</tspan><tspan dy="8.8">C</tspan></text>
<path d="M213 545.5H223.8M235.8 545.5H246.5" stroke="#000000" stroke-width="1" shape-rendering="crispEdges"/>
<path d="M225.86 541.56h7.88v7.88h-7.88z" fill="#000000"/>
<text x="251" y="550.4" class="lg" textLength="18.5" lengthAdjust="spacingAndGlyphs">RT</text>
<path d="M213 568.5H223.8M235.8 568.5H246.5" stroke="#004040" stroke-width="1" shape-rendering="crispEdges"/>
<path d="M225.34 568.5a4.46 4.46 0 1 0 8.92 0a4.46 4.46 0 1 0 -8.92 0z" fill="#004040"/>
<text x="251" y="573.4" class="lg" textLength="35" lengthAdjust="spacingAndGlyphs">100<tspan dy="-8.8" font-size="8.5">0</tspan><tspan dy="8.8">C</tspan></text>
<path d="M213 592.5H223.8M235.8 592.5H246.5" stroke="#00ff00" stroke-width="1" shape-rendering="crispEdges"/>
<path d="M229.8 586.2L235.05 595.65L224.55 595.65z" fill="#00ff00"/>
<text x="251" y="597.4" class="lg" textLength="35" lengthAdjust="spacingAndGlyphs">150<tspan dy="-8.8" font-size="8.5">0</tspan><tspan dy="8.8">C</tspan></text>
<path d="M213 616.5H223.8M235.8 616.5H246.5" stroke="#400080" stroke-width="1" shape-rendering="crispEdges"/>
<path d="M229.8 622.8L235.05 613.35L224.55 613.35z" fill="#400080"/>
<text x="251" y="621.4" class="lg" textLength="35" lengthAdjust="spacingAndGlyphs">200<tspan dy="-8.8" font-size="8.5">0</tspan><tspan dy="8.8">C</tspan></text>
<path d="M213 640.5H223.8M235.8 640.5H246.5" stroke="#00ffff" stroke-width="1" shape-rendering="crispEdges"/>
<path d="M229.8 635.25L235.05 640.5L229.8 645.75L224.55 640.5z" fill="#00ffff"/>
<text x="251" y="645.4" class="lg" textLength="35" lengthAdjust="spacingAndGlyphs">250<tspan dy="-8.8" font-size="8.5">0</tspan><tspan dy="8.8">C</tspan></text>
<path d="M326 545.5H336.7M348.7 545.5H359" stroke="#008080" stroke-width="1" shape-rendering="crispEdges"/>
<path d="M336.4 545.5L345.85 550.75L345.85 540.25z" fill="#008080"/>
<text x="363.4" y="550.4" class="lg" textLength="35" lengthAdjust="spacingAndGlyphs">300<tspan dy="-8.8" font-size="8.5">0</tspan><tspan dy="8.8">C</tspan></text>
<path d="M326 569.5H336.7M348.7 569.5H359" stroke="#ffff00" stroke-width="1" shape-rendering="crispEdges"/>
<path d="M349 569.5L339.55 574.75L339.55 564.25z" fill="#ffff00"/>
<text x="363.4" y="574.4" class="lg" textLength="35" lengthAdjust="spacingAndGlyphs">350<tspan dy="-8.8" font-size="8.5">0</tspan><tspan dy="8.8">C</tspan></text>
<path d="M326 592.5H336.7M348.7 592.5H359" stroke="#808000" stroke-width="1" shape-rendering="crispEdges"/>
<path d="M338.24 592.5a4.46 4.46 0 1 0 8.92 0a4.46 4.46 0 1 0 -8.92 0z" fill="#808000"/>
<text x="363.4" y="597.4" class="lg" textLength="35" lengthAdjust="spacingAndGlyphs">400<tspan dy="-8.8" font-size="8.5">0</tspan><tspan dy="8.8">C</tspan></text>
<path d="M326 616.5H336.7M348.7 616.5H359" stroke="#000080" stroke-width="1" shape-rendering="crispEdges"/>
<path d="M342.7 611.04L344.21 614.42L347.89 614.81L345.14 617.29L345.91 620.92L342.7 619.07L339.49 620.92L340.26 617.29L337.51 614.81L341.19 614.42z" fill="#000080"/>
<text x="363.4" y="621.4" class="lg" textLength="35" lengthAdjust="spacingAndGlyphs">450<tspan dy="-8.8" font-size="8.5">0</tspan><tspan dy="8.8">C</tspan></text>
<path d="M326 639.5H336.7M348.7 639.5H359" stroke="#800080" stroke-width="1" shape-rendering="crispEdges"/>
<path d="M342.7 634.25L347.69 637.88L345.79 643.75L339.61 643.75L337.71 637.88z" fill="#800080"/>
<text x="363.4" y="644.4" class="lg" textLength="35" lengthAdjust="spacingAndGlyphs">500<tspan dy="-8.8" font-size="8.5">0</tspan><tspan dy="8.8">C</tspan></text>
<path d="M721 548.5H732.5M743.5 548.5H754" stroke="#000000" stroke-width="1" shape-rendering="crispEdges"/>
<path d="M733.88 544.38h8.25v8.25h-8.25z" fill="#000000"/>
<text x="759" y="554.2" class="lgs" textLength="54.5" lengthAdjust="spacingAndGlyphs">BNBT06</text>
<path d="M721 569.5H732.5M743.5 569.5H754" stroke="#000000" stroke-width="1" shape-rendering="crispEdges"/>
<path d="M733.88 565.38h8.25v8.25h-8.25z" fill="#000000"/>
<text x="759" y="575" class="lgs" textLength="32.5" lengthAdjust="spacingAndGlyphs">16 %</text>
<path d="M721 589.5H732.5M743.5 589.5H754" stroke="#004040" stroke-width="1" shape-rendering="crispEdges"/>
<path d="M733.33 589.5a4.67 4.67 0 1 0 9.35 0a4.67 4.67 0 1 0 -9.35 0z" fill="#004040"/>
<text x="759" y="595.3" class="lgs" textLength="32.5" lengthAdjust="spacingAndGlyphs">18 %</text>
<path d="M721 610.5H732.5M743.5 610.5H754" stroke="#00ff00" stroke-width="1" shape-rendering="crispEdges"/>
<path d="M738 603.9L743.5 613.8L732.5 613.8z" fill="#00ff00"/>
<text x="759" y="616.4" class="lgs" textLength="32.5" lengthAdjust="spacingAndGlyphs">20 %</text>
<text x="211.3" y="409.8" class="ti" textLength="134.4" lengthAdjust="spacingAndGlyphs">Frequency(kHz)</text>
<text transform="translate(696.3 412.7) scale(0.9 1)" x="0" y="0" class="ti" textLength="136.44" lengthAdjust="spacing">Frequency(kHz)</text>
<text x="213.2" y="865.7" class="ti" textLength="128.4" lengthAdjust="spacingAndGlyphs">Frequency(kHz)</text>
<text transform="translate(676.6 870.7) scale(0.86 1)" x="0" y="0" class="ti" textLength="147.21" lengthAdjust="spacing">Frequency(kHz)</text>
<text x="267" y="433.8" class="sl" textLength="21.6" lengthAdjust="spacingAndGlyphs">(a)</text>
<text x="747.1" y="436.9" class="sl" textLength="20.2" lengthAdjust="spacingAndGlyphs">(b)</text>
<text x="267" y="889.7" class="sl" textLength="19.1" lengthAdjust="spacingAndGlyphs">(c)</text>
<text x="729.5" y="894.7" class="sl" textLength="21.2" lengthAdjust="spacingAndGlyphs">(d)</text>
<text transform="translate(41.8 238.7) rotate(-90)" x="0" y="0" class="ty" textLength="63.8" lengthAdjust="spacingAndGlyphs">Z"(MΩ)</text>
<text transform="translate(539.8 241.7) rotate(-90)" x="0" y="0" class="ty" textLength="62.9" lengthAdjust="spacingAndGlyphs">Z"(M<tspan font-weight="normal">Ω</tspan>)</text>
<text transform="translate(49.7 696.7) rotate(-90)" x="0" y="0" class="ty" textLength="62.9" lengthAdjust="spacingAndGlyphs">Z"(M<tspan font-weight="normal">Ω</tspan>)</text>
<text transform="translate(527.7 699.7) rotate(-90)" x="0" y="0" class="ty" textLength="62.9" lengthAdjust="spacingAndGlyphs">Z"(M<tspan font-weight="normal">Ω</tspan>)</text>
<rect x="466" y="752" width="1" height="1" fill="#000"/>
</svg></body></html>
